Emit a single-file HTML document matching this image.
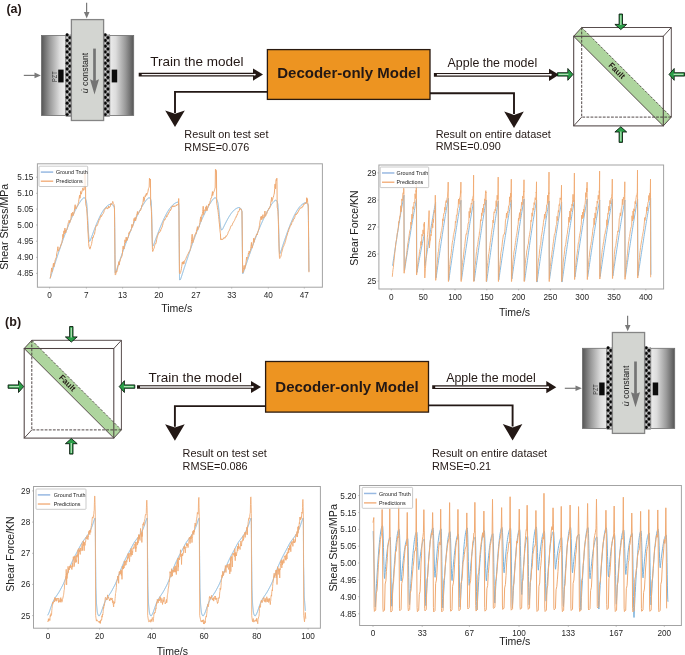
<!DOCTYPE html>
<html><head><meta charset="utf-8"><style>
html,body{margin:0;padding:0;background:#fff;width:685px;height:655px;overflow:hidden}
svg{display:block;will-change:transform}
text{font-family:"Liberation Sans",sans-serif}
</style></head><body>
<svg width="685" height="655" viewBox="0 0 685 655" font-family="Liberation Sans, sans-serif">
<rect width="685" height="655" fill="#fff"/>
<defs>
<linearGradient id="gL" x1="0" x2="1" y1="0" y2="0">
 <stop offset="0" stop-color="#555"/><stop offset="0.35" stop-color="#9a9a9a"/><stop offset="0.75" stop-color="#dcdcdc"/><stop offset="1" stop-color="#ececec"/></linearGradient>
<linearGradient id="gR" x1="1" x2="0" y1="0" y2="0">
 <stop offset="0" stop-color="#555"/><stop offset="0.35" stop-color="#9a9a9a"/><stop offset="0.75" stop-color="#dcdcdc"/><stop offset="1" stop-color="#ececec"/></linearGradient>
<linearGradient id="gG" x1="0" x2="0" y1="0" y2="1">
 <stop offset="0" stop-color="#6cc27a"/><stop offset="1" stop-color="#1f8a3e"/></linearGradient>
</defs>
<text x="6.40" y="12.80" font-size="12.5" font-weight="700" fill="#231815" text-anchor="start" >(a)</text>
<g transform="translate(0.00,0.00)">
<rect x="41.4" y="35.4" width="24.3" height="80.1" fill="url(#gL)" stroke="#6e6e6e" stroke-width="0.8"/>
<rect x="109.8" y="35.4" width="23.9" height="80.1" fill="url(#gR)" stroke="#6e6e6e" stroke-width="0.8"/>
<rect x="65.7" y="34.2" width="6.0" height="82.6" fill="#8a8a8a"/>
<circle cx="67.10" cy="34.80" r="1.45" fill="#050505"/>
<circle cx="69.90" cy="34.80" r="0.75" fill="#f0f0f0"/>
<circle cx="69.90" cy="37.65" r="1.45" fill="#050505"/>
<circle cx="67.10" cy="37.65" r="0.75" fill="#f0f0f0"/>
<circle cx="67.10" cy="40.50" r="1.45" fill="#050505"/>
<circle cx="69.90" cy="40.50" r="0.75" fill="#f0f0f0"/>
<circle cx="69.90" cy="43.35" r="1.45" fill="#050505"/>
<circle cx="67.10" cy="43.35" r="0.75" fill="#f0f0f0"/>
<circle cx="67.10" cy="46.20" r="1.45" fill="#050505"/>
<circle cx="69.90" cy="46.20" r="0.75" fill="#f0f0f0"/>
<circle cx="69.90" cy="49.05" r="1.45" fill="#050505"/>
<circle cx="67.10" cy="49.05" r="0.75" fill="#f0f0f0"/>
<circle cx="67.10" cy="51.90" r="1.45" fill="#050505"/>
<circle cx="69.90" cy="51.90" r="0.75" fill="#f0f0f0"/>
<circle cx="69.90" cy="54.75" r="1.45" fill="#050505"/>
<circle cx="67.10" cy="54.75" r="0.75" fill="#f0f0f0"/>
<circle cx="67.10" cy="57.60" r="1.45" fill="#050505"/>
<circle cx="69.90" cy="57.60" r="0.75" fill="#f0f0f0"/>
<circle cx="69.90" cy="60.45" r="1.45" fill="#050505"/>
<circle cx="67.10" cy="60.45" r="0.75" fill="#f0f0f0"/>
<circle cx="67.10" cy="63.30" r="1.45" fill="#050505"/>
<circle cx="69.90" cy="63.30" r="0.75" fill="#f0f0f0"/>
<circle cx="69.90" cy="66.15" r="1.45" fill="#050505"/>
<circle cx="67.10" cy="66.15" r="0.75" fill="#f0f0f0"/>
<circle cx="67.10" cy="69.00" r="1.45" fill="#050505"/>
<circle cx="69.90" cy="69.00" r="0.75" fill="#f0f0f0"/>
<circle cx="69.90" cy="71.85" r="1.45" fill="#050505"/>
<circle cx="67.10" cy="71.85" r="0.75" fill="#f0f0f0"/>
<circle cx="67.10" cy="74.70" r="1.45" fill="#050505"/>
<circle cx="69.90" cy="74.70" r="0.75" fill="#f0f0f0"/>
<circle cx="69.90" cy="77.55" r="1.45" fill="#050505"/>
<circle cx="67.10" cy="77.55" r="0.75" fill="#f0f0f0"/>
<circle cx="67.10" cy="80.40" r="1.45" fill="#050505"/>
<circle cx="69.90" cy="80.40" r="0.75" fill="#f0f0f0"/>
<circle cx="69.90" cy="83.25" r="1.45" fill="#050505"/>
<circle cx="67.10" cy="83.25" r="0.75" fill="#f0f0f0"/>
<circle cx="67.10" cy="86.10" r="1.45" fill="#050505"/>
<circle cx="69.90" cy="86.10" r="0.75" fill="#f0f0f0"/>
<circle cx="69.90" cy="88.95" r="1.45" fill="#050505"/>
<circle cx="67.10" cy="88.95" r="0.75" fill="#f0f0f0"/>
<circle cx="67.10" cy="91.80" r="1.45" fill="#050505"/>
<circle cx="69.90" cy="91.80" r="0.75" fill="#f0f0f0"/>
<circle cx="69.90" cy="94.65" r="1.45" fill="#050505"/>
<circle cx="67.10" cy="94.65" r="0.75" fill="#f0f0f0"/>
<circle cx="67.10" cy="97.50" r="1.45" fill="#050505"/>
<circle cx="69.90" cy="97.50" r="0.75" fill="#f0f0f0"/>
<circle cx="69.90" cy="100.35" r="1.45" fill="#050505"/>
<circle cx="67.10" cy="100.35" r="0.75" fill="#f0f0f0"/>
<circle cx="67.10" cy="103.20" r="1.45" fill="#050505"/>
<circle cx="69.90" cy="103.20" r="0.75" fill="#f0f0f0"/>
<circle cx="69.90" cy="106.05" r="1.45" fill="#050505"/>
<circle cx="67.10" cy="106.05" r="0.75" fill="#f0f0f0"/>
<circle cx="67.10" cy="108.90" r="1.45" fill="#050505"/>
<circle cx="69.90" cy="108.90" r="0.75" fill="#f0f0f0"/>
<circle cx="69.90" cy="111.75" r="1.45" fill="#050505"/>
<circle cx="67.10" cy="111.75" r="0.75" fill="#f0f0f0"/>
<circle cx="67.10" cy="114.60" r="1.45" fill="#050505"/>
<circle cx="69.90" cy="114.60" r="0.75" fill="#f0f0f0"/>
<rect x="103.8" y="34.2" width="6.0" height="82.6" fill="#8a8a8a"/>
<circle cx="105.20" cy="34.80" r="1.45" fill="#050505"/>
<circle cx="108.00" cy="34.80" r="0.75" fill="#f0f0f0"/>
<circle cx="108.00" cy="37.65" r="1.45" fill="#050505"/>
<circle cx="105.20" cy="37.65" r="0.75" fill="#f0f0f0"/>
<circle cx="105.20" cy="40.50" r="1.45" fill="#050505"/>
<circle cx="108.00" cy="40.50" r="0.75" fill="#f0f0f0"/>
<circle cx="108.00" cy="43.35" r="1.45" fill="#050505"/>
<circle cx="105.20" cy="43.35" r="0.75" fill="#f0f0f0"/>
<circle cx="105.20" cy="46.20" r="1.45" fill="#050505"/>
<circle cx="108.00" cy="46.20" r="0.75" fill="#f0f0f0"/>
<circle cx="108.00" cy="49.05" r="1.45" fill="#050505"/>
<circle cx="105.20" cy="49.05" r="0.75" fill="#f0f0f0"/>
<circle cx="105.20" cy="51.90" r="1.45" fill="#050505"/>
<circle cx="108.00" cy="51.90" r="0.75" fill="#f0f0f0"/>
<circle cx="108.00" cy="54.75" r="1.45" fill="#050505"/>
<circle cx="105.20" cy="54.75" r="0.75" fill="#f0f0f0"/>
<circle cx="105.20" cy="57.60" r="1.45" fill="#050505"/>
<circle cx="108.00" cy="57.60" r="0.75" fill="#f0f0f0"/>
<circle cx="108.00" cy="60.45" r="1.45" fill="#050505"/>
<circle cx="105.20" cy="60.45" r="0.75" fill="#f0f0f0"/>
<circle cx="105.20" cy="63.30" r="1.45" fill="#050505"/>
<circle cx="108.00" cy="63.30" r="0.75" fill="#f0f0f0"/>
<circle cx="108.00" cy="66.15" r="1.45" fill="#050505"/>
<circle cx="105.20" cy="66.15" r="0.75" fill="#f0f0f0"/>
<circle cx="105.20" cy="69.00" r="1.45" fill="#050505"/>
<circle cx="108.00" cy="69.00" r="0.75" fill="#f0f0f0"/>
<circle cx="108.00" cy="71.85" r="1.45" fill="#050505"/>
<circle cx="105.20" cy="71.85" r="0.75" fill="#f0f0f0"/>
<circle cx="105.20" cy="74.70" r="1.45" fill="#050505"/>
<circle cx="108.00" cy="74.70" r="0.75" fill="#f0f0f0"/>
<circle cx="108.00" cy="77.55" r="1.45" fill="#050505"/>
<circle cx="105.20" cy="77.55" r="0.75" fill="#f0f0f0"/>
<circle cx="105.20" cy="80.40" r="1.45" fill="#050505"/>
<circle cx="108.00" cy="80.40" r="0.75" fill="#f0f0f0"/>
<circle cx="108.00" cy="83.25" r="1.45" fill="#050505"/>
<circle cx="105.20" cy="83.25" r="0.75" fill="#f0f0f0"/>
<circle cx="105.20" cy="86.10" r="1.45" fill="#050505"/>
<circle cx="108.00" cy="86.10" r="0.75" fill="#f0f0f0"/>
<circle cx="108.00" cy="88.95" r="1.45" fill="#050505"/>
<circle cx="105.20" cy="88.95" r="0.75" fill="#f0f0f0"/>
<circle cx="105.20" cy="91.80" r="1.45" fill="#050505"/>
<circle cx="108.00" cy="91.80" r="0.75" fill="#f0f0f0"/>
<circle cx="108.00" cy="94.65" r="1.45" fill="#050505"/>
<circle cx="105.20" cy="94.65" r="0.75" fill="#f0f0f0"/>
<circle cx="105.20" cy="97.50" r="1.45" fill="#050505"/>
<circle cx="108.00" cy="97.50" r="0.75" fill="#f0f0f0"/>
<circle cx="108.00" cy="100.35" r="1.45" fill="#050505"/>
<circle cx="105.20" cy="100.35" r="0.75" fill="#f0f0f0"/>
<circle cx="105.20" cy="103.20" r="1.45" fill="#050505"/>
<circle cx="108.00" cy="103.20" r="0.75" fill="#f0f0f0"/>
<circle cx="108.00" cy="106.05" r="1.45" fill="#050505"/>
<circle cx="105.20" cy="106.05" r="0.75" fill="#f0f0f0"/>
<circle cx="105.20" cy="108.90" r="1.45" fill="#050505"/>
<circle cx="108.00" cy="108.90" r="0.75" fill="#f0f0f0"/>
<circle cx="108.00" cy="111.75" r="1.45" fill="#050505"/>
<circle cx="105.20" cy="111.75" r="0.75" fill="#f0f0f0"/>
<circle cx="105.20" cy="114.60" r="1.45" fill="#050505"/>
<circle cx="108.00" cy="114.60" r="0.75" fill="#f0f0f0"/>
<rect x="71.4" y="19.6" width="32.2" height="100.9" fill="#d3d5d1" stroke="#858585" stroke-width="1.3"/>
<line x1="86.6" y1="2.8" x2="86.6" y2="13" stroke="#7a7a7a" stroke-width="1.2"/>
<polygon points="83.9,12 89.5,12 86.7,18.4" fill="#7a7a7a"/>
<line x1="23.8" y1="75.4" x2="35" y2="75.4" stroke="#7a7a7a" stroke-width="1.2"/>
<polygon points="34.5,72.6 34.5,78.2 40.9,75.4" fill="#7a7a7a"/>
<rect x="58.2" y="69.6" width="5.4" height="12.8" fill="#0c0c0c"/>
<rect x="111.7" y="69.6" width="5.5" height="12.8" fill="#0c0c0c"/>
<text x="-5.3" y="0" font-size="7" fill="#333" textLength="10.6" lengthAdjust="spacingAndGlyphs" transform="translate(57.0,76.6) rotate(-90)" font-family="Liberation Sans, sans-serif">PZT</text>
<text x="0" y="0" font-size="8.8" fill="#222" text-anchor="middle" transform="translate(88.3,73) rotate(-90)" font-family="Liberation Sans, sans-serif"><tspan font-style="italic">u&#775;</tspan> constant</text>
<line x1="94.5" y1="48.6" x2="94.5" y2="82" stroke="#747474" stroke-width="2.7"/>
<polygon points="90.0,79.3 94.5,81.2 99.0,79.3 94.5,94.4" fill="#747474"/>
</g>
<text x="150.20" y="66.10" font-size="13.5" font-weight="400" fill="#231815" text-anchor="start" >Train the model</text>
<line x1="138.7" y1="74.6" x2="254.0" y2="74.6" stroke="#231815" stroke-width="3.7"/>
<polygon points="253.0,68.5 263.0,74.6 253.0,80.69999999999999" fill="#231815"/>
<line x1="141.7" y1="74.6" x2="254.8" y2="74.6" stroke="#f6f4f4" stroke-width="1.4"/>
<circle cx="254.8" cy="74.6" r="0.95" fill="#fff"/>
<rect x="267.4" y="49.6" width="162.6" height="49.8" fill="#ED9421" stroke="#2a1a10" stroke-width="1.3"/>
<text x="348.90" y="78.40" font-size="15" font-weight="700" fill="#231815" text-anchor="middle" >Decoder-only Model</text>
<path d="M267.4,91.9 H175.0 V112.9" fill="none" stroke="#231815" stroke-width="1.9"/>
<polygon points="165.2,110.4 175.0,113.80000000000001 184.8,110.4 175.0,126.9" fill="#231815"/>
<path d="M430.0,93.2 H514.0 V114.0" fill="none" stroke="#231815" stroke-width="1.9"/>
<polygon points="504.2,111.5 514.0,114.9 523.8,111.5 514.0,128.0" fill="#231815"/>
<text x="447.60" y="66.90" font-size="12.4" font-weight="400" fill="#231815" text-anchor="start" >Apple the model</text>
<line x1="433.9" y1="74.8" x2="550.0" y2="74.8" stroke="#231815" stroke-width="3.7"/>
<polygon points="549.0,68.7 559.0,74.8 549.0,80.89999999999999" fill="#231815"/>
<line x1="436.9" y1="74.8" x2="550.8" y2="74.8" stroke="#f6f4f4" stroke-width="1.4"/>
<circle cx="550.8" cy="74.8" r="0.95" fill="#fff"/>
<text x="184.30" y="137.90" font-size="10.9" font-weight="400" fill="#231815" text-anchor="start" >Result on test set</text>
<text x="184.30" y="150.50" font-size="10.9" font-weight="400" fill="#231815" text-anchor="start" >RMSE=0.076</text>
<text x="435.70" y="138.20" font-size="10.9" font-weight="400" fill="#231815" text-anchor="start" >Result on entire dataset</text>
<text x="435.70" y="150.40" font-size="10.9" font-weight="400" fill="#231815" text-anchor="start" >RMSE=0.090</text>
<polygon points="573.7,36.3 581.7,27.499999999999996 671.3000000000001,117.1 663.3000000000001,125.89999999999999" fill="#aed59e"/>
<line x1="573.7" y1="36.3" x2="663.3000000000001" y2="125.89999999999999" stroke="#4f4343" stroke-width="0.95"/>
<line x1="581.7" y1="27.499999999999996" x2="671.3000000000001" y2="117.1" stroke="#3f3434" stroke-width="0.8" stroke-dasharray="2.4,1.5"/>
<path d="M581.7,27.499999999999996 V117.1 H671.3000000000001" fill="none" stroke="#3f3434" stroke-width="0.9" stroke-dasharray="2.8,1.3"/>
<path d="M581.7,27.499999999999996 H671.3000000000001 V117.1" fill="none" stroke="#4f4343" stroke-width="0.95"/>
<line x1="573.7" y1="36.3" x2="581.7" y2="27.499999999999996" stroke="#4f4343" stroke-width="0.95"/>
<line x1="663.3000000000001" y1="36.3" x2="671.3000000000001" y2="27.499999999999996" stroke="#4f4343" stroke-width="0.95"/>
<line x1="663.3000000000001" y1="125.89999999999999" x2="671.3000000000001" y2="117.1" stroke="#4f4343" stroke-width="0.95"/>
<line x1="573.7" y1="125.89999999999999" x2="581.7" y2="117.1" stroke="#4f4343" stroke-width="0.95"/>
<rect x="573.7" y="36.3" width="89.6" height="89.6" fill="none" stroke="#4f4343" stroke-width="1.05"/>
<text x="0" y="0" font-size="8.2" font-weight="700" fill="#231815" text-anchor="middle" transform="translate(614.90,72.60) rotate(45)" font-family="Liberation Sans, sans-serif">Fault</text>
<g transform="translate(620.80,29.60) rotate(90)"><polygon points="0.00,0.00 -5.20,-5.90 -5.20,-1.70 -15.60,-1.70 -15.60,1.70 -5.20,1.70 -5.20,5.90" fill="#2a9f48" stroke="#07140a" stroke-width="0.85" stroke-linejoin="miter"/><line x1="-14.40" y1="0" x2="-4.60" y2="0" stroke="#b0e2b6" stroke-width="1.3"/></g>
<g transform="translate(573.00,74.40) rotate(0)"><polygon points="0.00,0.00 -5.20,-5.90 -5.20,-1.70 -15.60,-1.70 -15.60,1.70 -5.20,1.70 -5.20,5.90" fill="#2a9f48" stroke="#07140a" stroke-width="0.85" stroke-linejoin="miter"/><line x1="-14.40" y1="0" x2="-4.60" y2="0" stroke="#b0e2b6" stroke-width="1.3"/></g>
<g transform="translate(669.00,74.40) rotate(180)"><polygon points="0.00,0.00 -5.20,-5.90 -5.20,-1.70 -15.60,-1.70 -15.60,1.70 -5.20,1.70 -5.20,5.90" fill="#2a9f48" stroke="#07140a" stroke-width="0.85" stroke-linejoin="miter"/><line x1="-14.40" y1="0" x2="-4.60" y2="0" stroke="#b0e2b6" stroke-width="1.3"/></g>
<g transform="translate(620.80,126.80) rotate(270)"><polygon points="0.00,0.00 -5.20,-5.90 -5.20,-1.70 -15.60,-1.70 -15.60,1.70 -5.20,1.70 -5.20,5.90" fill="#2a9f48" stroke="#07140a" stroke-width="0.85" stroke-linejoin="miter"/><line x1="-14.40" y1="0" x2="-4.60" y2="0" stroke="#b0e2b6" stroke-width="1.3"/></g>
<text x="5.10" y="325.50" font-size="12.5" font-weight="700" fill="#231815" text-anchor="start" >(b)</text>
<polygon points="24.2,348.5 31.799999999999997,340.3 121.39999999999999,429.9 113.8,438.1" fill="#aed59e"/>
<line x1="24.2" y1="348.5" x2="113.8" y2="438.1" stroke="#4f4343" stroke-width="0.95"/>
<line x1="31.799999999999997" y1="340.3" x2="121.39999999999999" y2="429.9" stroke="#3f3434" stroke-width="0.8" stroke-dasharray="2.4,1.5"/>
<path d="M31.799999999999997,340.3 V429.9 H121.39999999999999" fill="none" stroke="#3f3434" stroke-width="0.9" stroke-dasharray="2.8,1.3"/>
<path d="M31.799999999999997,340.3 H121.39999999999999 V429.9" fill="none" stroke="#4f4343" stroke-width="0.95"/>
<line x1="24.2" y1="348.5" x2="31.799999999999997" y2="340.3" stroke="#4f4343" stroke-width="0.95"/>
<line x1="113.8" y1="348.5" x2="121.39999999999999" y2="340.3" stroke="#4f4343" stroke-width="0.95"/>
<line x1="113.8" y1="438.1" x2="121.39999999999999" y2="429.90000000000003" stroke="#4f4343" stroke-width="0.95"/>
<line x1="24.2" y1="438.1" x2="31.799999999999997" y2="429.90000000000003" stroke="#4f4343" stroke-width="0.95"/>
<rect x="24.2" y="348.5" width="89.6" height="89.6" fill="none" stroke="#4f4343" stroke-width="1.05"/>
<text x="0" y="0" font-size="8.2" font-weight="700" fill="#231815" text-anchor="middle" transform="translate(65.50,384.90) rotate(45)" font-family="Liberation Sans, sans-serif">Fault</text>
<g transform="translate(71.30,342.10) rotate(90)"><polygon points="0.00,0.00 -5.20,-5.90 -5.20,-1.70 -15.60,-1.70 -15.60,1.70 -5.20,1.70 -5.20,5.90" fill="#2a9f48" stroke="#07140a" stroke-width="0.85" stroke-linejoin="miter"/><line x1="-14.40" y1="0" x2="-4.60" y2="0" stroke="#b0e2b6" stroke-width="1.3"/></g>
<g transform="translate(23.70,386.60) rotate(0)"><polygon points="0.00,0.00 -5.20,-5.90 -5.20,-1.70 -15.60,-1.70 -15.60,1.70 -5.20,1.70 -5.20,5.90" fill="#2a9f48" stroke="#07140a" stroke-width="0.85" stroke-linejoin="miter"/><line x1="-14.40" y1="0" x2="-4.60" y2="0" stroke="#b0e2b6" stroke-width="1.3"/></g>
<g transform="translate(119.20,386.60) rotate(180)"><polygon points="0.00,0.00 -5.20,-5.90 -5.20,-1.70 -15.60,-1.70 -15.60,1.70 -5.20,1.70 -5.20,5.90" fill="#2a9f48" stroke="#07140a" stroke-width="0.85" stroke-linejoin="miter"/><line x1="-14.40" y1="0" x2="-4.60" y2="0" stroke="#b0e2b6" stroke-width="1.3"/></g>
<g transform="translate(71.30,438.50) rotate(270)"><polygon points="0.00,0.00 -5.20,-5.90 -5.20,-1.70 -15.60,-1.70 -15.60,1.70 -5.20,1.70 -5.20,5.90" fill="#2a9f48" stroke="#07140a" stroke-width="0.85" stroke-linejoin="miter"/><line x1="-14.40" y1="0" x2="-4.60" y2="0" stroke="#b0e2b6" stroke-width="1.3"/></g>
<text x="148.60" y="381.50" font-size="13.5" font-weight="400" fill="#231815" text-anchor="start" >Train the model</text>
<line x1="137.0" y1="387.0" x2="252.0" y2="387.0" stroke="#231815" stroke-width="3.7"/>
<polygon points="251.0,380.9 261.0,387.0 251.0,393.1" fill="#231815"/>
<line x1="140.0" y1="387.0" x2="252.8" y2="387.0" stroke="#f6f4f4" stroke-width="1.4"/>
<circle cx="252.8" cy="387.0" r="0.95" fill="#fff"/>
<rect x="265.6" y="361.5" width="162.9" height="50.6" fill="#ED9421" stroke="#2a1a10" stroke-width="1.3"/>
<text x="347.00" y="392.30" font-size="15" font-weight="700" fill="#231815" text-anchor="middle" >Decoder-only Model</text>
<path d="M265.6,406.1 H174.9 V426.7" fill="none" stroke="#231815" stroke-width="1.9"/>
<polygon points="165.1,424.2 174.9,427.59999999999997 184.70000000000002,424.2 174.9,440.7" fill="#231815"/>
<path d="M428.5,405.4 H512.6 V426.5" fill="none" stroke="#231815" stroke-width="1.9"/>
<polygon points="502.8,424.0 512.6,427.4 522.4,424.0 512.6,440.5" fill="#231815"/>
<text x="446.20" y="382.00" font-size="12.4" font-weight="400" fill="#231815" text-anchor="start" >Apple the model</text>
<line x1="432.2" y1="387.2" x2="547.3" y2="387.2" stroke="#231815" stroke-width="3.7"/>
<polygon points="546.3,381.09999999999997 556.3,387.2 546.3,393.3" fill="#231815"/>
<line x1="435.2" y1="387.2" x2="548.0999999999999" y2="387.2" stroke="#f6f4f4" stroke-width="1.4"/>
<circle cx="548.0999999999999" cy="387.2" r="0.95" fill="#fff"/>
<text x="182.60" y="456.80" font-size="10.9" font-weight="400" fill="#231815" text-anchor="start" >Result on test set</text>
<text x="182.60" y="469.60" font-size="10.9" font-weight="400" fill="#231815" text-anchor="start" >RMSE=0.086</text>
<text x="432.00" y="456.80" font-size="10.9" font-weight="400" fill="#231815" text-anchor="start" >Result on entire dataset</text>
<text x="432.00" y="469.90" font-size="10.9" font-weight="400" fill="#231815" text-anchor="start" >RMSE=0.21</text>
<g transform="translate(541.00,312.90)">
<rect x="41.4" y="35.4" width="24.3" height="80.1" fill="url(#gL)" stroke="#6e6e6e" stroke-width="0.8"/>
<rect x="109.8" y="35.4" width="23.9" height="80.1" fill="url(#gR)" stroke="#6e6e6e" stroke-width="0.8"/>
<rect x="65.7" y="34.2" width="6.0" height="82.6" fill="#8a8a8a"/>
<circle cx="67.10" cy="34.80" r="1.45" fill="#050505"/>
<circle cx="69.90" cy="34.80" r="0.75" fill="#f0f0f0"/>
<circle cx="69.90" cy="37.65" r="1.45" fill="#050505"/>
<circle cx="67.10" cy="37.65" r="0.75" fill="#f0f0f0"/>
<circle cx="67.10" cy="40.50" r="1.45" fill="#050505"/>
<circle cx="69.90" cy="40.50" r="0.75" fill="#f0f0f0"/>
<circle cx="69.90" cy="43.35" r="1.45" fill="#050505"/>
<circle cx="67.10" cy="43.35" r="0.75" fill="#f0f0f0"/>
<circle cx="67.10" cy="46.20" r="1.45" fill="#050505"/>
<circle cx="69.90" cy="46.20" r="0.75" fill="#f0f0f0"/>
<circle cx="69.90" cy="49.05" r="1.45" fill="#050505"/>
<circle cx="67.10" cy="49.05" r="0.75" fill="#f0f0f0"/>
<circle cx="67.10" cy="51.90" r="1.45" fill="#050505"/>
<circle cx="69.90" cy="51.90" r="0.75" fill="#f0f0f0"/>
<circle cx="69.90" cy="54.75" r="1.45" fill="#050505"/>
<circle cx="67.10" cy="54.75" r="0.75" fill="#f0f0f0"/>
<circle cx="67.10" cy="57.60" r="1.45" fill="#050505"/>
<circle cx="69.90" cy="57.60" r="0.75" fill="#f0f0f0"/>
<circle cx="69.90" cy="60.45" r="1.45" fill="#050505"/>
<circle cx="67.10" cy="60.45" r="0.75" fill="#f0f0f0"/>
<circle cx="67.10" cy="63.30" r="1.45" fill="#050505"/>
<circle cx="69.90" cy="63.30" r="0.75" fill="#f0f0f0"/>
<circle cx="69.90" cy="66.15" r="1.45" fill="#050505"/>
<circle cx="67.10" cy="66.15" r="0.75" fill="#f0f0f0"/>
<circle cx="67.10" cy="69.00" r="1.45" fill="#050505"/>
<circle cx="69.90" cy="69.00" r="0.75" fill="#f0f0f0"/>
<circle cx="69.90" cy="71.85" r="1.45" fill="#050505"/>
<circle cx="67.10" cy="71.85" r="0.75" fill="#f0f0f0"/>
<circle cx="67.10" cy="74.70" r="1.45" fill="#050505"/>
<circle cx="69.90" cy="74.70" r="0.75" fill="#f0f0f0"/>
<circle cx="69.90" cy="77.55" r="1.45" fill="#050505"/>
<circle cx="67.10" cy="77.55" r="0.75" fill="#f0f0f0"/>
<circle cx="67.10" cy="80.40" r="1.45" fill="#050505"/>
<circle cx="69.90" cy="80.40" r="0.75" fill="#f0f0f0"/>
<circle cx="69.90" cy="83.25" r="1.45" fill="#050505"/>
<circle cx="67.10" cy="83.25" r="0.75" fill="#f0f0f0"/>
<circle cx="67.10" cy="86.10" r="1.45" fill="#050505"/>
<circle cx="69.90" cy="86.10" r="0.75" fill="#f0f0f0"/>
<circle cx="69.90" cy="88.95" r="1.45" fill="#050505"/>
<circle cx="67.10" cy="88.95" r="0.75" fill="#f0f0f0"/>
<circle cx="67.10" cy="91.80" r="1.45" fill="#050505"/>
<circle cx="69.90" cy="91.80" r="0.75" fill="#f0f0f0"/>
<circle cx="69.90" cy="94.65" r="1.45" fill="#050505"/>
<circle cx="67.10" cy="94.65" r="0.75" fill="#f0f0f0"/>
<circle cx="67.10" cy="97.50" r="1.45" fill="#050505"/>
<circle cx="69.90" cy="97.50" r="0.75" fill="#f0f0f0"/>
<circle cx="69.90" cy="100.35" r="1.45" fill="#050505"/>
<circle cx="67.10" cy="100.35" r="0.75" fill="#f0f0f0"/>
<circle cx="67.10" cy="103.20" r="1.45" fill="#050505"/>
<circle cx="69.90" cy="103.20" r="0.75" fill="#f0f0f0"/>
<circle cx="69.90" cy="106.05" r="1.45" fill="#050505"/>
<circle cx="67.10" cy="106.05" r="0.75" fill="#f0f0f0"/>
<circle cx="67.10" cy="108.90" r="1.45" fill="#050505"/>
<circle cx="69.90" cy="108.90" r="0.75" fill="#f0f0f0"/>
<circle cx="69.90" cy="111.75" r="1.45" fill="#050505"/>
<circle cx="67.10" cy="111.75" r="0.75" fill="#f0f0f0"/>
<circle cx="67.10" cy="114.60" r="1.45" fill="#050505"/>
<circle cx="69.90" cy="114.60" r="0.75" fill="#f0f0f0"/>
<rect x="103.8" y="34.2" width="6.0" height="82.6" fill="#8a8a8a"/>
<circle cx="105.20" cy="34.80" r="1.45" fill="#050505"/>
<circle cx="108.00" cy="34.80" r="0.75" fill="#f0f0f0"/>
<circle cx="108.00" cy="37.65" r="1.45" fill="#050505"/>
<circle cx="105.20" cy="37.65" r="0.75" fill="#f0f0f0"/>
<circle cx="105.20" cy="40.50" r="1.45" fill="#050505"/>
<circle cx="108.00" cy="40.50" r="0.75" fill="#f0f0f0"/>
<circle cx="108.00" cy="43.35" r="1.45" fill="#050505"/>
<circle cx="105.20" cy="43.35" r="0.75" fill="#f0f0f0"/>
<circle cx="105.20" cy="46.20" r="1.45" fill="#050505"/>
<circle cx="108.00" cy="46.20" r="0.75" fill="#f0f0f0"/>
<circle cx="108.00" cy="49.05" r="1.45" fill="#050505"/>
<circle cx="105.20" cy="49.05" r="0.75" fill="#f0f0f0"/>
<circle cx="105.20" cy="51.90" r="1.45" fill="#050505"/>
<circle cx="108.00" cy="51.90" r="0.75" fill="#f0f0f0"/>
<circle cx="108.00" cy="54.75" r="1.45" fill="#050505"/>
<circle cx="105.20" cy="54.75" r="0.75" fill="#f0f0f0"/>
<circle cx="105.20" cy="57.60" r="1.45" fill="#050505"/>
<circle cx="108.00" cy="57.60" r="0.75" fill="#f0f0f0"/>
<circle cx="108.00" cy="60.45" r="1.45" fill="#050505"/>
<circle cx="105.20" cy="60.45" r="0.75" fill="#f0f0f0"/>
<circle cx="105.20" cy="63.30" r="1.45" fill="#050505"/>
<circle cx="108.00" cy="63.30" r="0.75" fill="#f0f0f0"/>
<circle cx="108.00" cy="66.15" r="1.45" fill="#050505"/>
<circle cx="105.20" cy="66.15" r="0.75" fill="#f0f0f0"/>
<circle cx="105.20" cy="69.00" r="1.45" fill="#050505"/>
<circle cx="108.00" cy="69.00" r="0.75" fill="#f0f0f0"/>
<circle cx="108.00" cy="71.85" r="1.45" fill="#050505"/>
<circle cx="105.20" cy="71.85" r="0.75" fill="#f0f0f0"/>
<circle cx="105.20" cy="74.70" r="1.45" fill="#050505"/>
<circle cx="108.00" cy="74.70" r="0.75" fill="#f0f0f0"/>
<circle cx="108.00" cy="77.55" r="1.45" fill="#050505"/>
<circle cx="105.20" cy="77.55" r="0.75" fill="#f0f0f0"/>
<circle cx="105.20" cy="80.40" r="1.45" fill="#050505"/>
<circle cx="108.00" cy="80.40" r="0.75" fill="#f0f0f0"/>
<circle cx="108.00" cy="83.25" r="1.45" fill="#050505"/>
<circle cx="105.20" cy="83.25" r="0.75" fill="#f0f0f0"/>
<circle cx="105.20" cy="86.10" r="1.45" fill="#050505"/>
<circle cx="108.00" cy="86.10" r="0.75" fill="#f0f0f0"/>
<circle cx="108.00" cy="88.95" r="1.45" fill="#050505"/>
<circle cx="105.20" cy="88.95" r="0.75" fill="#f0f0f0"/>
<circle cx="105.20" cy="91.80" r="1.45" fill="#050505"/>
<circle cx="108.00" cy="91.80" r="0.75" fill="#f0f0f0"/>
<circle cx="108.00" cy="94.65" r="1.45" fill="#050505"/>
<circle cx="105.20" cy="94.65" r="0.75" fill="#f0f0f0"/>
<circle cx="105.20" cy="97.50" r="1.45" fill="#050505"/>
<circle cx="108.00" cy="97.50" r="0.75" fill="#f0f0f0"/>
<circle cx="108.00" cy="100.35" r="1.45" fill="#050505"/>
<circle cx="105.20" cy="100.35" r="0.75" fill="#f0f0f0"/>
<circle cx="105.20" cy="103.20" r="1.45" fill="#050505"/>
<circle cx="108.00" cy="103.20" r="0.75" fill="#f0f0f0"/>
<circle cx="108.00" cy="106.05" r="1.45" fill="#050505"/>
<circle cx="105.20" cy="106.05" r="0.75" fill="#f0f0f0"/>
<circle cx="105.20" cy="108.90" r="1.45" fill="#050505"/>
<circle cx="108.00" cy="108.90" r="0.75" fill="#f0f0f0"/>
<circle cx="108.00" cy="111.75" r="1.45" fill="#050505"/>
<circle cx="105.20" cy="111.75" r="0.75" fill="#f0f0f0"/>
<circle cx="105.20" cy="114.60" r="1.45" fill="#050505"/>
<circle cx="108.00" cy="114.60" r="0.75" fill="#f0f0f0"/>
<rect x="71.4" y="19.6" width="32.2" height="100.9" fill="#d3d5d1" stroke="#858585" stroke-width="1.3"/>
<line x1="86.6" y1="2.8" x2="86.6" y2="13" stroke="#7a7a7a" stroke-width="1.2"/>
<polygon points="83.9,12 89.5,12 86.7,18.4" fill="#7a7a7a"/>
<line x1="23.8" y1="75.4" x2="35" y2="75.4" stroke="#7a7a7a" stroke-width="1.2"/>
<polygon points="34.5,72.6 34.5,78.2 40.9,75.4" fill="#7a7a7a"/>
<rect x="58.2" y="69.6" width="5.4" height="12.8" fill="#0c0c0c"/>
<rect x="111.7" y="69.6" width="5.5" height="12.8" fill="#0c0c0c"/>
<text x="-5.3" y="0" font-size="7" fill="#333" textLength="10.6" lengthAdjust="spacingAndGlyphs" transform="translate(57.0,76.6) rotate(-90)" font-family="Liberation Sans, sans-serif">PZT</text>
<text x="0" y="0" font-size="8.8" fill="#222" text-anchor="middle" transform="translate(88.3,73) rotate(-90)" font-family="Liberation Sans, sans-serif"><tspan font-style="italic">u&#775;</tspan> constant</text>
<line x1="94.5" y1="48.6" x2="94.5" y2="82" stroke="#747474" stroke-width="2.7"/>
<polygon points="90.0,79.3 94.5,81.2 99.0,79.3 94.5,94.4" fill="#747474"/>
</g>
<rect x="37.4" y="163.8" width="285.0" height="123.39999999999998" fill="none" stroke="#a3a3a3" stroke-width="1"/>
<polyline points="50.09,278.60 50.13,278.47 50.18,278.33 50.23,278.17 50.28,278.01 50.34,277.82 50.40,277.63 50.47,277.43 50.53,277.22 50.60,277.01 50.67,276.78 50.75,276.56 50.82,276.33 50.89,276.09 50.97,275.86 51.04,275.63 51.12,275.39 51.19,275.15 51.27,274.91 51.35,274.68 51.42,274.44 51.50,274.20 51.58,273.96 51.65,273.72 51.73,273.49 51.80,273.25 51.88,273.01 51.96,272.77 52.03,272.53 52.11,272.30 52.19,272.06 52.26,271.82 52.34,271.58 52.42,271.34 52.49,271.10 52.57,270.87 52.64,270.63 52.72,270.39 52.80,270.15 52.87,269.91 52.95,269.68 53.03,269.44 53.10,269.20 53.18,268.96 53.26,268.72 53.33,268.49 53.41,268.25 53.49,268.01 53.56,267.77 53.64,267.54 53.72,267.30 53.79,267.06 53.87,266.82 53.95,266.58 54.03,266.35 54.10,266.11 54.18,265.87 54.26,265.63 54.33,265.39 54.41,265.16 54.49,264.92 54.56,264.68 54.64,264.44 54.72,264.21 54.80,263.97 54.87,263.73 54.95,263.49 55.03,263.25 55.10,263.02 55.18,262.78 55.26,262.54 55.34,262.30 55.41,262.07 55.49,261.83 55.57,261.59 55.65,261.35 55.73,261.12 55.80,260.88 55.88,260.64 55.96,260.40 56.04,260.16 56.11,259.93 56.19,259.69 56.27,259.45 56.35,259.21 56.43,258.98 56.50,258.74 56.58,258.50 56.66,258.26 56.74,258.03 56.82,257.79 56.90,257.55 56.97,257.32 57.05,257.08 57.13,256.84 57.21,256.60 57.29,256.37 57.37,256.13 57.45,255.89 57.53,255.65 57.60,255.42 57.68,255.18 57.76,254.94 57.84,254.71 57.92,254.47 58.00,254.23 58.08,253.99 58.16,253.76 58.24,253.52 58.32,253.28 58.40,253.05 58.48,252.81 58.56,252.57 58.64,252.33 58.71,252.10 58.79,251.86 58.87,251.62 58.95,251.39 59.03,251.15 59.11,250.91 59.20,250.68 59.28,250.44 59.36,250.20 59.44,249.97 59.52,249.73 59.60,249.49 59.68,249.26 59.76,249.02 59.84,248.78 59.92,248.55 60.00,248.31 60.08,248.07 60.16,247.84 60.24,247.60 60.33,247.36 60.41,247.13 60.49,246.89 60.57,246.66 60.65,246.42 60.73,246.18 60.82,245.95 60.90,245.71 60.98,245.47 61.06,245.24 61.14,245.00 61.23,244.77 61.31,244.53 61.39,244.29 61.47,244.06 61.56,243.82 61.64,243.59 61.72,243.35 61.80,243.11 61.89,242.88 61.97,242.64 62.05,242.41 62.14,242.17 62.22,241.94 62.30,241.70 62.39,241.46 62.47,241.23 62.56,240.99 62.64,240.76 62.72,240.52 62.81,240.29 62.89,240.05 62.98,239.82 63.06,239.58 63.15,239.35 63.23,239.11 63.32,238.88 63.40,238.64 63.49,238.41 63.57,238.17 63.66,237.94 63.74,237.70 63.83,237.47 63.91,237.23 64.00,237.00 64.09,236.76 64.17,236.53 64.26,236.29 64.34,236.06 64.43,235.82 64.52,235.59 64.60,235.35 64.69,235.12 64.78,234.89 64.87,234.65 64.95,234.42 65.04,234.18 65.13,233.95 65.22,233.71 65.30,233.48 65.39,233.25 65.48,233.01 65.57,232.78 65.66,232.55 65.75,232.31 65.84,232.08 65.92,231.84 66.01,231.61 66.10,231.38 66.19,231.14 66.28,230.91 66.37,230.68 66.46,230.44 66.55,230.21 66.64,229.98 66.73,229.74 66.82,229.51 66.92,229.28 67.01,229.05 67.10,228.81 67.19,228.58 67.28,228.35 67.37,228.12 67.46,227.88 67.56,227.65 67.65,227.42 67.74,227.19 67.83,226.95 67.93,226.72 68.02,226.49 68.11,226.26 68.21,226.03 68.30,225.79 68.40,225.56 68.49,225.33 68.58,225.10 68.68,224.87 68.77,224.64 68.87,224.41 68.96,224.17 69.06,223.94 69.15,223.71 69.25,223.48 69.35,223.25 69.44,223.02 69.54,222.79 69.64,222.56 69.73,222.33 69.83,222.10 69.93,221.87 70.03,221.64 70.12,221.41 70.22,221.18 70.32,220.95 70.42,220.72 70.52,220.49 70.62,220.26 70.72,220.03 70.82,219.80 70.92,219.57 71.02,219.34 71.12,219.11 71.22,218.89 71.32,218.66 71.42,218.43 71.52,218.20 71.63,217.97 71.73,217.74 71.83,217.52 71.93,217.29 72.04,217.06 72.14,216.83 72.24,216.61 72.35,216.38 72.45,216.15 72.56,215.92 72.66,215.70 72.77,215.47 72.87,215.24 72.98,215.02 73.09,214.79 73.19,214.57 73.30,214.34 73.41,214.11 73.52,213.89 73.62,213.66 73.73,213.44 73.84,213.21 73.95,212.99 74.06,212.76 74.17,212.54 74.28,212.31 74.39,212.09 74.50,211.87 74.61,211.64 74.72,211.42 74.84,211.20 74.95,210.97 75.06,210.75 75.18,210.53 75.29,210.30 75.41,210.08 75.52,209.86 75.64,209.64 75.75,209.42 75.87,209.20 75.98,208.97 76.10,208.75 76.22,208.53 76.34,208.31 76.45,208.09 76.57,207.87 76.69,207.65 76.81,207.43 76.93,207.21 77.05,207.00 77.18,206.78 77.30,206.56 77.42,206.34 77.54,206.12 77.67,205.91 77.79,205.69 77.92,205.47 78.04,205.26 78.17,205.04 78.29,204.83 78.42,204.61 78.55,204.40 78.68,204.18 78.81,203.97 78.94,203.75 79.07,203.54 79.20,203.33 79.33,203.11 79.46,202.90 79.59,202.69 79.73,202.48 79.86,202.27 80.00,202.06 80.13,201.85 80.27,201.64 80.41,201.43 80.55,201.22 80.69,201.02 80.83,200.81 80.97,200.61 81.12,200.41 81.26,200.21 81.41,200.01 81.57,199.81 81.72,199.62 81.88,199.43 82.04,199.25 82.20,199.07 82.37,198.89 82.54,198.73 82.71,198.57 82.88,198.42 83.05,198.28 83.23,198.15 83.40,198.04 83.57,197.94 83.74,197.87 83.90,197.81 84.06,197.77 84.21,197.76 84.36,197.77 84.51,197.81 84.64,197.87 84.78,197.95 84.90,198.06 85.02,198.19 85.13,198.33 85.24,198.50 85.35,198.68 85.45,198.87 85.55,199.07 85.64,199.28 85.73,199.50 85.81,199.72 85.90,199.95 85.98,200.18 86.05,200.41 86.12,200.65 86.19,200.89 86.26,201.13 86.32,201.37 86.37,201.61 86.42,201.85 86.47,202.09 86.51,202.34 86.55,202.58 86.59,202.83 86.63,203.08 86.66,203.32 86.69,203.57 86.72,203.82 86.75,204.07 86.77,204.32 86.80,204.56 86.82,204.81 86.84,205.06 86.87,205.31 86.89,205.56 86.91,205.81 86.93,206.06 86.95,206.31 86.97,206.56 86.99,206.81 87.01,207.05 87.02,207.30 87.04,207.55 87.06,207.80 87.08,208.05 87.09,208.30 87.11,208.55 87.13,208.80 87.14,209.05 87.16,209.30 87.18,209.55 87.19,209.80 87.21,210.05 87.23,210.30 87.24,210.55 87.26,210.80 87.27,211.05 87.29,211.29 87.30,211.54 87.32,211.79 87.33,212.04 87.35,212.29 87.36,212.54 87.38,212.79 87.39,213.04 87.41,213.29 87.42,213.54 87.43,213.79 87.45,214.04 87.46,214.29 87.48,214.54 87.49,214.79 87.51,215.04 87.52,215.29 87.53,215.54 87.55,215.79 87.56,216.04 87.58,216.29 87.59,216.54 87.60,216.79 87.62,217.04 87.63,217.29 87.64,217.53 87.66,217.78 87.67,218.03 87.68,218.28 87.70,218.53 87.71,218.78 87.72,219.03 87.74,219.28 87.75,219.53 87.76,219.78 87.78,220.03 87.79,220.28 87.80,220.53 87.82,220.78 87.83,221.03 87.84,221.28 87.86,221.53 87.87,221.78 87.88,222.03 87.90,222.28 87.91,222.53 87.92,222.78 87.94,223.03 87.95,223.28 87.96,223.53 87.98,223.78 87.99,224.03 88.00,224.28 88.02,224.52 88.03,224.77 88.04,225.02 88.06,225.27 88.07,225.52 88.08,225.77 88.10,226.02 88.11,226.27 88.13,226.52 88.14,226.77 88.15,227.02 88.17,227.27 88.18,227.52 88.19,227.77 88.21,228.02 88.22,228.27 88.24,228.52 88.25,228.77 88.27,229.02 88.28,229.27 88.29,229.52 88.31,229.77 88.32,230.02 88.34,230.27 88.35,230.52 88.37,230.76 88.38,231.01 88.40,231.26 88.41,231.51 88.43,231.76 88.44,232.01 88.46,232.26 88.47,232.51 88.49,232.76 88.51,233.01 88.52,233.26 88.54,233.51 88.56,233.76 88.57,234.01 88.59,234.26 88.61,234.51 88.62,234.76 88.64,235.01 88.66,235.26 88.68,235.50 88.70,235.75 88.71,236.00 88.73,236.25 88.75,236.50 88.77,236.75 88.79,237.00 88.81,237.25 88.83,237.50 88.86,237.75 88.88,238.00 88.90,238.24 88.93,238.49 88.95,238.74 88.98,238.98 89.01,239.22 89.04,239.46 89.07,239.69 89.11,239.92 89.14,240.13 89.19,240.34 89.23,240.53 89.28,240.71 89.33,240.87 89.38,241.01 89.44,241.12 89.50,241.21 89.56,241.26 89.63,241.29 89.70,241.29 89.77,241.26 89.85,241.20 89.93,241.11 90.01,241.00 90.09,240.86 90.17,240.71 90.25,240.54 90.33,240.35 90.42,240.15 90.50,239.94 90.59,239.72 90.67,239.50 90.76,239.27 90.84,239.05 90.93,238.81 91.01,238.58 91.10,238.35 91.18,238.11 91.27,237.88 91.35,237.64 91.44,237.41 91.52,237.17 91.61,236.94 91.69,236.70 91.78,236.47 91.87,236.23 91.95,236.00 92.04,235.76 92.12,235.53 92.21,235.29 92.30,235.06 92.38,234.82 92.47,234.59 92.55,234.36 92.64,234.12 92.73,233.89 92.81,233.65 92.90,233.42 92.99,233.18 93.07,232.95 93.16,232.71 93.25,232.48 93.34,232.25 93.42,232.01 93.51,231.78 93.60,231.54 93.69,231.31 93.78,231.08 93.86,230.84 93.95,230.61 94.04,230.37 94.13,230.14 94.22,229.91 94.31,229.67 94.40,229.44 94.49,229.21 94.58,228.97 94.67,228.74 94.76,228.51 94.85,228.27 94.94,228.04 95.03,227.81 95.12,227.57 95.21,227.34 95.30,227.11 95.39,226.88 95.49,226.64 95.58,226.41 95.67,226.18 95.76,225.95 95.86,225.72 95.95,225.48 96.04,225.25 96.14,225.02 96.23,224.79 96.33,224.56 96.42,224.33 96.51,224.09 96.61,223.86 96.71,223.63 96.80,223.40 96.90,223.17 96.99,222.94 97.09,222.71 97.19,222.48 97.29,222.25 97.38,222.02 97.48,221.79 97.58,221.56 97.68,221.33 97.78,221.10 97.88,220.87 97.98,220.64 98.08,220.41 98.18,220.19 98.28,219.96 98.39,219.73 98.49,219.50 98.59,219.27 98.70,219.05 98.80,218.82 98.90,218.59 99.01,218.37 99.12,218.14 99.22,217.91 99.33,217.69 99.44,217.46 99.54,217.24 99.65,217.01 99.76,216.79 99.87,216.56 99.98,216.34 100.10,216.11 100.21,215.89 100.32,215.67 100.43,215.44 100.55,215.22 100.66,215.00 100.78,214.78 100.90,214.56 101.01,214.34 101.13,214.12 101.25,213.90 101.37,213.68 101.49,213.46 101.61,213.24 101.74,213.02 101.86,212.81 101.99,212.59 102.11,212.38 102.24,212.16 102.37,211.95 102.50,211.73 102.63,211.52 102.76,211.31 102.89,211.10 103.03,210.89 103.17,210.68 103.30,210.47 103.44,210.26 103.58,210.06 103.73,209.85 103.87,209.65 104.02,209.44 104.16,209.24 104.31,209.04 104.46,208.84 104.62,208.65 104.77,208.45 104.93,208.26 105.09,208.07 105.25,207.88 105.42,207.69 105.58,207.51 105.75,207.32 105.92,207.14 106.10,206.97 106.28,206.79 106.46,206.62 106.64,206.45 106.83,206.29 107.01,206.13 107.21,205.97 107.40,205.82 107.60,205.67 107.80,205.53 108.00,205.39 108.21,205.25 108.42,205.12 108.63,204.99 108.84,204.87 109.05,204.75 109.26,204.64 109.47,204.54 109.69,204.44 109.90,204.35 110.11,204.28 110.31,204.21 110.52,204.16 110.72,204.12 110.92,204.09 111.11,204.09 111.30,204.10 111.49,204.14 111.67,204.19 111.85,204.26 112.03,204.35 112.20,204.46 112.37,204.58 112.54,204.72 112.70,204.87 112.86,205.03 113.02,205.20 113.17,205.37 113.31,205.56 113.45,205.75 113.58,205.94 113.71,206.14 113.82,206.35 113.93,206.56 114.02,206.77 114.11,206.99 114.18,207.21 114.25,207.44 114.31,207.67 114.35,207.90 114.39,208.14 114.43,208.38 114.45,208.62 114.47,208.86 114.49,209.10 114.50,209.35 114.51,209.60 114.52,209.85 114.52,210.09 114.53,210.34 114.53,210.59 114.54,210.84 114.54,211.09 114.54,211.34 114.54,211.59 114.55,211.84 114.55,212.09 114.55,212.34 114.55,212.59 114.56,212.84 114.56,213.09 114.56,213.34 114.56,213.59 114.57,213.84 114.57,214.09 114.57,214.34 114.57,214.59 114.57,214.84 114.58,215.09 114.58,215.34 114.58,215.59 114.58,215.84 114.59,216.09 114.59,216.34 114.59,216.59 114.59,216.84 114.60,217.09 114.60,217.34 114.60,217.59 114.60,217.84 114.61,218.09 114.61,218.34 114.61,218.59 114.61,218.84 114.61,219.09 114.62,219.34 114.62,219.59 114.62,219.84 114.62,220.09 114.63,220.34 114.63,220.59 114.63,220.84 114.63,221.09 114.64,221.34 114.64,221.59 114.64,221.84 114.64,222.09 114.64,222.34 114.65,222.59 114.65,222.84 114.65,223.09 114.65,223.34 114.66,223.59 114.66,223.84 114.66,224.09 114.66,224.34 114.67,224.59 114.67,224.84 114.67,225.09 114.67,225.34 114.68,225.59 114.68,225.84 114.68,226.09 114.68,226.34 114.68,226.59 114.69,226.84 114.69,227.09 114.69,227.34 114.69,227.59 114.70,227.84 114.70,228.09 114.70,228.34 114.70,228.59 114.71,228.84 114.71,229.09 114.71,229.34 114.71,229.59 114.71,229.84 114.72,230.09 114.72,230.34 114.72,230.59 114.72,230.84 114.73,231.09 114.73,231.34 114.73,231.59 114.73,231.84 114.74,232.09 114.74,232.34 114.74,232.59 114.74,232.84 114.74,233.09 114.75,233.34 114.75,233.59 114.75,233.84 114.75,234.09 114.76,234.34 114.76,234.59 114.76,234.84 114.76,235.09 114.77,235.34 114.77,235.59 114.77,235.84 114.77,236.09 114.78,236.34 114.78,236.59 114.78,236.84 114.78,237.09 114.78,237.34 114.79,237.59 114.79,237.84 114.79,238.09 114.79,238.34 114.80,238.59 114.80,238.84 114.80,239.09 114.80,239.34 114.81,239.59 114.81,239.84 114.81,240.09 114.81,240.34 114.81,240.59 114.82,240.84 114.82,241.09 114.82,241.34 114.82,241.59 114.83,241.84 114.83,242.09 114.83,242.34 114.83,242.59 114.84,242.84 114.84,243.09 114.84,243.34 114.84,243.59 114.85,243.84 114.85,244.09 114.85,244.34 114.85,244.59 114.85,244.84 114.86,245.09 114.86,245.34 114.86,245.59 114.86,245.84 114.87,246.09 114.87,246.34 114.87,246.59 114.87,246.84 114.88,247.09 114.88,247.34 114.88,247.59 114.88,247.84 114.88,248.09 114.89,248.34 114.89,248.59 114.89,248.84 114.89,249.09 114.90,249.34 114.90,249.59 114.90,249.84 114.90,250.09 114.91,250.34 114.91,250.59 114.91,250.84 114.91,251.09 114.91,251.34 114.92,251.59 114.92,251.84 114.92,252.09 114.92,252.34 114.93,252.59 114.93,252.84 114.93,253.09 114.93,253.34 114.94,253.59 114.94,253.84 114.94,254.09 114.94,254.34 114.95,254.59 114.95,254.84 114.95,255.09 114.95,255.34 114.95,255.59 114.96,255.84 114.96,256.09 114.96,256.34 114.96,256.59 114.97,256.84 114.97,257.09 114.97,257.34 114.97,257.59 114.98,257.84 114.98,258.09 114.98,258.34 114.98,258.59 114.98,258.84 114.99,259.09 114.99,259.34 114.99,259.59 114.99,259.84 115.00,260.09 115.00,260.34 115.00,260.59 115.00,260.84 115.01,261.09 115.01,261.34 115.01,261.59 115.01,261.84 115.02,262.09 115.02,262.34 115.02,262.59 115.02,262.84 115.02,263.09 115.03,263.34 115.03,263.59 115.03,263.84 115.03,264.09 115.04,264.34 115.04,264.59 115.04,264.84 115.04,265.09 115.05,265.34 115.05,265.59 115.05,265.84 115.05,266.09 115.05,266.34 115.06,266.59 115.06,266.84 115.06,267.09 115.06,267.34 115.07,267.59 115.07,267.84 115.07,268.09 115.07,268.34 115.08,268.59 115.08,268.84 115.08,269.09 115.08,269.34 115.09,269.59 115.09,269.84 115.10,270.09 115.10,270.33 115.10,270.58 115.11,270.82 115.12,271.06 115.12,271.30 115.13,271.53 115.14,271.75 115.15,271.96 115.16,272.16 115.18,272.34 115.20,272.50 115.22,272.64 115.24,272.76 115.27,272.85 115.30,272.92 115.33,272.95 115.37,272.95 115.42,272.93 115.46,272.87 115.52,272.79 115.57,272.68 115.63,272.54 115.69,272.39 115.76,272.22 115.83,272.03 115.90,271.83 115.97,271.62 116.05,271.40 116.13,271.18 116.20,270.95 116.28,270.72 116.36,270.49 116.44,270.25 116.52,270.02 116.60,269.78 116.68,269.54 116.76,269.31 116.84,269.07 116.92,268.83 117.00,268.60 117.08,268.36 117.16,268.12 117.24,267.89 117.32,267.65 117.40,267.41 117.48,267.18 117.56,266.94 117.64,266.70 117.72,266.47 117.80,266.23 117.89,265.99 117.97,265.76 118.05,265.52 118.13,265.28 118.21,265.05 118.29,264.81 118.37,264.57 118.45,264.34 118.53,264.10 118.61,263.86 118.69,263.63 118.77,263.39 118.85,263.15 118.94,262.92 119.02,262.68 119.10,262.44 119.18,262.21 119.26,261.97 119.34,261.73 119.42,261.50 119.50,261.26 119.58,261.03 119.66,260.79 119.75,260.55 119.83,260.32 119.91,260.08 119.99,259.84 120.07,259.61 120.15,259.37 120.23,259.13 120.32,258.90 120.40,258.66 120.48,258.43 120.56,258.19 120.64,257.95 120.72,257.72 120.81,257.48 120.89,257.24 120.97,257.01 121.05,256.77 121.13,256.54 121.22,256.30 121.30,256.06 121.38,255.83 121.46,255.59 121.54,255.35 121.63,255.12 121.71,254.88 121.79,254.65 121.87,254.41 121.96,254.17 122.04,253.94 122.12,253.70 122.20,253.47 122.29,253.23 122.37,253.00 122.45,252.76 122.54,252.52 122.62,252.29 122.70,252.05 122.78,251.82 122.87,251.58 122.95,251.34 123.03,251.11 123.12,250.87 123.20,250.64 123.28,250.40 123.37,250.17 123.45,249.93 123.54,249.70 123.62,249.46 123.70,249.22 123.79,248.99 123.87,248.75 123.96,248.52 124.04,248.28 124.12,248.05 124.21,247.81 124.29,247.58 124.38,247.34 124.46,247.11 124.55,246.87 124.63,246.64 124.72,246.40 124.80,246.16 124.89,245.93 124.97,245.69 125.06,245.46 125.14,245.22 125.23,244.99 125.31,244.75 125.40,244.52 125.48,244.28 125.57,244.05 125.65,243.82 125.74,243.58 125.83,243.35 125.91,243.11 126.00,242.88 126.09,242.64 126.17,242.41 126.26,242.17 126.34,241.94 126.43,241.70 126.52,241.47 126.61,241.23 126.69,241.00 126.78,240.77 126.87,240.53 126.95,240.30 127.04,240.06 127.13,239.83 127.22,239.60 127.30,239.36 127.39,239.13 127.48,238.89 127.57,238.66 127.66,238.43 127.74,238.19 127.83,237.96 127.92,237.72 128.01,237.49 128.10,237.26 128.19,237.02 128.28,236.79 128.37,236.56 128.46,236.32 128.55,236.09 128.64,235.86 128.73,235.62 128.82,235.39 128.91,235.16 129.00,234.92 129.09,234.69 129.18,234.46 129.27,234.22 129.36,233.99 129.45,233.76 129.54,233.52 129.63,233.29 129.72,233.06 129.81,232.83 129.91,232.59 130.00,232.36 130.09,232.13 130.18,231.90 130.27,231.66 130.37,231.43 130.46,231.20 130.55,230.97 130.65,230.74 130.74,230.50 130.83,230.27 130.93,230.04 131.02,229.81 131.11,229.58 131.21,229.34 131.30,229.11 131.40,228.88 131.49,228.65 131.58,228.42 131.68,228.19 131.77,227.96 131.87,227.73 131.97,227.49 132.06,227.26 132.16,227.03 132.25,226.80 132.35,226.57 132.45,226.34 132.54,226.11 132.64,225.88 132.74,225.65 132.83,225.42 132.93,225.19 133.03,224.96 133.13,224.73 133.22,224.50 133.32,224.27 133.42,224.04 133.52,223.81 133.62,223.58 133.72,223.35 133.82,223.12 133.92,222.89 134.02,222.66 134.12,222.43 134.22,222.20 134.32,221.98 134.42,221.75 134.52,221.52 134.62,221.29 134.72,221.06 134.83,220.83 134.93,220.60 135.03,220.38 135.13,220.15 135.24,219.92 135.34,219.69 135.44,219.47 135.55,219.24 135.65,219.01 135.76,218.78 135.86,218.56 135.97,218.33 136.07,218.10 136.18,217.88 136.28,217.65 136.39,217.42 136.49,217.20 136.60,216.97 136.71,216.75 136.82,216.52 136.92,216.29 137.03,216.07 137.14,215.84 137.25,215.62 137.36,215.39 137.47,215.17 137.58,214.94 137.69,214.72 137.80,214.50 137.91,214.27 138.02,214.05 138.13,213.82 138.24,213.60 138.35,213.38 138.47,213.15 138.58,212.93 138.69,212.71 138.81,212.49 138.92,212.26 139.04,212.04 139.15,211.82 139.27,211.60 139.38,211.38 139.50,211.15 139.61,210.93 139.73,210.71 139.85,210.49 139.97,210.27 140.08,210.05 140.20,209.83 140.32,209.61 140.44,209.39 140.56,209.17 140.68,208.95 140.80,208.73 140.93,208.52 141.05,208.30 141.17,208.08 141.29,207.86 141.42,207.65 141.54,207.43 141.67,207.21 141.79,206.99 141.92,206.78 142.04,206.56 142.17,206.35 142.30,206.13 142.43,205.92 142.55,205.70 142.68,205.49 142.81,205.28 142.94,205.06 143.07,204.85 143.20,204.64 143.34,204.42 143.47,204.21 143.60,204.00 143.74,203.79 143.87,203.58 144.01,203.37 144.14,203.16 144.28,202.95 144.42,202.74 144.55,202.53 144.69,202.33 144.83,202.12 144.97,201.91 145.12,201.71 145.26,201.50 145.40,201.30 145.55,201.09 145.69,200.89 145.84,200.69 145.99,200.49 146.14,200.29 146.29,200.09 146.45,199.90 146.60,199.71 146.76,199.52 146.93,199.34 147.09,199.16 147.26,198.98 147.43,198.81 147.60,198.65 147.78,198.50 147.95,198.35 148.12,198.22 148.30,198.10 148.47,197.99 148.64,197.91 148.81,197.84 148.97,197.79 149.13,197.76 149.28,197.76 149.43,197.78 149.57,197.83 149.70,197.90 149.83,197.99 149.95,198.11 150.06,198.25 150.17,198.40 150.27,198.58 150.37,198.76 150.46,198.96 150.55,199.17 150.63,199.38 150.71,199.61 150.78,199.83 150.84,200.07 150.90,200.30 150.96,200.54 151.01,200.78 151.06,201.02 151.10,201.27 151.14,201.51 151.17,201.76 151.20,202.00 151.23,202.25 151.25,202.50 151.28,202.75 151.30,203.00 151.32,203.24 151.33,203.49 151.35,203.74 151.36,203.99 151.37,204.24 151.39,204.49 151.40,204.74 151.41,204.99 151.42,205.24 151.43,205.49 151.43,205.74 151.44,205.99 151.45,206.24 151.46,206.49 151.47,206.74 151.48,206.99 151.48,207.24 151.49,207.49 151.50,207.74 151.51,207.99 151.51,208.24 151.52,208.49 151.53,208.74 151.54,208.99 151.55,209.24 151.55,209.49 151.56,209.74 151.57,209.99 151.58,210.24 151.58,210.49 151.59,210.74 151.60,210.99 151.60,211.24 151.61,211.49 151.62,211.74 151.63,211.99 151.63,212.24 151.64,212.49 151.65,212.74 151.65,212.99 151.66,213.24 151.66,213.49 151.67,213.74 151.68,213.99 151.68,214.24 151.69,214.49 151.69,214.74 151.70,214.99 151.70,215.24 151.71,215.49 151.72,215.74 151.72,215.99 151.73,216.24 151.73,216.49 151.74,216.74 151.74,216.99 151.75,217.24 151.76,217.49 151.76,217.74 151.77,217.99 151.77,218.23 151.78,218.48 151.78,218.73 151.79,218.98 151.80,219.23 151.80,219.48 151.81,219.73 151.81,219.98 151.82,220.23 151.82,220.48 151.83,220.73 151.84,220.98 151.84,221.23 151.85,221.48 151.85,221.73 151.86,221.98 151.86,222.23 151.87,222.48 151.87,222.73 151.88,222.98 151.89,223.23 151.89,223.48 151.90,223.73 151.90,223.98 151.91,224.23 151.91,224.48 151.92,224.73 151.93,224.98 151.93,225.23 151.94,225.48 151.94,225.73 151.95,225.98 151.95,226.23 151.96,226.48 151.97,226.73 151.97,226.98 151.98,227.23 151.98,227.48 151.99,227.73 151.99,227.98 152.00,228.23 152.00,228.48 152.01,228.73 152.02,228.98 152.02,229.23 152.03,229.48 152.03,229.73 152.04,229.98 152.04,230.23 152.05,230.48 152.06,230.73 152.06,230.98 152.07,231.23 152.07,231.48 152.08,231.73 152.08,231.98 152.09,232.23 152.10,232.48 152.10,232.73 152.11,232.98 152.11,233.23 152.12,233.48 152.12,233.73 152.13,233.98 152.14,234.23 152.14,234.48 152.15,234.73 152.16,234.98 152.16,235.23 152.17,235.48 152.17,235.73 152.18,235.98 152.19,236.23 152.20,236.48 152.20,236.73 152.21,236.98 152.22,237.23 152.22,237.48 152.23,237.73 152.24,237.98 152.25,238.23 152.26,238.48 152.26,238.73 152.27,238.98 152.28,239.23 152.29,239.48 152.29,239.73 152.30,239.98 152.31,240.23 152.32,240.48 152.32,240.73 152.33,240.98 152.34,241.23 152.35,241.48 152.36,241.73 152.37,241.98 152.37,242.23 152.38,242.48 152.39,242.73 152.40,242.98 152.42,243.22 152.43,243.47 152.44,243.72 152.45,243.96 152.47,244.20 152.49,244.44 152.50,244.67 152.52,244.89 152.55,245.11 152.57,245.31 152.60,245.49 152.63,245.66 152.66,245.81 152.69,245.94 152.73,246.04 152.78,246.11 152.83,246.16 152.88,246.17 152.93,246.16 152.99,246.11 153.06,246.04 153.12,245.94 153.20,245.81 153.27,245.67 153.34,245.50 153.42,245.32 153.50,245.13 153.58,244.92 153.67,244.71 153.75,244.49 153.83,244.27 153.92,244.04 154.00,243.81 154.09,243.58 154.17,243.34 154.26,243.11 154.35,242.87 154.43,242.64 154.52,242.41 154.60,242.17 154.69,241.94 154.77,241.70 154.86,241.47 154.95,241.23 155.03,241.00 155.12,240.76 155.20,240.53 155.29,240.29 155.38,240.06 155.46,239.82 155.55,239.59 155.64,239.35 155.72,239.12 155.81,238.89 155.90,238.65 155.98,238.42 156.07,238.18 156.16,237.95 156.24,237.71 156.33,237.48 156.42,237.24 156.51,237.01 156.59,236.78 156.68,236.54 156.77,236.31 156.86,236.07 156.94,235.84 157.03,235.61 157.12,235.37 157.21,235.14 157.30,234.90 157.39,234.67 157.47,234.44 157.56,234.20 157.65,233.97 157.74,233.74 157.83,233.50 157.92,233.27 158.01,233.03 158.10,232.80 158.19,232.57 158.28,232.33 158.37,232.10 158.46,231.87 158.55,231.63 158.64,231.40 158.73,231.17 158.82,230.94 158.91,230.70 159.00,230.47 159.09,230.24 159.18,230.00 159.28,229.77 159.37,229.54 159.46,229.31 159.55,229.07 159.64,228.84 159.74,228.61 159.83,228.38 159.92,228.15 160.02,227.91 160.11,227.68 160.20,227.45 160.30,227.22 160.39,226.99 160.49,226.76 160.58,226.52 160.68,226.29 160.77,226.06 160.87,225.83 160.96,225.60 161.06,225.37 161.15,225.14 161.25,224.91 161.35,224.68 161.45,224.45 161.54,224.22 161.64,223.99 161.74,223.76 161.84,223.53 161.94,223.30 162.03,223.07 162.13,222.84 162.23,222.61 162.33,222.38 162.43,222.15 162.53,221.92 162.64,221.69 162.74,221.47 162.84,221.24 162.94,221.01 163.04,220.78 163.15,220.55 163.25,220.33 163.35,220.10 163.46,219.87 163.56,219.64 163.67,219.42 163.77,219.19 163.88,218.96 163.98,218.74 164.09,218.51 164.20,218.29 164.31,218.06 164.41,217.83 164.52,217.61 164.63,217.38 164.74,217.16 164.85,216.94 164.96,216.71 165.07,216.49 165.19,216.26 165.30,216.04 165.41,215.82 165.53,215.60 165.64,215.37 165.76,215.15 165.87,214.93 165.99,214.71 166.11,214.49 166.22,214.27 166.34,214.05 166.46,213.83 166.58,213.61 166.70,213.39 166.82,213.17 166.95,212.95 167.07,212.74 167.19,212.52 167.32,212.30 167.44,212.09 167.57,211.87 167.70,211.66 167.83,211.44 167.96,211.23 168.09,211.02 168.22,210.80 168.35,210.59 168.49,210.38 168.62,210.17 168.76,209.96 168.89,209.75 169.03,209.55 169.17,209.34 169.31,209.13 169.46,208.93 169.60,208.72 169.75,208.52 169.89,208.32 170.04,208.12 170.19,207.92 170.34,207.72 170.50,207.52 170.65,207.33 170.81,207.13 170.96,206.94 171.12,206.75 171.29,206.56 171.45,206.37 171.62,206.18 171.78,206.00 171.95,205.82 172.13,205.64 172.30,205.46 172.48,205.28 172.66,205.11 172.84,204.94 173.02,204.78 173.21,204.61 173.40,204.45 173.59,204.29 173.79,204.14 173.99,203.99 174.19,203.84 174.39,203.70 174.59,203.56 174.80,203.43 175.01,203.29 175.22,203.17 175.43,203.05 175.64,202.93 175.86,202.81 176.07,202.71 176.28,202.60 176.48,202.51 176.69,202.42 176.88,202.35 177.07,202.28 177.25,202.23 177.43,202.20 177.59,202.18 177.74,202.18 177.88,202.20 178.01,202.25 178.13,202.32 178.24,202.41 178.33,202.52 178.41,202.66 178.48,202.81 178.55,202.98 178.60,203.17 178.65,203.37 178.69,203.58 178.73,203.80 178.76,204.03 178.78,204.27 178.80,204.51 178.82,204.75 178.84,204.99 178.86,205.24 178.87,205.49 178.88,205.74 178.89,205.99 178.90,206.24 178.90,206.49 178.91,206.74 178.91,206.98 178.92,207.23 178.92,207.48 178.92,207.73 178.92,207.98 178.93,208.23 178.93,208.48 178.93,208.73 178.93,208.98 178.94,209.23 178.94,209.48 178.94,209.73 178.94,209.98 178.94,210.23 178.95,210.48 178.95,210.73 178.95,210.98 178.95,211.23 178.95,211.48 178.96,211.73 178.96,211.98 178.96,212.23 178.96,212.48 178.96,212.73 178.97,212.98 178.97,213.23 178.97,213.48 178.97,213.73 178.98,213.98 178.98,214.23 178.98,214.48 178.98,214.73 178.98,214.98 178.99,215.23 178.99,215.48 178.99,215.73 178.99,215.98 178.99,216.23 179.00,216.48 179.00,216.73 179.00,216.98 179.00,217.23 179.00,217.48 179.01,217.73 179.01,217.98 179.01,218.23 179.01,218.48 179.01,218.73 179.02,218.98 179.02,219.23 179.02,219.48 179.02,219.73 179.02,219.98 179.03,220.23 179.03,220.48 179.03,220.73 179.03,220.98 179.03,221.23 179.04,221.48 179.04,221.73 179.04,221.98 179.04,222.23 179.04,222.48 179.05,222.73 179.05,222.98 179.05,223.23 179.05,223.48 179.05,223.73 179.06,223.98 179.06,224.23 179.06,224.48 179.06,224.73 179.06,224.98 179.07,225.23 179.07,225.48 179.07,225.73 179.07,225.98 179.08,226.23 179.08,226.48 179.08,226.73 179.08,226.98 179.08,227.23 179.09,227.48 179.09,227.73 179.09,227.98 179.09,228.23 179.09,228.48 179.10,228.73 179.10,228.98 179.10,229.23 179.10,229.48 179.10,229.73 179.11,229.98 179.11,230.23 179.11,230.48 179.11,230.73 179.11,230.98 179.12,231.23 179.12,231.48 179.12,231.73 179.12,231.98 179.12,232.23 179.13,232.48 179.13,232.73 179.13,232.98 179.13,233.23 179.13,233.48 179.14,233.73 179.14,233.98 179.14,234.23 179.14,234.48 179.14,234.73 179.15,234.98 179.15,235.23 179.15,235.48 179.15,235.73 179.15,235.98 179.16,236.23 179.16,236.48 179.16,236.73 179.16,236.98 179.17,237.23 179.17,237.48 179.17,237.73 179.17,237.98 179.17,238.23 179.18,238.48 179.18,238.73 179.18,238.98 179.18,239.23 179.18,239.48 179.19,239.73 179.19,239.98 179.19,240.23 179.19,240.48 179.19,240.73 179.20,240.98 179.20,241.23 179.20,241.48 179.20,241.73 179.20,241.98 179.21,242.23 179.21,242.48 179.21,242.73 179.21,242.98 179.21,243.23 179.22,243.48 179.22,243.73 179.22,243.98 179.22,244.23 179.22,244.48 179.23,244.73 179.23,244.98 179.23,245.23 179.23,245.48 179.23,245.73 179.24,245.98 179.24,246.23 179.24,246.48 179.24,246.73 179.24,246.98 179.25,247.23 179.25,247.48 179.25,247.73 179.25,247.98 179.26,248.23 179.26,248.48 179.26,248.73 179.26,248.98 179.26,249.23 179.27,249.48 179.27,249.73 179.27,249.98 179.27,250.23 179.27,250.48 179.28,250.73 179.28,250.98 179.28,251.23 179.28,251.48 179.28,251.73 179.29,251.98 179.29,252.23 179.29,252.48 179.29,252.73 179.29,252.98 179.30,253.23 179.30,253.48 179.30,253.73 179.30,253.98 179.30,254.23 179.31,254.48 179.31,254.73 179.31,254.98 179.31,255.23 179.31,255.48 179.32,255.73 179.32,255.98 179.32,256.23 179.32,256.48 179.32,256.73 179.33,256.98 179.33,257.23 179.33,257.48 179.33,257.73 179.33,257.98 179.34,258.23 179.34,258.48 179.34,258.73 179.34,258.98 179.34,259.23 179.35,259.48 179.35,259.73 179.35,259.98 179.35,260.23 179.36,260.48 179.36,260.73 179.36,260.98 179.36,261.23 179.36,261.48 179.37,261.73 179.37,261.98 179.37,262.23 179.37,262.48 179.37,262.73 179.38,262.98 179.38,263.23 179.38,263.48 179.38,263.73 179.38,263.98 179.39,264.23 179.39,264.48 179.39,264.73 179.39,264.98 179.39,265.23 179.40,265.48 179.40,265.73 179.40,265.98 179.40,266.23 179.40,266.48 179.41,266.73 179.41,266.98 179.41,267.23 179.41,267.48 179.41,267.73 179.42,267.98 179.42,268.23 179.42,268.48 179.42,268.73 179.42,268.98 179.43,269.23 179.43,269.48 179.43,269.73 179.43,269.98 179.43,270.23 179.44,270.48 179.44,270.73 179.44,270.98 179.44,271.23 179.45,271.48 179.45,271.73 179.45,271.98 179.45,272.23 179.45,272.48 179.46,272.73 179.46,272.98 179.46,273.23 179.46,273.48 179.46,273.73 179.47,273.98 179.47,274.23 179.47,274.48 179.47,274.73 179.47,274.98 179.48,275.23 179.48,275.48 179.48,275.73 179.48,275.98 179.49,276.23 179.49,276.48 179.49,276.73 179.50,276.98 179.50,277.23 179.50,277.48 179.51,277.72 179.52,277.96 179.53,278.20 179.54,278.43 179.55,278.66 179.56,278.88 179.58,279.08 179.60,279.27 179.63,279.45 179.66,279.61 179.69,279.74 179.73,279.85 179.78,279.94 179.83,279.99 179.89,280.02 179.96,280.01 180.03,279.98 180.10,279.92 180.18,279.83 180.26,279.72 180.34,279.58 180.43,279.42 180.51,279.25 180.60,279.06 180.68,278.86 180.76,278.65 180.85,278.43 180.93,278.21 181.01,277.98 181.09,277.75 181.17,277.52 181.25,277.28 181.33,277.05 181.41,276.81 181.48,276.57 181.56,276.33 181.64,276.10 181.71,275.86 181.79,275.62 181.87,275.38 181.94,275.14 182.02,274.91 182.10,274.67 182.17,274.43 182.25,274.19 182.33,273.95 182.40,273.72 182.48,273.48 182.56,273.24 182.63,273.00 182.71,272.76 182.79,272.53 182.86,272.29 182.94,272.05 183.02,271.81 183.09,271.57 183.17,271.34 183.25,271.10 183.32,270.86 183.40,270.62 183.48,270.39 183.55,270.15 183.63,269.91 183.71,269.67 183.78,269.43 183.86,269.20 183.94,268.96 184.01,268.72 184.09,268.48 184.17,268.24 184.25,268.01 184.32,267.77 184.40,267.53 184.48,267.29 184.55,267.06 184.63,266.82 184.71,266.58 184.79,266.34 184.86,266.10 184.94,265.87 185.02,265.63 185.10,265.39 185.17,265.15 185.25,264.92 185.33,264.68 185.41,264.44 185.48,264.20 185.56,263.97 185.64,263.73 185.72,263.49 185.79,263.25 185.87,263.02 185.95,262.78 186.03,262.54 186.11,262.30 186.18,262.07 186.26,261.83 186.34,261.59 186.42,261.35 186.50,261.12 186.58,260.88 186.65,260.64 186.73,260.40 186.81,260.17 186.89,259.93 186.97,259.69 187.05,259.45 187.12,259.22 187.20,258.98 187.28,258.74 187.36,258.50 187.44,258.27 187.52,258.03 187.60,257.79 187.68,257.56 187.75,257.32 187.83,257.08 187.91,256.84 187.99,256.61 188.07,256.37 188.15,256.13 188.23,255.90 188.31,255.66 188.39,255.42 188.47,255.18 188.55,254.95 188.63,254.71 188.71,254.47 188.79,254.24 188.87,254.00 188.95,253.76 189.03,253.53 189.11,253.29 189.19,253.05 189.27,252.82 189.35,252.58 189.43,252.34 189.51,252.10 189.59,251.87 189.67,251.63 189.75,251.39 189.83,251.16 189.91,250.92 189.99,250.68 190.07,250.45 190.15,250.21 190.23,249.98 190.31,249.74 190.40,249.50 190.48,249.27 190.56,249.03 190.64,248.79 190.72,248.56 190.80,248.32 190.88,248.08 190.97,247.85 191.05,247.61 191.13,247.38 191.21,247.14 191.29,246.90 191.38,246.67 191.46,246.43 191.54,246.20 191.62,245.96 191.71,245.72 191.79,245.49 191.87,245.25 191.95,245.02 192.04,244.78 192.12,244.54 192.20,244.31 192.29,244.07 192.37,243.84 192.45,243.60 192.54,243.37 192.62,243.13 192.70,242.89 192.79,242.66 192.87,242.42 192.96,242.19 193.04,241.95 193.12,241.72 193.21,241.48 193.29,241.25 193.38,241.01 193.46,240.78 193.55,240.54 193.63,240.31 193.72,240.07 193.80,239.84 193.89,239.60 193.97,239.37 194.06,239.13 194.14,238.90 194.23,238.66 194.32,238.43 194.40,238.19 194.49,237.96 194.57,237.72 194.66,237.49 194.75,237.25 194.83,237.02 194.92,236.78 195.01,236.55 195.10,236.32 195.18,236.08 195.27,235.85 195.36,235.61 195.44,235.38 195.53,235.14 195.62,234.91 195.71,234.68 195.80,234.44 195.88,234.21 195.97,233.97 196.06,233.74 196.15,233.51 196.24,233.27 196.33,233.04 196.42,232.81 196.51,232.57 196.60,232.34 196.69,232.11 196.78,231.87 196.87,231.64 196.96,231.41 197.05,231.17 197.14,230.94 197.23,230.71 197.32,230.47 197.41,230.24 197.50,230.01 197.59,229.78 197.68,229.54 197.78,229.31 197.87,229.08 197.96,228.85 198.05,228.61 198.14,228.38 198.24,228.15 198.33,227.92 198.42,227.68 198.52,227.45 198.61,227.22 198.70,226.99 198.80,226.76 198.89,226.53 198.98,226.29 199.08,226.06 199.17,225.83 199.27,225.60 199.36,225.37 199.46,225.14 199.55,224.91 199.65,224.67 199.74,224.44 199.84,224.21 199.94,223.98 200.03,223.75 200.13,223.52 200.23,223.29 200.32,223.06 200.42,222.83 200.52,222.60 200.62,222.37 200.72,222.14 200.81,221.91 200.91,221.68 201.01,221.45 201.11,221.22 201.21,220.99 201.31,220.76 201.41,220.53 201.51,220.30 201.61,220.08 201.71,219.85 201.81,219.62 201.91,219.39 202.01,219.16 202.11,218.93 202.22,218.70 202.32,218.48 202.42,218.25 202.52,218.02 202.63,217.79 202.73,217.56 202.83,217.34 202.94,217.11 203.04,216.88 203.15,216.66 203.25,216.43 203.36,216.20 203.46,215.98 203.57,215.75 203.67,215.52 203.78,215.30 203.89,215.07 204.00,214.84 204.10,214.62 204.21,214.39 204.32,214.17 204.43,213.94 204.54,213.72 204.65,213.49 204.76,213.27 204.87,213.04 204.98,212.82 205.09,212.59 205.20,212.37 205.31,212.15 205.42,211.92 205.53,211.70 205.65,211.48 205.76,211.25 205.87,211.03 205.99,210.81 206.10,210.59 206.21,210.36 206.33,210.14 206.45,209.92 206.56,209.70 206.68,209.48 206.79,209.26 206.91,209.04 207.03,208.82 207.15,208.60 207.27,208.38 207.39,208.16 207.50,207.94 207.62,207.72 207.75,207.50 207.87,207.28 207.99,207.06 208.11,206.84 208.23,206.63 208.36,206.41 208.48,206.19 208.60,205.97 208.73,205.76 208.85,205.54 208.98,205.32 209.11,205.11 209.23,204.89 209.36,204.68 209.49,204.46 209.62,204.25 209.75,204.04 209.88,203.82 210.01,203.61 210.14,203.40 210.27,203.18 210.40,202.97 210.54,202.76 210.67,202.55 210.80,202.34 210.94,202.13 211.08,201.92 211.21,201.71 211.35,201.50 211.49,201.29 211.63,201.09 211.77,200.88 211.92,200.68 212.06,200.48 212.21,200.28 212.36,200.08 212.51,199.88 212.66,199.69 212.82,199.50 212.98,199.31 213.14,199.13 213.31,198.96 213.48,198.79 213.65,198.62 213.82,198.47 213.99,198.33 214.16,198.20 214.34,198.08 214.51,197.98 214.68,197.89 214.84,197.83 215.00,197.78 215.16,197.76 215.31,197.76 215.46,197.79 215.60,197.84 215.73,197.92 215.86,198.01 215.98,198.13 216.10,198.27 216.21,198.43 216.32,198.60 216.43,198.79 216.53,198.98 216.64,199.19 216.74,199.40 216.83,199.61 216.93,199.84 217.02,200.06 217.11,200.29 217.20,200.51 217.29,200.74 217.37,200.98 217.45,201.21 217.52,201.44 217.59,201.68 217.66,201.92 217.73,202.16 217.79,202.40 217.84,202.64 217.89,202.88 217.94,203.12 217.99,203.37 218.04,203.61 218.08,203.86 218.12,204.10 218.16,204.35 218.20,204.60 218.23,204.84 218.27,205.09 218.30,205.34 218.33,205.59 218.37,205.84 218.40,206.08 218.43,206.33 218.46,206.58 218.49,206.83 218.52,207.08 218.55,207.32 218.58,207.57 218.60,207.82 218.63,208.07 218.66,208.32 218.69,208.57 218.71,208.81 218.74,209.06 218.77,209.31 218.79,209.56 218.82,209.81 218.85,210.06 218.87,210.31 218.90,210.56 218.92,210.80 218.95,211.05 218.97,211.30 219.00,211.55 219.02,211.80 219.05,212.05 219.07,212.30 219.10,212.55 219.12,212.79 219.14,213.04 219.17,213.29 219.19,213.54 219.22,213.79 219.24,214.04 219.26,214.29 219.29,214.54 219.31,214.78 219.34,215.03 219.36,215.28 219.38,215.53 219.41,215.78 219.43,216.03 219.46,216.28 219.48,216.53 219.50,216.78 219.53,217.02 219.55,217.27 219.58,217.52 219.60,217.77 219.62,218.02 219.65,218.27 219.67,218.52 219.70,218.77 219.72,219.02 219.75,219.26 219.77,219.51 219.79,219.76 219.82,220.01 219.84,220.26 219.87,220.51 219.89,220.76 219.92,221.01 219.95,221.25 219.97,221.50 220.00,221.75 220.02,222.00 220.05,222.25 220.08,222.50 220.10,222.75 220.13,222.99 220.16,223.24 220.19,223.49 220.21,223.74 220.24,223.99 220.27,224.24 220.30,224.48 220.33,224.73 220.36,224.98 220.39,225.23 220.42,225.48 220.45,225.72 220.49,225.97 220.52,226.22 220.56,226.47 220.59,226.71 220.63,226.96 220.67,227.21 220.71,227.45 220.75,227.69 220.79,227.93 220.84,228.16 220.89,228.39 220.94,228.62 221.00,228.83 221.06,229.03 221.12,229.22 221.19,229.40 221.26,229.55 221.34,229.68 221.42,229.79 221.50,229.88 221.59,229.93 221.69,229.96 221.78,229.96 221.88,229.93 221.98,229.87 222.09,229.78 222.19,229.67 222.30,229.54 222.40,229.39 222.51,229.22 222.62,229.04 222.73,228.85 222.84,228.65 222.94,228.44 223.05,228.23 223.16,228.01 223.27,227.79 223.37,227.57 223.48,227.34 223.59,227.12 223.70,226.89 223.81,226.67 223.92,226.44 224.03,226.22 224.13,225.99 224.24,225.77 224.35,225.54 224.46,225.32 224.57,225.10 224.68,224.87 224.79,224.65 224.90,224.42 225.01,224.20 225.12,223.97 225.24,223.75 225.35,223.53 225.46,223.30 225.57,223.08 225.69,222.86 225.80,222.63 225.91,222.41 226.03,222.19 226.14,221.97 226.25,221.74 226.37,221.52 226.48,221.30 226.60,221.08 226.72,220.86 226.83,220.64 226.95,220.42 227.07,220.19 227.19,219.97 227.31,219.75 227.43,219.54 227.55,219.32 227.67,219.10 227.79,218.88 227.91,218.66 228.03,218.44 228.15,218.22 228.28,218.01 228.40,217.79 228.53,217.57 228.65,217.36 228.78,217.14 228.91,216.93 229.04,216.71 229.17,216.50 229.30,216.29 229.43,216.08 229.56,215.86 229.69,215.65 229.83,215.44 229.96,215.23 230.10,215.02 230.24,214.81 230.38,214.61 230.52,214.40 230.66,214.19 230.80,213.99 230.94,213.78 231.09,213.58 231.24,213.38 231.39,213.18 231.54,212.98 231.69,212.78 231.84,212.58 232.00,212.39 232.15,212.19 232.31,212.00 232.47,211.81 232.63,211.62 232.80,211.43 232.97,211.25 233.14,211.07 233.31,210.89 233.48,210.71 233.66,210.53 233.84,210.36 234.02,210.19 234.20,210.02 234.39,209.86 234.58,209.70 234.77,209.55 234.97,209.39 235.17,209.25 235.37,209.10 235.57,208.96 235.78,208.83 235.99,208.70 236.20,208.57 236.42,208.45 236.63,208.33 236.85,208.22 237.06,208.11 237.28,208.01 237.49,207.91 237.71,207.82 237.92,207.74 238.13,207.67 238.34,207.61 238.54,207.56 238.74,207.53 238.93,207.51 239.12,207.51 239.30,207.53 239.48,207.57 239.66,207.62 239.82,207.70 239.99,207.80 240.14,207.92 240.30,208.05 240.45,208.19 240.59,208.36 240.73,208.53 240.86,208.71 240.99,208.90 241.11,209.10 241.22,209.30 241.33,209.52 241.43,209.73 241.52,209.95 241.60,210.17 241.67,210.40 241.74,210.63 241.79,210.86 241.84,211.10 241.88,211.34 241.92,211.58 241.94,211.82 241.97,212.06 241.98,212.31 242.00,212.55 242.01,212.80 242.02,213.05 242.02,213.30 242.03,213.55 242.03,213.80 242.04,214.05 242.04,214.30 242.04,214.55 242.04,214.80 242.05,215.05 242.05,215.30 242.05,215.55 242.05,215.80 242.06,216.05 242.06,216.30 242.06,216.55 242.06,216.80 242.07,217.05 242.07,217.30 242.07,217.55 242.07,217.80 242.08,218.05 242.08,218.30 242.08,218.55 242.08,218.80 242.09,219.05 242.09,219.30 242.09,219.55 242.09,219.80 242.10,220.05 242.10,220.30 242.10,220.55 242.10,220.80 242.11,221.05 242.11,221.30 242.11,221.55 242.11,221.80 242.12,222.05 242.12,222.30 242.12,222.55 242.12,222.80 242.13,223.05 242.13,223.30 242.13,223.54 242.13,223.79 242.13,224.04 242.14,224.29 242.14,224.54 242.14,224.79 242.14,225.04 242.15,225.29 242.15,225.54 242.15,225.79 242.15,226.04 242.16,226.29 242.16,226.54 242.16,226.79 242.16,227.04 242.17,227.29 242.17,227.54 242.17,227.79 242.17,228.04 242.18,228.29 242.18,228.54 242.18,228.79 242.18,229.04 242.19,229.29 242.19,229.54 242.19,229.79 242.19,230.04 242.20,230.29 242.20,230.54 242.20,230.79 242.20,231.04 242.21,231.29 242.21,231.54 242.21,231.79 242.21,232.04 242.22,232.29 242.22,232.54 242.22,232.79 242.22,233.04 242.22,233.29 242.23,233.54 242.23,233.79 242.23,234.04 242.23,234.29 242.24,234.54 242.24,234.79 242.24,235.04 242.24,235.29 242.25,235.54 242.25,235.79 242.25,236.04 242.25,236.29 242.26,236.54 242.26,236.79 242.26,237.04 242.26,237.29 242.27,237.54 242.27,237.79 242.27,238.04 242.27,238.29 242.28,238.54 242.28,238.79 242.28,239.04 242.28,239.29 242.29,239.54 242.29,239.79 242.29,240.04 242.29,240.29 242.30,240.54 242.30,240.79 242.30,241.04 242.30,241.29 242.31,241.54 242.31,241.79 242.31,242.04 242.31,242.29 242.32,242.54 242.32,242.79 242.32,243.04 242.32,243.29 242.32,243.54 242.33,243.79 242.33,244.04 242.33,244.29 242.33,244.54 242.34,244.79 242.34,245.04 242.34,245.29 242.34,245.54 242.35,245.79 242.35,246.04 242.35,246.29 242.35,246.54 242.36,246.79 242.36,247.04 242.36,247.29 242.36,247.54 242.37,247.79 242.37,248.04 242.37,248.29 242.37,248.54 242.38,248.79 242.38,249.04 242.38,249.29 242.38,249.54 242.39,249.79 242.39,250.04 242.39,250.29 242.39,250.54 242.40,250.79 242.40,251.04 242.40,251.29 242.40,251.54 242.41,251.79 242.41,252.04 242.41,252.29 242.41,252.54 242.41,252.79 242.42,253.04 242.42,253.29 242.42,253.54 242.42,253.79 242.43,254.04 242.43,254.29 242.43,254.54 242.43,254.79 242.44,255.04 242.44,255.29 242.44,255.54 242.44,255.79 242.45,256.04 242.45,256.29 242.45,256.54 242.45,256.79 242.46,257.04 242.46,257.29 242.46,257.54 242.46,257.79 242.47,258.04 242.47,258.29 242.47,258.54 242.47,258.79 242.48,259.04 242.48,259.29 242.48,259.54 242.48,259.79 242.49,260.04 242.49,260.29 242.49,260.54 242.49,260.79 242.50,261.04 242.50,261.29 242.50,261.54 242.50,261.79 242.50,262.04 242.51,262.29 242.51,262.54 242.51,262.79 242.51,263.04 242.52,263.29 242.52,263.54 242.52,263.79 242.52,264.04 242.53,264.29 242.53,264.54 242.53,264.79 242.53,265.04 242.54,265.29 242.54,265.54 242.54,265.79 242.54,266.04 242.55,266.29 242.55,266.54 242.55,266.79 242.55,267.04 242.56,267.29 242.56,267.54 242.56,267.79 242.56,268.04 242.57,268.29 242.57,268.54 242.57,268.79 242.57,269.04 242.58,269.29 242.58,269.54 242.58,269.79 242.59,270.04 242.59,270.29 242.59,270.54 242.60,270.79 242.60,271.04 242.61,271.28 242.61,271.52 242.62,271.76 242.63,271.99 242.63,272.22 242.64,272.44 242.66,272.64 242.67,272.83 242.69,273.01 242.70,273.16 242.73,273.30 242.75,273.41 242.78,273.49 242.81,273.54 242.85,273.56 242.89,273.55 242.93,273.51 242.98,273.44 243.04,273.35 243.09,273.23 243.16,273.08 243.22,272.92 243.29,272.74 243.36,272.55 243.43,272.34 243.50,272.13 243.58,271.91 243.65,271.68 243.73,271.46 243.81,271.22 243.89,270.99 243.97,270.75 244.05,270.52 244.13,270.28 244.21,270.04 244.29,269.81 244.37,269.57 244.45,269.33 244.53,269.10 244.61,268.86 244.69,268.62 244.77,268.39 244.85,268.15 244.93,267.91 245.01,267.68 245.09,267.44 245.17,267.20 245.25,266.97 245.33,266.73 245.41,266.49 245.49,266.26 245.57,266.02 245.65,265.78 245.73,265.55 245.81,265.31 245.89,265.07 245.97,264.84 246.06,264.60 246.14,264.36 246.22,264.13 246.30,263.89 246.38,263.65 246.46,263.42 246.54,263.18 246.62,262.94 246.70,262.71 246.78,262.47 246.86,262.23 246.94,262.00 247.03,261.76 247.11,261.52 247.19,261.29 247.27,261.05 247.35,260.82 247.43,260.58 247.51,260.34 247.59,260.11 247.67,259.87 247.76,259.63 247.84,259.40 247.92,259.16 248.00,258.92 248.08,258.69 248.16,258.45 248.25,258.22 248.33,257.98 248.41,257.74 248.49,257.51 248.57,257.27 248.65,257.03 248.74,256.80 248.82,256.56 248.90,256.33 248.98,256.09 249.06,255.85 249.15,255.62 249.23,255.38 249.31,255.14 249.39,254.91 249.48,254.67 249.56,254.44 249.64,254.20 249.72,253.96 249.81,253.73 249.89,253.49 249.97,253.26 250.05,253.02 250.14,252.79 250.22,252.55 250.30,252.31 250.39,252.08 250.47,251.84 250.55,251.61 250.64,251.37 250.72,251.14 250.80,250.90 250.89,250.66 250.97,250.43 251.05,250.19 251.14,249.96 251.22,249.72 251.31,249.49 251.39,249.25 251.47,249.02 251.56,248.78 251.64,248.54 251.73,248.31 251.81,248.07 251.90,247.84 251.98,247.60 252.07,247.37 252.15,247.13 252.24,246.90 252.32,246.66 252.41,246.43 252.49,246.19 252.58,245.96 252.66,245.72 252.75,245.49 252.83,245.25 252.92,245.02 253.00,244.78 253.09,244.55 253.18,244.31 253.26,244.08 253.35,243.84 253.43,243.61 253.52,243.38 253.61,243.14 253.69,242.91 253.78,242.67 253.87,242.44 253.95,242.20 254.04,241.97 254.13,241.73 254.22,241.50 254.30,241.27 254.39,241.03 254.48,240.80 254.57,240.56 254.65,240.33 254.74,240.09 254.83,239.86 254.92,239.63 255.01,239.39 255.09,239.16 255.18,238.93 255.27,238.69 255.36,238.46 255.45,238.22 255.54,237.99 255.63,237.76 255.72,237.52 255.81,237.29 255.90,237.06 255.99,236.82 256.08,236.59 256.17,236.36 256.26,236.12 256.35,235.89 256.44,235.66 256.53,235.43 256.62,235.19 256.71,234.96 256.80,234.73 256.89,234.49 256.98,234.26 257.08,234.03 257.17,233.80 257.26,233.56 257.35,233.33 257.44,233.10 257.54,232.87 257.63,232.63 257.72,232.40 257.81,232.17 257.91,231.94 258.00,231.71 258.09,231.47 258.19,231.24 258.28,231.01 258.38,230.78 258.47,230.55 258.56,230.32 258.66,230.08 258.75,229.85 258.85,229.62 258.94,229.39 259.04,229.16 259.13,228.93 259.23,228.70 259.33,228.47 259.42,228.24 259.52,228.01 259.61,227.77 259.71,227.54 259.81,227.31 259.91,227.08 260.00,226.85 260.10,226.62 260.20,226.39 260.30,226.16 260.39,225.93 260.49,225.70 260.59,225.47 260.69,225.24 260.79,225.01 260.89,224.79 260.99,224.56 261.09,224.33 261.19,224.10 261.29,223.87 261.39,223.64 261.49,223.41 261.59,223.18 261.69,222.95 261.80,222.73 261.90,222.50 262.00,222.27 262.10,222.04 262.21,221.81 262.31,221.59 262.41,221.36 262.52,221.13 262.62,220.90 262.72,220.68 262.83,220.45 262.93,220.22 263.04,220.00 263.14,219.77 263.25,219.54 263.36,219.32 263.46,219.09 263.57,218.86 263.68,218.64 263.78,218.41 263.89,218.19 264.00,217.96 264.11,217.74 264.22,217.51 264.33,217.29 264.44,217.06 264.54,216.84 264.66,216.61 264.77,216.39 264.88,216.16 264.99,215.94 265.10,215.72 265.21,215.49 265.32,215.27 265.44,215.05 265.55,214.82 265.66,214.60 265.78,214.38 265.89,214.16 266.01,213.93 266.12,213.71 266.24,213.49 266.35,213.27 266.47,213.05 266.59,212.83 266.70,212.61 266.82,212.39 266.94,212.17 267.06,211.95 267.18,211.73 267.30,211.51 267.42,211.29 267.54,211.07 267.66,210.85 267.78,210.63 267.90,210.41 268.03,210.20 268.15,209.98 268.27,209.76 268.40,209.54 268.52,209.33 268.65,209.11 268.77,208.89 268.90,208.68 269.03,208.46 269.15,208.25 269.28,208.03 269.41,207.82 269.54,207.61 269.67,207.39 269.80,207.18 269.93,206.97 270.06,206.75 270.20,206.54 270.33,206.33 270.46,206.12 270.60,205.91 270.73,205.70 270.87,205.49 271.01,205.28 271.14,205.07 271.28,204.86 271.42,204.65 271.56,204.45 271.70,204.24 271.84,204.04 271.98,203.83 272.13,203.63 272.27,203.42 272.42,203.22 272.57,203.02 272.72,202.82 272.87,202.63 273.02,202.43 273.18,202.24 273.34,202.05 273.50,201.87 273.67,201.68 273.83,201.51 274.00,201.34 274.18,201.18 274.35,201.02 274.52,200.87 274.70,200.74 274.87,200.62 275.04,200.51 275.21,200.42 275.38,200.35 275.54,200.29 275.70,200.27 275.86,200.26 276.00,200.28 276.14,200.32 276.28,200.39 276.41,200.48 276.53,200.59 276.65,200.73 276.76,200.88 276.86,201.05 276.96,201.23 277.05,201.43 277.14,201.64 277.22,201.85 277.30,202.07 277.38,202.30 277.45,202.53 277.51,202.77 277.57,203.00 277.62,203.24 277.67,203.48 277.72,203.73 277.76,203.97 277.80,204.22 277.83,204.46 277.86,204.71 277.89,204.96 277.92,205.21 277.94,205.45 277.96,205.70 277.98,205.95 277.99,206.20 278.01,206.45 278.02,206.70 278.04,206.95 278.05,207.20 278.06,207.45 278.07,207.70 278.08,207.95 278.10,208.20 278.11,208.45 278.12,208.70 278.13,208.95 278.14,209.20 278.15,209.45 278.16,209.70 278.17,209.94 278.17,210.19 278.18,210.44 278.19,210.69 278.20,210.94 278.21,211.19 278.22,211.44 278.23,211.69 278.24,211.94 278.25,212.19 278.26,212.44 278.27,212.69 278.27,212.94 278.28,213.19 278.29,213.44 278.30,213.69 278.31,213.94 278.31,214.19 278.32,214.44 278.33,214.69 278.33,214.94 278.34,215.19 278.35,215.44 278.35,215.69 278.36,215.94 278.37,216.19 278.38,216.44 278.38,216.69 278.39,216.94 278.40,217.19 278.40,217.44 278.41,217.69 278.42,217.94 278.42,218.19 278.43,218.44 278.44,218.69 278.44,218.94 278.45,219.19 278.46,219.44 278.46,219.69 278.47,219.94 278.48,220.19 278.48,220.44 278.49,220.69 278.50,220.94 278.50,221.19 278.51,221.44 278.52,221.69 278.53,221.94 278.53,222.19 278.54,222.44 278.54,222.69 278.55,222.94 278.56,223.19 278.56,223.44 278.57,223.69 278.58,223.94 278.58,224.19 278.59,224.44 278.60,224.69 278.60,224.94 278.61,225.19 278.61,225.44 278.62,225.69 278.63,225.94 278.63,226.19 278.64,226.44 278.65,226.69 278.65,226.94 278.66,227.19 278.66,227.44 278.67,227.69 278.68,227.94 278.68,228.19 278.69,228.44 278.69,228.69 278.70,228.94 278.71,229.19 278.71,229.44 278.72,229.69 278.73,229.94 278.73,230.19 278.74,230.44 278.74,230.69 278.75,230.94 278.76,231.19 278.76,231.44 278.77,231.69 278.77,231.94 278.78,232.19 278.79,232.44 278.79,232.69 278.80,232.94 278.81,233.19 278.81,233.44 278.82,233.69 278.82,233.94 278.83,234.19 278.84,234.44 278.84,234.69 278.85,234.94 278.86,235.19 278.86,235.44 278.87,235.68 278.88,235.93 278.88,236.18 278.89,236.43 278.90,236.68 278.90,236.93 278.91,237.18 278.92,237.43 278.92,237.68 278.93,237.93 278.94,238.18 278.94,238.43 278.95,238.68 278.96,238.93 278.97,239.18 278.97,239.43 278.98,239.68 278.99,239.93 278.99,240.18 279.00,240.43 279.01,240.68 279.01,240.93 279.02,241.18 279.03,241.43 279.03,241.68 279.04,241.93 279.05,242.18 279.05,242.43 279.06,242.68 279.07,242.93 279.08,243.18 279.08,243.43 279.09,243.68 279.10,243.93 279.10,244.18 279.11,244.43 279.12,244.68 279.13,244.93 279.14,245.18 279.14,245.43 279.15,245.68 279.16,245.93 279.17,246.18 279.18,246.43 279.19,246.68 279.20,246.93 279.21,247.18 279.22,247.43 279.23,247.68 279.24,247.93 279.25,248.18 279.26,248.43 279.27,248.68 279.28,248.93 279.29,249.18 279.30,249.43 279.31,249.68 279.32,249.93 279.33,250.18 279.34,250.43 279.35,250.68 279.37,250.92 279.38,251.17 279.39,251.42 279.41,251.66 279.43,251.90 279.45,252.13 279.47,252.36 279.49,252.58 279.51,252.79 279.54,252.98 279.57,253.16 279.60,253.32 279.64,253.46 279.68,253.58 279.72,253.67 279.76,253.73 279.81,253.76 279.86,253.76 279.92,253.73 279.98,253.68 280.04,253.59 280.10,253.48 280.17,253.34 280.24,253.19 280.31,253.01 280.38,252.83 280.46,252.62 280.53,252.41 280.61,252.20 280.68,251.97 280.76,251.74 280.84,251.51 280.91,251.28 280.99,251.04 281.07,250.81 281.15,250.57 281.22,250.33 281.30,250.09 281.38,249.86 281.46,249.62 281.53,249.38 281.61,249.14 281.69,248.91 281.77,248.67 281.85,248.43 281.92,248.19 282.00,247.96 282.08,247.72 282.16,247.48 282.24,247.24 282.32,247.01 282.39,246.77 282.47,246.53 282.55,246.29 282.63,246.06 282.71,245.82 282.79,245.58 282.86,245.35 282.94,245.11 283.02,244.87 283.10,244.63 283.18,244.40 283.26,244.16 283.34,243.92 283.42,243.68 283.50,243.45 283.58,243.21 283.65,242.97 283.73,242.74 283.81,242.50 283.89,242.26 283.97,242.03 284.05,241.79 284.13,241.55 284.21,241.31 284.29,241.08 284.37,240.84 284.45,240.60 284.53,240.37 284.61,240.13 284.69,239.89 284.77,239.66 284.86,239.42 284.94,239.18 285.02,238.95 285.10,238.71 285.18,238.48 285.26,238.24 285.34,238.00 285.42,237.77 285.51,237.53 285.59,237.29 285.67,237.06 285.75,236.82 285.83,236.58 285.92,236.35 286.00,236.11 286.08,235.88 286.16,235.64 286.25,235.41 286.33,235.17 286.41,234.93 286.50,234.70 286.58,234.46 286.66,234.23 286.75,233.99 286.83,233.76 286.91,233.52 287.00,233.28 287.08,233.05 287.17,232.81 287.25,232.58 287.34,232.34 287.42,232.11 287.51,231.87 287.59,231.64 287.68,231.40 287.77,231.17 287.85,230.93 287.94,230.70 288.02,230.47 288.11,230.23 288.20,230.00 288.29,229.76 288.37,229.53 288.46,229.29 288.55,229.06 288.64,228.83 288.72,228.59 288.81,228.36 288.90,228.12 288.99,227.89 289.08,227.66 289.17,227.42 289.26,227.19 289.35,226.96 289.44,226.72 289.53,226.49 289.62,226.26 289.71,226.03 289.80,225.79 289.89,225.56 289.99,225.33 290.08,225.10 290.17,224.86 290.26,224.63 290.36,224.40 290.45,224.17 290.55,223.94 290.64,223.70 290.73,223.47 290.83,223.24 290.92,223.01 291.02,222.78 291.12,222.55 291.21,222.32 291.31,222.09 291.41,221.86 291.50,221.63 291.60,221.40 291.70,221.17 291.80,220.94 291.90,220.71 292.00,220.48 292.10,220.25 292.20,220.02 292.30,219.79 292.40,219.56 292.50,219.33 292.60,219.11 292.70,218.88 292.81,218.65 292.91,218.42 293.02,218.20 293.12,217.97 293.22,217.74 293.33,217.52 293.44,217.29 293.54,217.06 293.65,216.84 293.76,216.61 293.87,216.39 293.98,216.16 294.09,215.94 294.20,215.71 294.31,215.49 294.42,215.27 294.53,215.04 294.65,214.82 294.76,214.60 294.88,214.38 294.99,214.15 295.11,213.93 295.22,213.71 295.34,213.49 295.46,213.27 295.58,213.05 295.70,212.83 295.82,212.61 295.94,212.40 296.07,212.18 296.19,211.96 296.32,211.75 296.44,211.53 296.57,211.32 296.70,211.10 296.83,210.89 296.96,210.67 297.09,210.46 297.22,210.25 297.36,210.04 297.49,209.83 297.63,209.62 297.77,209.41 297.91,209.20 298.05,209.00 298.19,208.79 298.33,208.59 298.48,208.39 298.63,208.18 298.77,207.98 298.92,207.78 299.08,207.59 299.23,207.39 299.39,207.20 299.54,207.00 299.70,206.81 299.87,206.62 300.03,206.43 300.20,206.25 300.36,206.06 300.53,205.88 300.71,205.70 300.88,205.53 301.06,205.35 301.24,205.18 301.43,205.02 301.61,204.85 301.80,204.69 301.99,204.53 302.19,204.38 302.38,204.23 302.58,204.08 302.79,203.94 302.99,203.80 303.20,203.66 303.41,203.53 303.62,203.41 303.83,203.29 304.04,203.17 304.25,203.06 304.46,202.96 304.66,202.86 304.87,202.78 305.07,202.70 305.27,202.64 305.46,202.59 305.65,202.56 305.83,202.55 306.01,202.55 306.18,202.58 306.34,202.63 306.50,202.70 306.65,202.79 306.79,202.90 306.93,203.03 307.06,203.18 307.18,203.34 307.30,203.52 307.41,203.71 307.51,203.90 307.61,204.11 307.71,204.33 307.79,204.55 307.87,204.77 307.94,205.00 308.00,205.23 308.06,205.47 308.11,205.70 308.15,205.94 308.19,206.18 308.22,206.43 308.24,206.67 308.27,206.92 308.28,207.16 308.29,207.41 308.30,207.66 308.31,207.91 308.32,208.16 308.33,208.41 308.33,208.65 308.33,208.90 308.34,209.15 308.34,209.40 308.34,209.65 308.34,209.90 308.35,210.15 308.35,210.40 308.35,210.65 308.35,210.90 308.36,211.15 308.36,211.40 308.36,211.65 308.36,211.90 308.37,212.15 308.37,212.40 308.37,212.65 308.37,212.90 308.37,213.15 308.38,213.40 308.38,213.65 308.38,213.90 308.38,214.15 308.39,214.40 308.39,214.65 308.39,214.90 308.39,215.15 308.40,215.40 308.40,215.65 308.40,215.90 308.40,216.15 308.40,216.40 308.41,216.65 308.41,216.90 308.41,217.15 308.41,217.40 308.42,217.65 308.42,217.90 308.42,218.15 308.42,218.40 308.43,218.65 308.43,218.90 308.43,219.15 308.43,219.40 308.44,219.65 308.44,219.90 308.44,220.15 308.44,220.40 308.44,220.65 308.45,220.90 308.45,221.15 308.45,221.40 308.45,221.65 308.46,221.90 308.46,222.15 308.46,222.40 308.46,222.65 308.47,222.90 308.47,223.15 308.47,223.40 308.47,223.65 308.48,223.90 308.48,224.15 308.48,224.40 308.48,224.65 308.48,224.90 308.49,225.15 308.49,225.40 308.49,225.65 308.49,225.90 308.50,226.15 308.50,226.40 308.50,226.65 308.50,226.90 308.51,227.15 308.51,227.40 308.51,227.65 308.51,227.90 308.51,228.15 308.52,228.40 308.52,228.65 308.52,228.90 308.52,229.15 308.53,229.40 308.53,229.65 308.53,229.90 308.53,230.15 308.54,230.40 308.54,230.65 308.54,230.90 308.54,231.15 308.55,231.40 308.55,231.65 308.55,231.90 308.55,232.15 308.55,232.40 308.56,232.65 308.56,232.90 308.56,233.15 308.56,233.40 308.57,233.65 308.57,233.90 308.57,234.15 308.57,234.40 308.58,234.65 308.58,234.90 308.58,235.15 308.58,235.40 308.59,235.65 308.59,235.90 308.59,236.15 308.59,236.40 308.59,236.65 308.60,236.90 308.60,237.15 308.60,237.40 308.60,237.65 308.61,237.90 308.61,238.15 308.61,238.40 308.61,238.65 308.62,238.90 308.62,239.15 308.62,239.40 308.62,239.65 308.62,239.90 308.63,240.15 308.63,240.40 308.63,240.65 308.63,240.90 308.64,241.15 308.64,241.40 308.64,241.65 308.64,241.90 308.65,242.15 308.65,242.40 308.65,242.65 308.65,242.90 308.66,243.15 308.66,243.40 308.66,243.65 308.66,243.90 308.66,244.15 308.67,244.40 308.67,244.65 308.67,244.90 308.67,245.15 308.68,245.40 308.68,245.65 308.68,245.90 308.68,246.15 308.69,246.40 308.69,246.65 308.69,246.90 308.69,247.15 308.70,247.40 308.70,247.65 308.70,247.90 308.70,248.15 308.70,248.40 308.71,248.65 308.71,248.90 308.71,249.15 308.71,249.40 308.72,249.65 308.72,249.90 308.72,250.15 308.72,250.40 308.73,250.65 308.73,250.90 308.73,251.15 308.73,251.40 308.73,251.65 308.74,251.90 308.74,252.15 308.74,252.40 308.74,252.65 308.75,252.90 308.75,253.15 308.75,253.40 308.75,253.65 308.76,253.90 308.76,254.15 308.76,254.40 308.76,254.65 308.77,254.90 308.77,255.15 308.77,255.40 308.77,255.65 308.77,255.90 308.78,256.15 308.78,256.40 308.78,256.65 308.78,256.90 308.79,257.15 308.79,257.40 308.79,257.65 308.79,257.90 308.80,258.15 308.80,258.40 308.80,258.65 308.80,258.90 308.81,259.15 308.81,259.40 308.81,259.65 308.81,259.90 308.81,260.15 308.82,260.40 308.82,260.65 308.82,260.90 308.82,261.15 308.83,261.40 308.83,261.65 308.83,261.90 308.83,262.15 308.84,262.40 308.84,262.65 308.84,262.90 308.84,263.15 308.84,263.40 308.85,263.65 308.85,263.90 308.85,264.15 308.85,264.40 308.86,264.65 308.86,264.90 308.86,265.15 308.86,265.40 308.87,265.65 308.87,265.90 308.87,266.15 308.87,266.40 308.88,266.65 308.88,266.90 308.88,267.15 308.88,267.40 308.89,267.65 308.89,267.90 308.89,268.15 308.90,268.40 308.90,268.65 308.91,268.89 308.91,269.14 308.92,269.38 308.92,269.61 308.93,269.85 308.93,270.07 308.94,270.29 308.94,270.51 308.95,270.71 308.96,270.90 308.96,271.07 308.97,271.24 308.97,271.39 308.97,271.52" fill="none" stroke="#7ab2dc" stroke-width="1.0" stroke-linejoin="round" opacity="1.0"/>
<polyline points="50.20,278.26 50.45,277.05 50.70,275.31 50.95,273.27 51.20,271.52 51.45,269.53 51.70,267.91 51.95,271.92 52.20,270.30 52.45,268.64 52.70,267.61 52.95,266.46 53.20,265.15 53.45,263.28 53.70,266.95 53.95,266.61 54.20,265.12 54.45,264.21 54.70,262.56 54.95,261.37 55.20,259.95 55.45,259.47 55.70,258.41 55.95,258.21 56.20,257.84 56.45,256.49 56.70,253.88 56.95,252.48 57.20,251.32 57.45,250.19 57.70,248.15 57.95,246.73 58.20,251.19 58.45,250.39 58.70,250.58 58.95,249.65 59.20,249.15 59.45,249.11 59.70,248.19 59.95,247.55 60.20,247.02 60.45,246.43 60.70,245.15 60.95,244.64 61.20,244.77 61.45,243.25 61.70,243.12 61.95,242.52 62.20,240.36 62.45,239.33 62.70,237.48 62.95,234.27 63.20,237.81 63.45,236.13 63.70,233.29 63.95,230.80 64.20,234.05 64.45,232.23 64.70,230.77 64.95,228.10 65.20,231.82 65.45,230.21 65.70,232.89 65.95,231.54 66.20,230.62 66.45,229.94 66.70,229.85 66.95,229.81 67.20,228.38 67.45,227.12 67.70,226.47 67.95,224.37 68.20,223.24 68.45,222.31 68.70,222.09 68.95,221.44 69.20,220.20 69.45,222.76 69.70,222.07 69.95,222.33 70.20,221.44 70.45,220.67 70.70,220.27 70.95,218.51 71.20,216.31 71.45,213.39 71.70,216.33 71.95,214.93 72.20,214.41 72.45,213.51 72.70,212.21 72.95,215.70 73.20,214.90 73.45,214.87 73.70,214.09 73.95,213.09 74.20,211.09 74.45,210.07 74.70,207.96 74.95,205.81 75.20,204.72 75.45,208.20 75.70,208.08 75.95,208.96 76.20,207.98 76.45,207.15 76.70,206.79 76.95,206.54 77.20,205.88 77.45,205.20 77.70,205.00 77.95,204.64 78.20,203.42 78.45,202.69 78.70,201.27 78.95,199.26 79.20,198.02 79.45,196.15 79.70,195.18 79.95,198.26 80.20,196.95 80.45,194.22 80.70,191.30 80.95,191.53 81.20,194.22 81.45,194.04 81.70,192.47 81.95,192.05 82.20,190.15 82.45,189.70 82.70,188.31 82.95,187.83 83.20,190.49 83.45,189.29 83.70,189.68 83.95,190.09 84.20,189.61 84.45,173.68 84.70,173.57 84.95,175.61 85.20,173.56 85.45,172.74 85.70,203.80 85.95,204.96 86.20,206.23 86.45,206.94 86.70,208.57 86.95,212.04 87.20,216.31 87.45,220.51 87.70,225.73 87.95,230.97 88.20,234.89 88.45,239.32 88.70,243.49 88.95,246.25 89.20,247.07 89.45,247.92 89.70,248.60 89.95,249.14 90.20,247.41 90.45,248.03 90.70,246.45 90.95,245.93 91.20,245.42 91.45,244.67 91.70,243.46 91.95,241.65 92.20,240.86 92.45,239.40 92.70,237.17 92.95,237.79 93.20,237.10 93.45,236.92 93.70,235.31 93.95,235.02 94.20,234.70 94.45,234.29 94.70,233.08 94.95,231.41 95.20,230.44 95.45,228.57 95.70,227.19 95.95,226.82 96.20,225.89 96.45,225.43 96.70,224.97 96.95,225.47 97.20,225.45 97.45,224.68 97.70,224.56 97.95,223.39 98.20,222.57 98.45,222.40 98.70,221.13 98.95,220.48 99.20,219.35 99.45,219.04 99.70,219.43 99.95,218.49 100.20,218.12 100.45,217.20 100.70,216.24 100.95,215.35 101.20,215.85 101.45,216.59 101.70,216.21 101.95,215.25 102.20,215.08 102.45,214.37 102.70,214.28 102.95,213.89 103.20,213.50 103.45,213.28 103.70,212.48 103.95,211.85 104.20,210.66 104.45,210.26 104.70,209.42 104.95,209.31 105.20,208.78 105.45,208.81 105.70,208.97 105.95,208.14 106.20,207.74 106.45,207.31 106.70,207.75 106.95,208.52 107.20,208.70 107.45,208.23 107.70,208.70 107.95,207.62 108.20,208.17 108.45,207.56 108.70,206.02 108.95,207.38 109.20,207.93 109.45,207.10 109.70,206.99 109.95,206.72 110.20,206.64 110.45,205.82 110.70,203.75 110.95,203.82 111.20,203.71 111.45,204.41 111.70,204.43 111.95,203.34 112.20,203.27 112.45,202.60 112.70,201.41 112.95,201.91 113.20,203.38 113.45,204.05 113.70,204.07 113.95,204.36 114.20,205.95 114.45,207.57 114.70,227.41 114.95,254.21 115.20,274.57 115.45,275.05 115.70,274.43 115.95,273.42 116.20,271.70 116.45,270.87 116.70,271.88 116.95,271.71 117.20,270.19 117.45,269.38 117.70,268.10 117.95,265.92 118.20,265.44 118.45,264.67 118.70,262.77 118.95,261.58 119.20,265.08 119.45,262.77 119.70,262.20 119.95,261.43 120.20,260.74 120.45,259.42 120.70,258.60 120.95,257.83 121.20,257.78 121.45,257.17 121.70,256.35 121.95,256.35 122.20,254.78 122.45,252.97 122.70,249.51 122.95,247.97 123.20,245.98 123.45,249.24 123.70,247.87 123.95,249.02 124.20,247.22 124.45,244.89 124.70,242.28 124.95,239.82 125.20,240.68 125.45,242.85 125.70,241.30 125.95,239.51 126.20,237.15 126.45,241.05 126.70,239.49 126.95,237.69 127.20,240.30 127.45,238.95 127.70,238.26 127.95,238.06 128.20,237.14 128.45,236.25 128.70,234.36 128.95,232.67 129.20,233.52 129.45,232.89 129.70,231.93 129.95,231.94 130.20,230.98 130.45,230.79 130.70,231.03 130.95,230.18 131.20,229.22 131.45,228.65 131.70,226.78 131.95,224.39 132.20,226.71 132.45,227.21 132.70,226.34 132.95,225.56 133.20,224.36 133.45,223.44 133.70,221.17 133.95,219.08 134.20,218.32 134.45,220.95 134.70,220.60 134.95,219.36 135.20,217.33 135.45,220.41 135.70,220.75 135.95,219.21 136.20,217.53 136.45,215.53 136.70,214.40 136.95,214.03 137.20,213.28 137.45,211.47 137.70,214.71 137.95,213.94 138.20,213.63 138.45,213.03 138.70,212.67 138.95,212.34 139.20,211.68 139.45,211.19 139.70,210.83 139.95,210.31 140.20,210.11 140.45,210.59 140.70,210.27 140.95,209.60 141.20,208.02 141.45,207.67 141.70,206.04 141.95,204.85 142.20,204.94 142.45,204.84 142.70,204.21 142.95,202.51 143.20,200.57 143.45,198.47 143.70,196.85 143.95,201.41 144.20,200.50 144.45,199.06 144.70,197.48 144.95,196.58 145.20,195.60 145.45,196.68 145.70,195.96 145.95,194.27 146.20,193.85 146.45,193.29 146.70,195.31 146.95,194.37 147.20,194.01 147.45,193.28 147.70,192.46 147.95,191.61 148.20,190.07 148.45,188.57 148.70,188.38 148.95,187.61 149.20,187.10 149.45,178.22 149.70,179.37 149.95,179.12 150.20,180.10 150.45,178.98 150.70,205.52 150.95,206.22 151.20,208.01 151.45,211.39 151.70,219.85 151.95,231.78 152.20,241.95 152.45,249.53 152.70,251.52 152.95,251.11 153.20,250.57 153.45,249.72 153.70,248.80 153.95,248.44 154.20,247.90 154.45,246.69 154.70,245.39 154.95,244.74 155.20,243.87 155.45,243.55 155.70,243.92 155.95,243.19 156.20,242.04 156.45,240.90 156.70,239.53 156.95,238.26 157.20,237.07 157.45,236.28 157.70,235.49 157.95,235.30 158.20,234.47 158.45,233.78 158.70,232.60 158.95,232.92 159.20,232.50 159.45,232.65 159.70,232.18 159.95,232.02 160.20,230.93 160.45,230.40 160.70,230.82 160.95,229.15 161.20,228.85 161.45,228.75 161.70,227.94 161.95,227.34 162.20,227.00 162.45,225.69 162.70,225.05 162.95,223.80 163.20,222.79 163.45,221.91 163.70,221.33 163.95,220.91 164.20,220.62 164.45,219.38 164.70,219.95 164.95,219.91 165.20,219.57 165.45,218.68 165.70,218.00 165.95,217.69 166.20,217.28 166.45,215.83 166.70,215.79 166.95,216.74 167.20,215.07 167.45,215.06 167.70,214.66 167.95,214.03 168.20,214.18 168.45,212.97 168.70,212.60 168.95,212.87 169.20,212.20 169.45,211.49 169.70,211.13 169.95,210.49 170.20,210.91 170.45,209.98 170.70,210.05 170.95,209.01 171.20,209.07 171.45,208.69 171.70,207.11 171.95,207.07 172.20,206.48 172.45,206.27 172.70,207.03 172.95,206.30 173.20,205.70 173.45,206.43 173.70,206.32 173.95,206.91 174.20,206.74 174.45,205.99 174.70,205.77 174.95,206.20 175.20,206.38 175.45,206.03 175.70,205.76 175.95,205.44 176.20,204.94 176.45,205.75 176.70,205.44 176.95,204.63 177.20,204.29 177.45,204.63 177.70,204.89 177.95,204.76 178.20,204.52 178.45,204.90 178.70,198.54 178.95,210.57 179.20,242.19 179.45,272.60 179.70,273.48 179.95,273.83 180.20,273.42 180.45,272.78 180.70,272.26 180.95,270.82 181.20,270.02 181.45,268.32 181.70,266.79 181.95,264.97 182.20,262.08 182.45,262.36 182.70,263.91 182.95,261.77 183.20,264.21 183.45,263.15 183.70,261.36 183.95,263.79 184.20,262.63 184.45,261.93 184.70,261.41 184.95,259.94 185.20,259.75 185.45,259.52 185.70,259.08 185.95,258.48 186.20,257.90 186.45,257.01 186.70,256.54 186.95,255.90 187.20,255.62 187.45,254.61 187.70,254.44 187.95,254.16 188.20,253.69 188.45,253.07 188.70,252.99 188.95,251.69 189.20,251.65 189.45,251.48 189.70,251.09 189.95,250.63 190.20,249.58 190.45,248.47 190.70,247.36 190.95,246.09 191.20,244.66 191.45,241.69 191.70,239.28 191.95,236.86 192.20,234.26 192.45,241.29 192.70,242.82 192.95,242.63 193.20,241.79 193.45,239.72 193.70,239.39 193.95,238.02 194.20,236.87 194.45,235.95 194.70,235.88 194.95,234.81 195.20,234.09 195.45,234.11 195.70,233.89 195.95,232.66 196.20,233.45 196.45,231.42 196.70,229.81 196.95,228.84 197.20,227.82 197.45,226.61 197.70,230.11 197.95,228.98 198.20,228.31 198.45,228.06 198.70,227.68 198.95,227.52 199.20,226.95 199.45,225.51 199.70,224.45 199.95,222.32 200.20,219.74 200.45,218.47 200.70,216.81 200.95,221.55 201.20,220.08 201.45,218.95 201.70,216.92 201.95,214.77 202.20,215.36 202.45,213.60 202.70,211.60 202.95,209.21 203.20,206.25 203.45,209.50 203.70,214.64 203.95,212.34 204.20,211.65 204.45,211.29 204.70,210.47 204.95,209.60 205.20,210.93 205.45,209.49 205.70,208.04 205.95,206.76 206.20,209.53 206.45,207.36 206.70,205.72 206.95,210.82 207.20,209.91 207.45,209.09 207.70,208.13 207.95,207.62 208.20,206.30 208.45,205.81 208.70,203.93 208.95,205.16 209.20,204.29 209.45,203.98 209.70,203.76 209.95,202.12 210.20,200.94 210.45,200.50 210.70,199.51 210.95,198.10 211.20,198.16 211.45,197.83 211.70,196.78 211.95,194.73 212.20,193.52 212.45,191.57 212.70,195.53 212.95,194.31 213.20,193.24 213.45,192.80 213.70,191.88 213.95,191.76 214.20,191.37 214.45,190.25 214.70,189.42 214.95,188.39 215.20,188.09 215.45,169.18 215.70,169.56 215.95,171.72 216.20,170.41 216.45,171.29 216.70,203.51 216.95,204.74 217.20,205.68 217.45,207.78 217.70,209.12 217.95,210.21 218.20,212.31 218.45,214.63 218.70,216.61 218.95,219.38 219.20,222.15 219.45,224.09 219.70,227.05 219.95,229.79 220.20,232.22 220.45,233.75 220.70,239.50 220.95,239.47 221.20,238.82 221.45,239.81 221.70,239.35 221.95,239.50 222.20,239.41 222.45,239.76 222.70,239.15 222.95,239.27 223.20,238.55 223.45,238.77 223.70,238.05 223.95,237.65 224.20,238.27 224.45,237.96 224.70,237.59 224.95,238.18 225.20,237.72 225.45,236.82 225.70,236.79 225.95,235.88 226.20,236.17 226.45,236.34 226.70,235.63 226.95,235.04 227.20,234.90 227.45,234.67 227.70,233.89 227.95,233.70 228.20,232.28 228.45,231.81 228.70,231.33 228.95,230.89 229.20,230.66 229.45,229.68 229.70,229.60 229.95,229.06 230.20,228.31 230.45,227.31 230.70,226.52 230.95,226.47 231.20,225.70 231.45,225.44 231.70,225.52 231.95,225.39 232.20,225.37 232.45,224.39 232.70,223.20 232.95,223.11 233.20,222.57 233.45,222.38 233.70,221.64 233.95,221.48 234.20,221.06 234.45,220.57 234.70,219.97 234.95,219.36 235.20,218.71 235.45,218.10 235.70,217.84 235.95,216.87 236.20,217.00 236.45,216.15 236.70,215.87 236.95,215.06 237.20,214.27 237.45,214.54 237.70,213.58 237.95,212.34 238.20,211.56 238.45,211.03 238.70,211.56 238.95,210.95 239.20,210.68 239.45,210.02 239.70,208.40 239.95,208.38 240.20,208.35 240.45,208.81 240.70,209.38 240.95,209.02 241.20,209.30 241.45,210.30 241.70,210.79 241.95,211.24 242.20,229.89 242.45,253.69 242.70,272.71 242.95,272.14 243.20,271.80 243.45,269.37 243.70,267.75 243.95,266.24 244.20,265.39 244.45,269.32 244.70,269.30 244.95,267.61 245.20,267.29 245.45,266.06 245.70,264.23 245.95,263.09 246.20,261.13 246.45,258.64 246.70,257.05 246.95,259.43 247.20,258.37 247.45,257.76 247.70,256.82 247.95,256.49 248.20,255.06 248.45,252.95 248.70,253.84 248.95,252.50 249.20,251.05 249.45,253.25 249.70,252.42 249.95,250.90 250.20,250.92 250.45,250.40 250.70,248.78 250.95,246.63 251.20,244.73 251.45,242.45 251.70,246.43 251.95,248.23 252.20,247.67 252.45,247.10 252.70,245.53 252.95,244.77 253.20,242.82 253.45,240.95 253.70,238.23 253.95,242.38 254.20,241.73 254.45,240.40 254.70,238.90 254.95,238.29 255.20,237.77 255.45,236.90 255.70,236.49 255.95,235.66 256.20,235.49 256.45,234.58 256.70,234.08 256.95,234.09 257.20,234.85 257.45,233.52 257.70,232.58 257.95,231.50 258.20,231.34 258.45,230.10 258.70,229.31 258.95,228.78 259.20,227.17 259.45,225.55 259.70,224.25 259.95,222.10 260.20,220.43 260.45,219.37 260.70,218.58 260.95,216.62 261.20,219.56 261.45,217.81 261.70,216.24 261.95,219.61 262.20,218.45 262.45,216.86 262.70,216.11 262.95,214.66 263.20,218.23 263.45,217.49 263.70,217.97 263.95,217.65 264.20,216.93 264.45,214.73 264.70,213.32 264.95,211.04 265.20,215.50 265.45,216.32 265.70,216.04 265.95,215.06 266.20,214.38 266.45,213.95 266.70,213.99 266.95,213.06 267.20,211.54 267.45,210.94 267.70,210.47 267.95,210.02 268.20,210.18 268.45,209.70 268.70,209.45 268.95,208.14 269.20,207.97 269.45,208.38 269.70,207.93 269.95,207.18 270.20,206.16 270.45,205.51 270.70,203.32 270.95,201.68 271.20,200.38 271.45,199.21 271.70,197.39 271.95,201.50 272.20,200.58 272.45,199.91 272.70,199.12 272.95,197.82 273.20,197.23 273.45,197.06 273.70,195.59 273.95,194.59 274.20,194.09 274.45,192.00 274.70,188.54 274.95,184.42 275.20,183.90 275.45,188.92 275.70,188.34 275.95,180.74 276.20,179.45 276.45,180.68 276.70,178.43 276.95,178.17 277.20,207.26 277.45,208.07 277.70,209.26 277.95,211.25 278.20,216.81 278.45,224.31 278.70,234.63 278.95,243.89 279.20,252.17 279.45,257.43 279.70,258.51 279.95,258.11 280.20,257.43 280.45,257.00 280.70,256.67 280.95,256.14 281.20,254.76 281.45,253.53 281.70,252.28 281.95,251.73 282.20,249.91 282.45,249.83 282.70,248.75 282.95,247.57 283.20,246.99 283.45,246.69 283.70,245.96 283.95,245.55 284.20,244.63 284.45,244.27 284.70,243.84 284.95,242.71 285.20,242.39 285.45,241.39 285.70,240.40 285.95,238.99 286.20,238.02 286.45,237.63 286.70,236.17 286.95,235.81 287.20,235.24 287.45,234.62 287.70,232.79 287.95,232.21 288.20,231.98 288.45,230.98 288.70,230.47 288.95,228.75 289.20,228.71 289.45,227.91 289.70,227.88 289.95,226.44 290.20,226.38 290.45,225.77 290.70,225.66 290.95,224.62 291.20,223.83 291.45,224.46 291.70,223.37 291.95,222.45 292.20,221.81 292.45,220.83 292.70,221.01 292.95,221.30 293.20,220.27 293.45,218.85 293.70,219.01 293.95,219.01 294.20,218.78 294.45,218.66 294.70,217.50 294.95,216.82 295.20,215.60 295.45,214.53 295.70,214.73 295.95,214.02 296.20,214.79 296.45,214.27 296.70,213.43 296.95,213.38 297.20,213.74 297.45,213.33 297.70,212.12 297.95,211.84 298.20,212.04 298.45,211.24 298.70,210.40 298.95,210.53 299.20,210.16 299.45,209.22 299.70,208.75 299.95,208.15 300.20,208.13 300.45,207.97 300.70,208.30 300.95,208.32 301.20,207.20 301.45,207.21 301.70,207.42 301.95,207.34 302.20,207.52 302.45,206.88 302.70,206.14 302.95,206.43 303.20,205.67 303.45,204.52 303.70,205.10 303.95,204.70 304.20,204.57 304.45,203.91 304.70,203.41 304.95,203.08 305.20,203.20 305.45,203.64 305.70,202.73 305.95,203.49 306.20,203.21 306.45,203.11 306.70,197.71 306.95,200.14 307.20,199.97 307.45,198.72 307.70,202.75 307.95,203.54 308.20,204.97 308.45,220.42 308.70,248.17 308.95,272.25" fill="none" stroke="#f0aa72" stroke-width="1.0" stroke-linejoin="round" opacity="1.0"/>
<rect x="39.0" y="166.2" width="48.7" height="20.3" rx="0.8" fill="#fff" fill-opacity="0.82" stroke="#b9b9b9" stroke-width="0.75"/>
<line x1="40.8" y1="172.09" x2="53.2" y2="172.09" stroke="#98b9e2" stroke-width="1.5"/>
<line x1="40.8" y1="181.22" x2="53.2" y2="181.22" stroke="#f3b485" stroke-width="1.5"/>
<text x="56.00" y="174.29" font-size="5.4" font-weight="400" fill="#222" text-anchor="start" >Ground Truth</text>
<text x="56.00" y="183.12" font-size="5.4" font-weight="400" fill="#222" text-anchor="start" >Predictions</text>
<text x="33.30" y="180.15" font-size="8.2" font-weight="400" fill="#262626" text-anchor="end" >5.15</text>
<text x="33.30" y="196.25" font-size="8.2" font-weight="400" fill="#262626" text-anchor="end" >5.10</text>
<text x="33.30" y="212.05" font-size="8.2" font-weight="400" fill="#262626" text-anchor="end" >5.05</text>
<text x="33.30" y="227.95" font-size="8.2" font-weight="400" fill="#262626" text-anchor="end" >5.00</text>
<text x="33.30" y="244.15" font-size="8.2" font-weight="400" fill="#262626" text-anchor="end" >4.95</text>
<text x="33.30" y="260.35" font-size="8.2" font-weight="400" fill="#262626" text-anchor="end" >4.90</text>
<text x="33.30" y="276.35" font-size="8.2" font-weight="400" fill="#262626" text-anchor="end" >4.85</text>
<text x="49.60" y="298.10" font-size="8.2" font-weight="400" fill="#262626" text-anchor="middle" >0</text>
<text x="86.40" y="298.10" font-size="8.2" font-weight="400" fill="#262626" text-anchor="middle" >7</text>
<text x="122.60" y="298.10" font-size="8.2" font-weight="400" fill="#262626" text-anchor="middle" >13</text>
<text x="158.80" y="298.10" font-size="8.2" font-weight="400" fill="#262626" text-anchor="middle" >20</text>
<text x="195.90" y="298.10" font-size="8.2" font-weight="400" fill="#262626" text-anchor="middle" >27</text>
<text x="231.70" y="298.10" font-size="8.2" font-weight="400" fill="#262626" text-anchor="middle" >33</text>
<text x="268.30" y="298.10" font-size="8.2" font-weight="400" fill="#262626" text-anchor="middle" >40</text>
<text x="304.30" y="298.10" font-size="8.2" font-weight="400" fill="#262626" text-anchor="middle" >47</text>
<line x1="49.6" y1="287.2" x2="49.6" y2="288.6" stroke="#999" stroke-width="0.6"/>
<line x1="86.4" y1="287.2" x2="86.4" y2="288.6" stroke="#999" stroke-width="0.6"/>
<line x1="122.6" y1="287.2" x2="122.6" y2="288.6" stroke="#999" stroke-width="0.6"/>
<line x1="158.8" y1="287.2" x2="158.8" y2="288.6" stroke="#999" stroke-width="0.6"/>
<line x1="195.9" y1="287.2" x2="195.9" y2="288.6" stroke="#999" stroke-width="0.6"/>
<line x1="231.7" y1="287.2" x2="231.7" y2="288.6" stroke="#999" stroke-width="0.6"/>
<line x1="268.3" y1="287.2" x2="268.3" y2="288.6" stroke="#999" stroke-width="0.6"/>
<line x1="304.3" y1="287.2" x2="304.3" y2="288.6" stroke="#999" stroke-width="0.6"/>
<line x1="36" y1="177.2" x2="37.4" y2="177.2" stroke="#999" stroke-width="0.6"/>
<line x1="36" y1="193.3" x2="37.4" y2="193.3" stroke="#999" stroke-width="0.6"/>
<line x1="36" y1="209.1" x2="37.4" y2="209.1" stroke="#999" stroke-width="0.6"/>
<line x1="36" y1="225.0" x2="37.4" y2="225.0" stroke="#999" stroke-width="0.6"/>
<line x1="36" y1="241.2" x2="37.4" y2="241.2" stroke="#999" stroke-width="0.6"/>
<line x1="36" y1="257.4" x2="37.4" y2="257.4" stroke="#999" stroke-width="0.6"/>
<line x1="36" y1="273.4" x2="37.4" y2="273.4" stroke="#999" stroke-width="0.6"/>
<text x="176.70" y="311.60" font-size="10.5" font-weight="400" fill="#1a1a1a" text-anchor="middle" >Time/s</text>
<text x="0" y="0" font-size="10.6" fill="#1a1a1a" text-anchor="middle" transform="translate(8.20,226.80) rotate(-90)" font-family="Liberation Sans, sans-serif">Shear Stress/MPa</text>
<rect x="378.9" y="165.0" width="284.70000000000005" height="124.0" fill="none" stroke="#a3a3a3" stroke-width="1"/>
<polyline points="392.60,265.70 392.96,263.31 393.31,260.92 393.67,258.53 394.03,256.15 394.38,253.77 394.74,251.39 395.09,249.03 395.45,246.67 395.81,244.32 396.16,241.99 396.52,239.66 396.88,237.35 397.23,235.06 397.59,232.77 397.94,230.51 398.30,228.26 398.66,226.03 399.01,223.82 399.37,221.63 399.73,219.45 400.08,217.30 400.44,215.18 400.79,213.07 401.15,210.99 401.51,208.93 401.86,206.89 402.22,204.88 402.57,202.89 402.93,200.93 403.29,199.00 403.64,197.09 404.00,195.20 404.00,196.20 404.30,270.70 404.50,270.70 404.85,268.42 405.21,266.14 405.56,263.87 405.91,261.59 406.26,259.32 406.62,257.06 406.97,254.80 407.32,252.55 407.68,250.31 408.03,248.08 408.38,245.85 408.74,243.64 409.09,241.44 409.44,239.26 409.79,237.08 410.15,234.92 410.50,232.78 410.85,230.66 411.21,228.55 411.56,226.45 411.91,224.38 412.26,222.32 412.62,220.29 412.97,218.27 413.32,216.28 413.68,214.30 414.03,212.35 414.38,210.42 414.74,208.51 415.09,206.62 415.44,204.76 415.79,202.92 416.15,201.10 416.50,199.30 416.50,200.30 416.80,272.40 417.00,272.40 417.36,270.39 417.71,268.38 418.07,266.38 418.43,264.38 418.79,262.40 419.14,260.42 419.50,258.46 419.86,256.52 420.21,254.59 420.57,252.69 420.93,250.80 421.29,248.94 421.64,247.11 422.00,245.30 422.36,243.52 422.71,241.78 423.07,240.06 423.43,238.37 423.79,236.71 424.14,235.09 424.50,233.50 424.50,234.50 424.80,265.60 425.00,265.60 425.35,263.31 425.71,261.01 426.06,258.72 426.41,256.44 426.77,254.16 427.12,251.88 427.47,249.62 427.83,247.36 428.18,245.12 428.53,242.88 428.89,240.66 429.24,238.45 429.59,236.26 429.95,234.09 430.30,231.93 430.65,229.79 431.01,227.67 431.36,225.57 431.71,223.49 432.07,221.44 432.42,219.40 432.77,217.39 433.13,215.41 433.48,213.44 433.83,211.51 434.19,209.59 434.54,207.71 434.89,205.84 435.25,204.01 435.60,202.20 435.60,203.20 435.90,277.80 436.10,277.80 436.45,275.33 436.80,272.87 437.15,270.41 437.49,267.95 437.84,265.49 438.19,263.04 438.54,260.60 438.89,258.16 439.24,255.74 439.59,253.32 439.93,250.91 440.28,248.52 440.63,246.13 440.98,243.76 441.33,241.40 441.68,239.06 442.03,236.74 442.37,234.43 442.72,232.14 443.07,229.86 443.42,227.61 443.77,225.37 444.12,223.16 444.47,220.96 444.81,218.79 445.16,216.64 445.51,214.51 445.86,212.40 446.21,210.31 446.56,208.25 446.91,206.21 447.25,204.20 447.60,202.21 447.95,200.24 448.30,198.30 448.30,199.30 448.60,280.50 448.80,280.50 449.15,278.01 449.50,275.53 449.85,273.04 450.19,270.56 450.54,268.08 450.89,265.61 451.24,263.15 451.59,260.69 451.94,258.24 452.29,255.80 452.63,253.37 452.98,250.96 453.33,248.55 453.68,246.16 454.03,243.78 454.38,241.42 454.73,239.08 455.07,236.75 455.42,234.43 455.77,232.14 456.12,229.87 456.47,227.61 456.82,225.38 457.17,223.16 457.51,220.97 457.86,218.80 458.21,216.65 458.56,214.52 458.91,212.42 459.26,210.34 459.61,208.28 459.95,206.25 460.30,204.24 460.65,202.26 461.00,200.30 461.00,201.30 461.30,279.80 461.50,279.80 461.85,277.36 462.20,274.91 462.55,272.47 462.89,270.03 463.24,267.60 463.59,265.17 463.94,262.75 464.29,260.34 464.64,257.93 464.99,255.53 465.33,253.15 465.68,250.77 466.03,248.41 466.38,246.06 466.73,243.72 467.08,241.40 467.43,239.10 467.77,236.81 468.12,234.54 468.47,232.28 468.82,230.05 469.17,227.83 469.52,225.64 469.87,223.46 470.21,221.31 470.56,219.17 470.91,217.06 471.26,214.97 471.61,212.91 471.96,210.86 472.31,208.84 472.65,206.85 473.00,204.88 473.35,202.93 473.70,201.00 473.70,202.00 474.00,281.00 474.20,281.00 474.55,278.41 474.91,275.83 475.26,273.25 475.61,270.67 475.96,268.09 476.32,265.52 476.67,262.96 477.02,260.41 477.38,257.87 477.73,255.33 478.08,252.81 478.44,250.30 478.79,247.81 479.14,245.33 479.49,242.86 479.85,240.41 480.20,237.98 480.55,235.57 480.91,233.18 481.26,230.80 481.61,228.45 481.96,226.12 482.32,223.81 482.67,221.52 483.02,219.26 483.38,217.02 483.73,214.80 484.08,212.61 484.44,210.45 484.79,208.31 485.14,206.19 485.49,204.10 485.85,202.04 486.20,200.00 486.20,201.00 486.50,281.50 486.70,281.50 487.05,278.85 487.40,276.21 487.75,273.56 488.11,270.92 488.46,268.29 488.81,265.66 489.16,263.04 489.51,260.42 489.86,257.82 490.22,255.23 490.57,252.65 490.92,250.09 491.27,247.54 491.62,245.01 491.97,242.49 492.32,239.99 492.68,237.51 493.03,235.05 493.38,232.61 493.73,230.19 494.08,227.80 494.43,225.43 494.78,223.08 495.14,220.75 495.49,218.45 495.84,216.18 496.19,213.93 496.54,211.71 496.89,209.51 497.25,207.34 497.60,205.20 497.95,203.09 498.30,201.00 498.30,202.00 498.60,280.00 498.80,280.00 499.15,277.59 499.50,275.18 499.85,272.77 500.20,270.36 500.55,267.96 500.90,265.56 501.25,263.17 501.60,260.78 501.95,258.41 502.30,256.04 502.65,253.68 503.00,251.33 503.35,249.00 503.70,246.67 504.05,244.36 504.40,242.06 504.75,239.78 505.10,237.51 505.45,235.26 505.80,233.03 506.15,230.81 506.50,228.61 506.85,226.43 507.20,224.27 507.55,222.13 507.90,220.01 508.25,217.91 508.60,215.83 508.95,213.78 509.30,211.74 509.65,209.73 510.00,207.74 510.35,205.77 510.70,203.82 511.05,201.90 511.40,200.00 511.40,201.00 511.70,279.00 511.90,279.00 512.25,276.52 512.60,274.04 512.95,271.56 513.29,269.09 513.64,266.62 513.99,264.15 514.34,261.69 514.69,259.24 515.04,256.80 515.39,254.36 515.73,251.94 516.08,249.53 516.43,247.13 516.78,244.75 517.13,242.38 517.48,240.02 517.83,237.68 518.17,235.36 518.52,233.05 518.87,230.76 519.22,228.49 519.57,226.24 519.92,224.01 520.27,221.80 520.61,219.62 520.96,217.45 521.31,215.31 521.66,213.19 522.01,211.09 522.36,209.02 522.71,206.96 523.05,204.94 523.40,202.93 523.75,200.95 524.10,199.00 524.10,200.00 524.40,281.00 524.60,281.00 524.95,278.41 525.31,275.83 525.66,273.25 526.01,270.67 526.36,268.09 526.72,265.52 527.07,262.96 527.42,260.41 527.78,257.87 528.13,255.33 528.48,252.81 528.84,250.30 529.19,247.81 529.54,245.33 529.89,242.86 530.25,240.41 530.60,237.98 530.95,235.57 531.31,233.18 531.66,230.80 532.01,228.45 532.36,226.12 532.72,223.81 533.07,221.52 533.42,219.26 533.78,217.02 534.13,214.80 534.48,212.61 534.84,210.45 535.19,208.31 535.54,206.19 535.89,204.10 536.25,202.04 536.60,200.00 536.60,201.00 536.90,282.00 537.10,282.00 537.45,279.41 537.81,276.83 538.16,274.25 538.51,271.67 538.86,269.09 539.22,266.52 539.57,263.96 539.92,261.41 540.28,258.87 540.63,256.33 540.98,253.81 541.34,251.30 541.69,248.81 542.04,246.33 542.39,243.86 542.75,241.41 543.10,238.98 543.45,236.57 543.81,234.18 544.16,231.80 544.51,229.45 544.86,227.12 545.22,224.81 545.57,222.52 545.92,220.26 546.28,218.02 546.63,215.80 546.98,213.61 547.34,211.45 547.69,209.31 548.04,207.19 548.39,205.10 548.75,203.04 549.10,201.00 549.10,202.00 549.40,279.00 549.60,279.00 549.95,276.54 550.31,274.08 550.66,271.63 551.01,269.18 551.36,266.73 551.72,264.29 552.07,261.85 552.42,259.43 552.78,257.01 553.13,254.60 553.48,252.20 553.84,249.82 554.19,247.45 554.54,245.09 554.89,242.75 555.25,240.42 555.60,238.11 555.95,235.81 556.31,233.54 556.66,231.28 557.01,229.05 557.36,226.83 557.72,224.63 558.07,222.46 558.42,220.31 558.78,218.18 559.13,216.07 559.48,213.99 559.84,211.93 560.19,209.90 560.54,207.89 560.89,205.90 561.25,203.94 561.60,202.00 561.60,203.00 561.90,281.90 562.10,281.90 562.45,279.36 562.81,276.82 563.16,274.28 563.52,271.75 563.87,269.22 564.23,266.70 564.58,264.18 564.93,261.67 565.29,259.17 565.64,256.68 566.00,254.20 566.35,251.73 566.71,249.28 567.06,246.83 567.41,244.41 567.77,241.99 568.12,239.60 568.48,237.22 568.83,234.86 569.19,232.52 569.54,230.19 569.89,227.89 570.25,225.61 570.60,223.35 570.96,221.11 571.31,218.89 571.67,216.70 572.02,214.52 572.37,212.38 572.73,210.25 573.08,208.15 573.44,206.08 573.79,204.03 574.15,202.00 574.50,200.00 574.50,201.00 574.80,277.00 575.00,277.00 575.35,274.58 575.70,272.16 576.05,269.75 576.39,267.33 576.74,264.93 577.09,262.52 577.44,260.12 577.79,257.73 578.14,255.35 578.49,252.98 578.83,250.62 579.18,248.27 579.53,245.93 579.88,243.60 580.23,241.29 580.58,238.99 580.93,236.71 581.27,234.45 581.62,232.20 581.97,229.97 582.32,227.75 582.67,225.56 583.02,223.39 583.37,221.23 583.71,219.10 584.06,216.99 584.41,214.90 584.76,212.83 585.11,210.79 585.46,208.76 585.81,206.77 586.15,204.79 586.50,202.84 586.85,200.91 587.20,199.00 587.20,200.00 587.50,277.00 587.70,277.00 588.05,274.54 588.41,272.08 588.76,269.63 589.11,267.18 589.46,264.73 589.82,262.29 590.17,259.85 590.52,257.43 590.88,255.01 591.23,252.60 591.58,250.20 591.94,247.82 592.29,245.45 592.64,243.09 592.99,240.75 593.35,238.42 593.70,236.11 594.05,233.81 594.41,231.54 594.76,229.28 595.11,227.05 595.46,224.83 595.82,222.63 596.17,220.46 596.52,218.31 596.88,216.18 597.23,214.07 597.58,211.99 597.94,209.93 598.29,207.90 598.64,205.89 598.99,203.90 599.35,201.94 599.70,200.00 599.70,201.00 600.00,276.50 600.20,276.50 600.55,274.10 600.90,271.69 601.25,269.29 601.59,266.90 601.94,264.50 602.29,262.11 602.64,259.73 602.99,257.36 603.34,254.99 603.69,252.63 604.03,250.29 604.38,247.95 604.73,245.63 605.08,243.32 605.43,241.02 605.78,238.74 606.13,236.47 606.47,234.22 606.82,231.98 607.17,229.77 607.52,227.57 607.87,225.39 608.22,223.23 608.57,221.09 608.91,218.97 609.26,216.87 609.61,214.80 609.96,212.74 610.31,210.71 610.66,208.70 611.01,206.72 611.35,204.75 611.70,202.81 612.05,200.89 612.40,199.00 612.40,200.00 612.70,276.00 612.90,276.00 613.25,273.57 613.61,271.15 613.96,268.73 614.31,266.31 614.66,263.89 615.02,261.48 615.37,259.08 615.72,256.68 616.08,254.30 616.43,251.92 616.78,249.55 617.14,247.20 617.49,244.86 617.84,242.53 618.19,240.22 618.55,237.92 618.90,235.64 619.25,233.38 619.61,231.13 619.96,228.90 620.31,226.70 620.66,224.51 621.02,222.34 621.37,220.20 621.72,218.07 622.08,215.97 622.43,213.89 622.78,211.84 623.14,209.80 623.49,207.79 623.84,205.81 624.19,203.85 624.55,201.91 624.90,200.00 624.90,201.00 625.20,276.80 625.40,276.80 625.75,274.39 626.10,271.98 626.45,269.57 626.79,267.16 627.14,264.76 627.49,262.36 627.84,259.97 628.19,257.58 628.54,255.21 628.89,252.84 629.23,250.49 629.58,248.14 629.93,245.81 630.28,243.49 630.63,241.18 630.98,238.89 631.33,236.62 631.67,234.36 632.02,232.11 632.37,229.89 632.72,227.68 633.07,225.49 633.42,223.33 633.77,221.18 634.11,219.05 634.46,216.94 634.81,214.86 635.16,212.80 635.51,210.76 635.86,208.74 636.21,206.75 636.55,204.77 636.90,202.83 637.25,200.90 637.60,199.00 637.60,200.00 637.90,275.50 638.10,275.50 638.45,273.16 638.79,270.83 639.14,268.49 639.49,266.16 639.84,263.83 640.18,261.51 640.53,259.20 640.88,256.89 641.23,254.58 641.57,252.29 641.92,250.00 642.27,247.73 642.61,245.47 642.96,243.21 643.31,240.98 643.66,238.75 644.00,236.54 644.35,234.34 644.70,232.16 645.04,230.00 645.39,227.85 645.74,225.72 646.09,223.61 646.43,221.52 646.78,219.44 647.13,217.39 647.48,215.35 647.82,213.34 648.17,211.35 648.52,209.38 648.86,207.42 649.21,205.50 649.56,203.59 649.91,201.70 650.25,199.84 650.60,198.00 650.60,199.00 650.90,274.80" fill="none" stroke="#7ab2dc" stroke-width="0.9" stroke-linejoin="round" opacity="1.0"/>
<polyline points="392.30,276.80 392.65,272.64 393.01,269.54 393.36,267.59 393.71,262.86 394.07,260.11 394.42,257.05 394.77,252.83 395.12,250.16 395.48,247.25 395.83,242.46 396.18,241.34 396.54,239.58 396.89,236.55 397.24,232.86 397.60,232.34 397.95,229.86 398.30,228.11 398.66,221.60 399.01,222.45 399.36,219.73 399.72,216.49 400.07,216.79 400.42,212.89 400.77,205.73 401.13,211.78 401.48,206.31 401.83,198.90 402.19,200.76 402.54,198.81 402.89,193.20 403.25,192.55 403.60,193.76 403.70,188.20 403.90,190.20 404.05,273.20 404.20,273.20 404.55,269.98 404.90,265.63 405.25,264.71 405.60,261.09 405.95,258.19 406.30,256.41 406.65,254.70 407.00,250.46 407.35,247.72 407.70,244.14 408.05,242.56 408.40,240.49 408.75,238.12 409.10,235.49 409.45,233.34 409.80,230.83 410.15,229.70 410.50,229.12 410.85,222.09 411.20,224.65 411.55,218.98 411.90,214.18 412.25,218.70 412.60,216.69 412.95,206.69 413.30,209.23 413.65,208.19 414.00,202.24 414.35,203.03 414.70,203.13 415.05,193.72 415.40,197.04 415.75,198.69 416.10,190.17 416.20,192.30 416.40,184.20 416.55,274.90 416.70,274.90 417.05,270.12 417.40,267.29 417.76,263.63 418.11,260.94 418.46,257.64 418.81,257.31 419.17,255.26 419.52,251.58 419.87,249.68 420.22,248.50 420.58,246.85 420.93,241.46 421.28,245.28 421.63,239.92 421.99,234.29 422.34,235.93 422.69,235.96 423.04,229.86 423.40,233.81 423.75,233.85 424.10,223.66 424.20,226.50 424.40,222.10 424.55,268.10 424.80,277.96 425.12,272.94 425.43,268.20 425.75,264.67 426.06,258.21 426.38,255.77 426.69,247.70 427.01,243.85 427.32,237.81 427.64,234.36 427.95,230.70 428.27,227.13 428.58,219.90 428.90,216.01 429.10,210.60 429.40,248.00 429.50,246.28 429.82,243.23 430.15,240.03 430.47,240.24 430.79,234.36 431.12,235.75 431.44,233.28 431.76,229.63 432.09,226.63 432.41,223.58 432.74,227.80 433.06,219.08 433.38,222.59 433.71,218.38 434.03,214.15 434.35,210.27 434.68,212.38 435.00,211.46 435.30,195.20 435.50,205.00 435.65,280.30 435.80,280.30 436.15,272.87 436.49,269.54 436.84,265.72 437.18,263.87 437.53,259.18 437.87,256.34 438.22,251.86 438.57,251.37 438.91,247.37 439.26,242.58 439.60,240.77 439.95,238.74 440.29,238.60 440.64,235.47 440.99,233.04 441.33,231.30 441.68,230.38 442.02,227.42 442.37,225.89 442.71,218.83 443.06,221.12 443.41,216.25 443.75,213.64 444.10,213.79 444.44,212.47 444.79,207.31 445.13,210.22 445.48,203.78 445.83,201.64 446.17,200.58 446.52,202.49 446.86,199.47 447.21,197.83 447.55,196.92 447.90,191.34 448.00,191.30 448.20,182.10 448.35,281.50 448.50,281.50 448.85,275.05 449.19,271.62 449.54,266.26 449.88,264.35 450.23,259.70 450.57,256.98 450.92,255.16 451.27,252.63 451.61,248.54 451.96,245.36 452.30,242.75 452.65,240.66 452.99,239.67 453.34,235.85 453.69,234.40 454.03,232.81 454.38,230.99 454.72,228.98 455.07,227.99 455.41,221.24 455.76,222.69 456.11,220.41 456.45,215.01 456.80,215.06 457.14,215.30 457.49,208.46 457.83,208.31 458.18,207.28 458.53,199.11 458.87,203.47 459.22,204.31 459.56,197.85 459.91,197.52 460.25,195.90 460.60,190.63 460.70,193.30 460.90,182.10 461.05,281.50 461.20,281.50 461.55,275.18 461.89,269.79 462.24,266.23 462.58,262.31 462.93,259.54 463.27,258.07 463.62,254.15 463.97,251.12 464.31,247.89 464.66,246.61 465.00,243.09 465.35,239.97 465.69,236.97 466.04,234.28 466.39,233.62 466.73,234.40 467.08,230.63 467.42,229.42 467.77,227.23 468.11,223.24 468.46,223.27 468.81,221.38 469.15,211.39 469.50,217.68 469.84,212.43 470.19,207.71 470.53,212.63 470.88,207.55 471.23,203.09 471.57,203.54 471.92,204.25 472.26,199.04 472.61,200.48 472.95,196.34 473.30,196.48 473.40,194.00 473.60,175.10 473.75,281.50 473.90,281.50 474.25,273.25 474.60,268.35 474.95,266.19 475.30,264.60 475.65,260.80 476.00,256.41 476.35,252.99 476.70,251.33 477.05,247.43 477.40,246.39 477.75,244.77 478.10,241.57 478.45,239.29 478.80,237.12 479.15,235.71 479.50,231.50 479.85,230.27 480.20,227.20 480.55,219.68 480.90,220.76 481.25,220.75 481.60,212.93 481.95,215.78 482.30,212.26 482.65,208.16 483.00,212.75 483.35,210.26 483.70,204.07 484.05,205.23 484.40,204.72 484.75,198.85 485.10,200.76 485.45,193.84 485.80,190.67 485.90,193.00 486.10,192.30 486.25,281.50 486.40,281.50 486.75,274.36 487.10,269.29 487.45,265.03 487.79,262.55 488.14,259.32 488.49,254.98 488.84,253.70 489.19,251.57 489.54,247.76 489.88,245.84 490.23,242.22 490.58,240.89 490.93,237.87 491.28,234.60 491.63,232.16 491.98,229.45 492.32,227.88 492.67,226.09 493.02,220.02 493.37,222.86 493.72,215.69 494.07,211.77 494.42,212.46 494.76,212.92 495.11,209.26 495.46,210.67 495.81,206.88 496.16,200.73 496.51,206.50 496.85,201.33 497.20,195.20 497.55,199.52 497.90,198.89 498.00,194.00 498.20,177.10 498.35,281.50 498.50,281.50 498.85,274.16 499.19,272.22 499.54,268.08 499.89,264.62 500.24,260.75 500.58,256.18 500.93,252.49 501.28,250.96 501.62,249.05 501.97,246.36 502.32,242.93 502.67,239.72 503.01,237.98 503.36,235.00 503.71,234.62 504.06,233.81 504.40,234.11 504.75,231.62 505.10,227.92 505.44,220.91 505.79,219.09 506.14,218.43 506.49,212.99 506.83,217.79 507.18,215.18 507.53,211.57 507.88,212.69 508.22,210.43 508.57,205.87 508.92,205.78 509.26,205.40 509.61,196.83 509.96,202.13 510.31,200.39 510.65,193.14 511.00,197.23 511.10,193.00 511.30,179.20 511.45,281.50 511.60,281.50 511.95,274.97 512.29,270.63 512.64,264.89 512.98,260.98 513.33,257.91 513.67,254.68 514.02,251.34 514.37,250.15 514.71,247.50 515.06,245.54 515.40,242.63 515.75,240.67 516.09,237.57 516.44,235.52 516.79,234.00 517.13,231.71 517.48,229.02 517.82,225.97 518.17,224.52 518.51,218.18 518.86,220.67 519.21,216.08 519.55,212.67 519.90,218.61 520.24,217.24 520.59,209.31 520.93,210.74 521.28,207.40 521.63,202.19 521.97,205.06 522.32,204.23 522.66,196.17 523.01,198.19 523.35,196.38 523.70,191.24 523.80,192.00 524.00,179.80 524.15,281.50 524.30,281.50 524.65,273.51 525.00,267.26 525.35,263.74 525.70,259.16 526.05,257.29 526.40,255.00 526.75,250.94 527.10,249.74 527.45,248.19 527.80,245.54 528.15,244.50 528.50,243.14 528.85,238.45 529.20,236.89 529.55,234.51 529.90,232.19 530.25,230.45 530.60,226.98 530.95,220.22 531.30,221.51 531.65,220.19 532.00,212.85 532.35,216.21 532.70,213.02 533.05,208.04 533.40,210.19 533.75,209.58 534.10,202.61 534.45,204.61 534.80,202.11 535.15,197.72 535.50,198.60 535.85,199.87 536.20,192.04 536.30,193.00 536.50,181.80 536.65,281.50 536.80,281.50 537.15,275.63 537.50,270.75 537.85,265.45 538.20,262.06 538.55,258.24 538.90,257.72 539.25,254.81 539.60,250.06 539.95,248.25 540.30,245.29 540.65,244.78 541.00,240.71 541.35,236.22 541.70,234.85 542.05,232.77 542.40,230.60 542.75,226.80 543.10,226.16 543.45,222.67 543.80,219.58 544.15,219.51 544.50,214.11 544.85,218.50 545.20,217.04 545.55,211.86 545.90,212.30 546.25,211.76 546.60,204.93 546.95,205.13 547.30,204.45 547.65,195.17 548.00,203.04 548.35,199.65 548.70,192.57 548.80,194.00 549.00,172.10 549.15,281.50 549.30,281.50 549.65,274.54 550.00,269.34 550.35,266.51 550.70,262.88 551.05,258.93 551.40,257.14 551.75,254.84 552.10,251.18 552.45,249.69 552.80,246.43 553.15,243.53 553.50,241.30 553.85,238.22 554.20,235.80 554.55,233.76 554.90,233.31 555.25,232.19 555.60,229.00 555.95,226.62 556.30,225.08 556.65,224.43 557.00,216.33 557.35,218.65 557.70,220.68 558.05,212.81 558.40,210.38 558.75,212.29 559.10,204.72 559.45,205.51 559.80,202.75 560.15,197.84 560.50,199.43 560.85,199.02 561.20,198.17 561.30,195.00 561.50,185.20 561.65,281.50 561.80,281.50 562.15,274.62 562.50,270.68 562.85,267.23 563.21,262.22 563.56,258.96 563.91,256.37 564.26,254.41 564.61,250.82 564.96,247.19 565.31,246.13 565.67,244.66 566.02,242.15 566.37,238.81 566.72,236.90 567.07,234.61 567.42,233.09 567.77,229.34 568.13,227.58 568.48,225.45 568.83,217.16 569.18,222.37 569.53,218.17 569.88,210.98 570.23,219.80 570.59,213.09 570.94,208.28 571.29,210.95 571.64,211.30 571.99,204.13 572.34,206.12 572.69,199.70 573.05,194.31 573.40,201.54 573.75,201.94 574.10,194.56 574.20,193.00 574.40,173.10 574.55,279.50 574.70,279.50 575.05,272.64 575.39,267.54 575.74,265.50 576.08,262.30 576.43,259.13 576.77,256.04 577.12,253.79 577.47,250.92 577.81,248.45 578.16,244.19 578.50,242.31 578.85,241.90 579.19,238.16 579.54,235.43 579.89,233.91 580.23,232.23 580.58,230.08 580.92,225.83 581.27,224.51 581.61,215.19 581.96,216.93 582.31,218.79 582.65,212.12 583.00,216.64 583.34,217.61 583.69,209.10 584.03,212.38 584.38,205.60 584.73,204.55 585.07,204.24 585.42,200.33 585.76,192.61 586.11,197.28 586.45,192.67 586.80,188.14 586.90,192.00 587.10,182.20 587.25,279.50 587.40,279.50 587.75,272.50 588.10,267.58 588.45,264.89 588.80,260.23 589.15,257.59 589.50,254.17 589.85,250.75 590.20,248.94 590.55,245.47 590.90,245.22 591.25,241.74 591.60,241.22 591.95,237.05 592.30,235.30 592.65,231.66 593.00,228.50 593.35,227.21 593.70,226.12 594.05,217.99 594.40,224.70 594.75,218.91 595.10,212.88 595.45,218.27 595.80,215.49 596.15,206.95 596.50,210.16 596.85,207.12 597.20,201.05 597.55,203.21 597.90,200.53 598.25,195.17 598.60,199.26 598.95,197.11 599.30,190.68 599.40,193.00 599.60,171.10 599.75,279.00 599.90,279.00 600.25,269.96 600.59,265.93 600.94,261.99 601.28,258.79 601.63,256.14 601.97,252.56 602.32,249.51 602.67,247.65 603.01,245.77 603.36,242.96 603.70,241.47 604.05,238.98 604.39,235.84 604.74,234.11 605.09,233.99 605.43,230.63 605.78,229.57 606.12,228.33 606.47,226.91 606.81,219.77 607.16,225.32 607.51,218.00 607.85,213.41 608.20,214.28 608.54,210.94 608.89,206.17 609.23,210.75 609.58,207.74 609.93,200.36 610.27,203.94 610.62,203.52 610.96,198.38 611.31,198.73 611.65,196.49 612.00,193.52 612.10,192.00 612.30,179.10 612.45,278.50 612.60,278.50 612.95,270.79 613.30,267.51 613.65,265.14 614.00,259.98 614.35,254.40 614.70,251.09 615.05,248.49 615.40,246.77 615.75,245.49 616.10,243.05 616.45,240.13 616.80,238.30 617.15,235.24 617.50,233.42 617.85,230.91 618.20,231.76 618.55,229.66 618.90,226.01 619.25,218.86 619.60,217.72 619.95,215.59 620.30,212.82 620.65,215.96 621.00,213.88 621.35,208.54 621.70,208.41 622.05,205.79 622.40,199.19 622.75,204.71 623.10,202.36 623.45,197.26 623.80,198.60 624.15,199.36 624.50,193.22 624.60,193.00 624.80,181.80 624.95,279.30 625.10,279.30 625.45,273.95 625.79,269.17 626.14,264.95 626.48,262.70 626.83,259.81 627.17,255.95 627.52,253.20 627.87,249.00 628.21,245.93 628.56,241.58 628.90,241.39 629.25,237.38 629.59,236.57 629.94,233.76 630.29,231.08 630.63,229.40 630.98,228.01 631.32,226.70 631.67,226.23 632.01,215.74 632.36,221.04 632.71,219.89 633.05,210.96 633.40,219.19 633.74,208.80 634.09,208.89 634.43,211.22 634.78,208.68 635.13,201.52 635.47,203.94 635.82,199.68 636.16,197.55 636.51,195.22 636.85,194.79 637.20,193.09 637.30,192.00 637.50,170.10 637.65,278.00 637.80,278.00 638.14,270.81 638.49,266.84 638.83,261.93 639.18,260.28 639.52,257.43 639.87,252.89 640.21,250.57 640.56,247.51 640.90,244.83 641.24,243.00 641.59,240.25 641.93,239.32 642.28,236.30 642.62,235.26 642.97,232.82 643.31,231.41 643.66,228.41 644.00,225.86 644.34,222.93 644.69,217.65 645.03,220.45 645.38,218.03 645.72,216.64 646.07,214.82 646.41,212.99 646.76,206.92 647.10,210.94 647.44,209.17 647.79,203.76 648.13,201.91 648.48,201.77 648.82,195.48 649.17,200.35 649.51,198.18 649.86,192.95 650.20,197.50 650.30,191.00 650.50,179.10 650.65,277.30" fill="none" stroke="#f0aa72" stroke-width="0.9" stroke-linejoin="round" opacity="1.0"/>
<rect x="380.2" y="167.0" width="48.5" height="20.6" rx="0.8" fill="#fff" fill-opacity="0.82" stroke="#b9b9b9" stroke-width="0.75"/>
<line x1="382.0" y1="172.97" x2="394.4" y2="172.97" stroke="#98b9e2" stroke-width="1.5"/>
<line x1="382.0" y1="182.24" x2="394.4" y2="182.24" stroke="#f3b485" stroke-width="1.5"/>
<text x="396.50" y="175.17" font-size="5.4" font-weight="400" fill="#222" text-anchor="start" >Ground Truth</text>
<text x="396.50" y="184.14" font-size="5.4" font-weight="400" fill="#222" text-anchor="start" >Predictions</text>
<text x="376.30" y="175.85" font-size="8.2" font-weight="400" fill="#262626" text-anchor="end" >29</text>
<text x="376.30" y="202.95" font-size="8.2" font-weight="400" fill="#262626" text-anchor="end" >28</text>
<text x="376.30" y="229.95" font-size="8.2" font-weight="400" fill="#262626" text-anchor="end" >27</text>
<text x="376.30" y="256.95" font-size="8.2" font-weight="400" fill="#262626" text-anchor="end" >26</text>
<text x="376.30" y="284.05" font-size="8.2" font-weight="400" fill="#262626" text-anchor="end" >25</text>
<line x1="377.5" y1="172.9" x2="378.9" y2="172.9" stroke="#999" stroke-width="0.6"/>
<line x1="377.5" y1="200.0" x2="378.9" y2="200.0" stroke="#999" stroke-width="0.6"/>
<line x1="377.5" y1="227.0" x2="378.9" y2="227.0" stroke="#999" stroke-width="0.6"/>
<line x1="377.5" y1="254.0" x2="378.9" y2="254.0" stroke="#999" stroke-width="0.6"/>
<line x1="377.5" y1="281.1" x2="378.9" y2="281.1" stroke="#999" stroke-width="0.6"/>
<text x="391.30" y="300.35" font-size="8.2" font-weight="400" fill="#262626" text-anchor="middle" >0</text>
<text x="423.20" y="300.35" font-size="8.2" font-weight="400" fill="#262626" text-anchor="middle" >50</text>
<text x="455.00" y="300.35" font-size="8.2" font-weight="400" fill="#262626" text-anchor="middle" >100</text>
<text x="486.80" y="300.35" font-size="8.2" font-weight="400" fill="#262626" text-anchor="middle" >150</text>
<text x="518.60" y="300.35" font-size="8.2" font-weight="400" fill="#262626" text-anchor="middle" >200</text>
<text x="550.40" y="300.35" font-size="8.2" font-weight="400" fill="#262626" text-anchor="middle" >250</text>
<text x="582.20" y="300.35" font-size="8.2" font-weight="400" fill="#262626" text-anchor="middle" >300</text>
<text x="614.00" y="300.35" font-size="8.2" font-weight="400" fill="#262626" text-anchor="middle" >350</text>
<text x="645.80" y="300.35" font-size="8.2" font-weight="400" fill="#262626" text-anchor="middle" >400</text>
<line x1="391.3" y1="289" x2="391.3" y2="290.4" stroke="#999" stroke-width="0.6"/>
<line x1="423.2" y1="289" x2="423.2" y2="290.4" stroke="#999" stroke-width="0.6"/>
<line x1="455.0" y1="289" x2="455.0" y2="290.4" stroke="#999" stroke-width="0.6"/>
<line x1="486.8" y1="289" x2="486.8" y2="290.4" stroke="#999" stroke-width="0.6"/>
<line x1="518.6" y1="289" x2="518.6" y2="290.4" stroke="#999" stroke-width="0.6"/>
<line x1="550.4" y1="289" x2="550.4" y2="290.4" stroke="#999" stroke-width="0.6"/>
<line x1="582.2" y1="289" x2="582.2" y2="290.4" stroke="#999" stroke-width="0.6"/>
<line x1="614.0" y1="289" x2="614.0" y2="290.4" stroke="#999" stroke-width="0.6"/>
<line x1="645.8" y1="289" x2="645.8" y2="290.4" stroke="#999" stroke-width="0.6"/>
<text x="514.50" y="315.60" font-size="10.5" font-weight="400" fill="#1a1a1a" text-anchor="middle" >Time/s</text>
<text x="0" y="0" font-size="10.5" fill="#1a1a1a" text-anchor="middle" transform="translate(358.30,228.00) rotate(-90)" font-family="Liberation Sans, sans-serif">Shear Force/KN</text>
<rect x="33.5" y="486.5" width="286.9" height="141.70000000000005" fill="none" stroke="#a3a3a3" stroke-width="1"/>
<polyline points="47.61,615.25 47.71,615.11 47.82,614.93 47.95,614.73 48.08,614.51 48.22,614.26 48.36,614.01 48.49,613.75 48.62,613.48 48.75,613.21 48.87,612.93 48.98,612.66 49.09,612.38 49.20,612.10 49.31,611.82 49.41,611.54 49.51,611.25 49.61,610.97 49.71,610.69 49.81,610.41 49.91,610.12 50.01,609.84 50.10,609.55 50.20,609.27 50.30,608.99 50.39,608.70 50.49,608.42 50.59,608.13 50.68,607.85 50.78,607.57 50.88,607.28 50.98,607.00 51.08,606.72 51.17,606.43 51.27,606.15 51.37,605.87 51.48,605.58 51.58,605.30 51.68,605.02 51.79,604.74 51.89,604.46 52.00,604.18 52.11,603.90 52.22,603.62 52.33,603.34 52.45,603.07 52.57,602.79 52.68,602.51 52.81,602.24 52.93,601.97 53.05,601.69 53.18,601.42 53.31,601.15 53.45,600.89 53.58,600.62 53.72,600.35 53.86,600.09 54.01,599.83 54.15,599.56 54.30,599.30 54.45,599.04 54.60,598.78 54.76,598.53 54.91,598.27 55.07,598.01 55.23,597.76 55.39,597.50 55.55,597.25 55.71,597.00 55.88,596.75 56.04,596.50 56.21,596.25 56.38,596.01 56.56,595.76 56.73,595.52 56.90,595.27 57.07,595.03 57.25,594.78 57.42,594.53 57.59,594.29 57.76,594.04 57.92,593.79 58.09,593.54 58.25,593.29 58.41,593.03 58.57,592.78 58.73,592.52 58.88,592.27 59.04,592.01 59.19,591.75 59.34,591.49 59.49,591.23 59.64,590.97 59.79,590.71 59.93,590.45 60.08,590.19 60.22,589.92 60.37,589.66 60.51,589.40 60.65,589.13 60.79,588.87 60.93,588.60 61.07,588.34 61.22,588.07 61.36,587.81 61.50,587.54 61.64,587.28 61.78,587.01 61.92,586.75 62.06,586.48 62.20,586.22 62.34,585.95 62.47,585.69 62.61,585.42 62.74,585.15 62.88,584.88 63.01,584.61 63.14,584.34 63.26,584.07 63.39,583.80 63.52,583.52 63.64,583.25 63.76,582.98 63.88,582.70 64.00,582.43 64.12,582.15 64.24,581.87 64.35,581.60 64.47,581.32 64.58,581.04 64.69,580.76 64.80,580.48 64.91,580.21 65.02,579.93 65.13,579.65 65.24,579.37 65.34,579.09 65.45,578.80 65.55,578.52 65.66,578.24 65.76,577.96 65.86,577.68 65.96,577.40 66.07,577.11 66.17,576.83 66.27,576.55 66.37,576.27 66.47,575.99 66.58,575.70 66.68,575.42 66.78,575.14 66.88,574.86 66.98,574.57 67.08,574.29 67.19,574.01 67.29,573.73 67.39,573.45 67.49,573.16 67.59,572.88 67.69,572.60 67.80,572.32 67.90,572.04 68.00,571.75 68.11,571.47 68.21,571.19 68.31,570.91 68.42,570.63 68.52,570.35 68.63,570.07 68.74,569.79 68.84,569.51 68.95,569.23 69.06,568.95 69.17,568.67 69.28,568.39 69.39,568.11 69.50,567.83 69.61,567.55 69.73,567.27 69.84,567.00 69.95,566.72 70.07,566.44 70.18,566.17 70.30,565.89 70.42,565.61 70.54,565.34 70.66,565.06 70.78,564.79 70.90,564.51 71.02,564.24 71.14,563.96 71.26,563.69 71.39,563.42 71.51,563.14 71.63,562.87 71.76,562.60 71.88,562.33 72.01,562.05 72.14,561.78 72.26,561.51 72.39,561.24 72.51,560.96 72.64,560.69 72.77,560.42 72.90,560.15 73.03,559.88 73.16,559.61 73.28,559.34 73.42,559.07 73.55,558.80 73.68,558.53 73.81,558.26 73.94,557.99 74.08,557.72 74.21,557.45 74.34,557.18 74.48,556.92 74.62,556.65 74.75,556.38 74.89,556.11 75.03,555.85 75.16,555.58 75.30,555.32 75.44,555.05 75.58,554.78 75.72,554.52 75.86,554.25 76.01,553.99 76.15,553.73 76.29,553.46 76.43,553.20 76.57,552.93 76.71,552.67 76.85,552.40 76.99,552.14 77.13,551.87 77.28,551.61 77.42,551.34 77.56,551.08 77.70,550.81 77.84,550.55 77.98,550.28 78.12,550.02 78.26,549.75 78.40,549.48 78.53,549.22 78.67,548.95 78.81,548.69 78.95,548.42 79.09,548.16 79.23,547.89 79.37,547.62 79.51,547.36 79.64,547.09 79.78,546.82 79.92,546.56 80.06,546.29 80.20,546.03 80.34,545.76 80.48,545.49 80.62,545.23 80.76,544.97 80.90,544.70 81.05,544.44 81.20,544.18 81.35,543.92 81.50,543.66 81.65,543.40 81.80,543.14 81.96,542.89 82.12,542.64 82.28,542.38 82.44,542.13 82.61,541.88 82.78,541.63 82.95,541.39 83.12,541.14 83.30,540.90 83.48,540.66 83.66,540.42 83.84,540.18 84.02,539.94 84.20,539.70 84.38,539.46 84.57,539.22 84.75,538.99 84.93,538.75 85.11,538.51 85.29,538.27 85.47,538.03 85.65,537.79 85.83,537.55 86.01,537.30 86.18,537.06 86.36,536.82 86.53,536.58 86.71,536.33 86.88,536.09 87.06,535.84 87.23,535.60 87.40,535.35 87.57,535.11 87.75,534.86 87.91,534.61 88.08,534.36 88.24,534.11 88.41,533.86 88.57,533.61 88.72,533.35 88.88,533.09 89.03,532.83 89.18,532.57 89.32,532.31 89.47,532.05 89.61,531.79 89.75,531.52 89.89,531.26 90.03,530.99 90.16,530.72 90.30,530.45 90.43,530.18 90.56,529.91 90.68,529.64 90.81,529.37 90.93,529.09 91.05,528.82 91.17,528.54 91.28,528.27 91.40,527.99 91.51,527.71 91.62,527.43 91.73,527.15 91.84,526.87 91.94,526.59 92.05,526.31 92.15,526.03 92.25,525.75 92.35,525.46 92.45,525.18 92.55,524.90 92.65,524.61 92.74,524.33 92.84,524.04 92.93,523.76 93.02,523.47 93.12,523.19 93.21,522.90 93.30,522.62 93.39,522.33 93.48,522.05 93.57,521.76 93.67,521.47 93.76,521.19 93.85,520.91 93.95,520.62 94.05,520.34 94.15,520.06 94.26,519.78 94.36,519.50 94.47,519.22 94.58,518.96 94.69,518.71 94.80,518.49 94.90,518.30 94.99,518.18 95.07,518.12 95.14,518.13 95.19,518.22 95.22,518.37 95.24,518.58 95.26,518.83 95.27,519.10 95.27,519.39 95.28,519.68 95.28,519.98 95.28,520.28 95.28,520.58 95.29,520.88 95.29,521.18 95.29,521.48 95.29,521.78 95.29,522.08 95.30,522.38 95.30,522.68 95.30,522.98 95.30,523.28 95.30,523.58 95.31,523.88 95.31,524.18 95.31,524.48 95.31,524.78 95.32,525.08 95.32,525.38 95.32,525.68 95.32,525.98 95.32,526.28 95.33,526.58 95.33,526.88 95.33,527.18 95.33,527.48 95.34,527.78 95.34,528.08 95.34,528.38 95.34,528.68 95.34,528.98 95.35,529.28 95.35,529.58 95.35,529.88 95.35,530.18 95.35,530.48 95.36,530.78 95.36,531.08 95.36,531.38 95.36,531.68 95.37,531.98 95.37,532.28 95.37,532.58 95.37,532.88 95.37,533.18 95.38,533.48 95.38,533.78 95.38,534.08 95.38,534.38 95.39,534.68 95.39,534.98 95.39,535.28 95.39,535.58 95.39,535.88 95.40,536.18 95.40,536.48 95.40,536.78 95.40,537.08 95.41,537.38 95.41,537.68 95.41,537.98 95.41,538.28 95.41,538.58 95.42,538.88 95.42,539.18 95.42,539.48 95.42,539.78 95.42,540.08 95.43,540.38 95.43,540.68 95.43,540.98 95.43,541.28 95.44,541.58 95.44,541.88 95.44,542.18 95.44,542.48 95.44,542.78 95.45,543.08 95.45,543.38 95.45,543.68 95.45,543.98 95.46,544.28 95.46,544.58 95.46,544.88 95.46,545.18 95.46,545.48 95.47,545.78 95.47,546.08 95.47,546.38 95.47,546.68 95.47,546.98 95.48,547.28 95.48,547.58 95.48,547.88 95.48,548.18 95.49,548.48 95.49,548.78 95.49,549.08 95.49,549.38 95.49,549.68 95.50,549.98 95.50,550.28 95.50,550.58 95.50,550.88 95.51,551.18 95.51,551.48 95.51,551.78 95.51,552.08 95.51,552.38 95.52,552.68 95.52,552.98 95.52,553.28 95.52,553.58 95.53,553.88 95.53,554.18 95.53,554.48 95.54,554.78 95.54,555.08 95.54,555.38 95.55,555.68 95.55,555.98 95.55,556.28 95.56,556.58 95.56,556.88 95.57,557.18 95.57,557.48 95.57,557.78 95.58,558.08 95.58,558.38 95.58,558.68 95.59,558.98 95.59,559.28 95.59,559.58 95.60,559.88 95.60,560.18 95.60,560.48 95.61,560.78 95.61,561.08 95.61,561.38 95.62,561.68 95.62,561.98 95.62,562.28 95.63,562.58 95.63,562.88 95.63,563.18 95.64,563.48 95.64,563.78 95.64,564.08 95.65,564.38 95.65,564.68 95.65,564.98 95.66,565.28 95.66,565.58 95.66,565.88 95.67,566.18 95.67,566.48 95.67,566.78 95.68,567.08 95.68,567.38 95.68,567.68 95.69,567.98 95.69,568.28 95.69,568.58 95.70,568.88 95.70,569.18 95.70,569.48 95.71,569.78 95.71,570.08 95.72,570.38 95.72,570.68 95.72,570.98 95.73,571.28 95.73,571.58 95.73,571.88 95.74,572.18 95.74,572.48 95.74,572.78 95.75,573.08 95.75,573.38 95.75,573.68 95.76,573.98 95.76,574.28 95.76,574.58 95.77,574.88 95.77,575.18 95.77,575.48 95.78,575.78 95.78,576.08 95.78,576.38 95.79,576.68 95.79,576.98 95.79,577.28 95.80,577.58 95.80,577.88 95.80,578.18 95.81,578.48 95.81,578.78 95.81,579.08 95.82,579.38 95.82,579.68 95.82,579.98 95.83,580.28 95.83,580.58 95.83,580.88 95.84,581.18 95.84,581.48 95.84,581.78 95.85,582.08 95.85,582.38 95.86,582.68 95.86,582.98 95.86,583.28 95.87,583.58 95.87,583.88 95.87,584.18 95.88,584.48 95.88,584.78 95.88,585.08 95.89,585.38 95.89,585.68 95.89,585.98 95.90,586.28 95.90,586.58 95.91,586.87 95.91,587.17 95.92,587.47 95.93,587.77 95.93,588.07 95.94,588.37 95.95,588.67 95.97,588.97 95.98,589.27 95.99,589.57 96.00,589.87 96.01,590.17 96.02,590.47 96.03,590.77 96.04,591.07 96.06,591.37 96.07,591.67 96.08,591.97 96.09,592.27 96.10,592.57 96.11,592.87 96.12,593.17 96.14,593.47 96.15,593.77 96.16,594.07 96.17,594.37 96.18,594.67 96.19,594.97 96.20,595.27 96.21,595.57 96.23,595.87 96.24,596.17 96.25,596.47 96.26,596.77 96.27,597.07 96.28,597.37 96.29,597.67 96.31,597.97 96.32,598.27 96.33,598.57 96.34,598.87 96.35,599.17 96.36,599.47 96.37,599.77 96.39,600.07 96.40,600.37 96.41,600.67 96.42,600.97 96.43,601.27 96.44,601.56 96.45,601.86 96.47,602.16 96.48,602.46 96.49,602.76 96.50,603.06 96.51,603.36 96.53,603.66 96.54,603.96 96.56,604.26 96.57,604.56 96.60,604.86 96.62,605.16 96.64,605.46 96.67,605.76 96.70,606.06 96.73,606.35 96.76,606.65 96.79,606.95 96.82,607.25 96.85,607.55 96.88,607.85 96.91,608.15 96.94,608.44 96.97,608.74 97.00,609.04 97.03,609.34 97.06,609.64 97.09,609.94 97.12,610.23 97.15,610.53 97.18,610.83 97.21,611.13 97.25,611.43 97.28,611.72 97.33,612.02 97.38,612.31 97.43,612.61 97.50,612.90 97.57,613.19 97.64,613.48 97.72,613.77 97.81,614.05 97.90,614.34 98.00,614.62 98.10,614.89 98.22,615.14 98.35,615.38 98.50,615.59 98.65,615.77 98.81,615.89 98.96,615.95 99.11,615.95 99.25,615.89 99.38,615.76 99.50,615.58 99.63,615.37 99.76,615.14 99.90,614.90 100.04,614.64 100.19,614.38 100.33,614.12 100.46,613.85 100.59,613.59 100.72,613.32 100.84,613.04 100.96,612.77 101.07,612.49 101.18,612.21 101.29,611.93 101.39,611.65 101.49,611.37 101.60,611.08 101.69,610.80 101.79,610.52 101.89,610.23 101.99,609.95 102.09,609.67 102.18,609.38 102.28,609.10 102.38,608.81 102.47,608.53 102.57,608.25 102.67,607.96 102.76,607.68 102.86,607.39 102.96,607.11 103.06,606.83 103.16,606.54 103.25,606.26 103.35,605.98 103.46,605.70 103.56,605.41 103.66,605.13 103.76,604.85 103.87,604.57 103.98,604.29 104.09,604.01 104.20,603.73 104.31,603.45 104.42,603.18 104.54,602.90 104.66,602.62 104.78,602.35 104.90,602.07 105.02,601.80 105.15,601.53 105.28,601.26 105.41,600.99 105.55,600.72 105.69,600.46 105.83,600.19 105.97,599.93 106.12,599.67 106.26,599.41 106.41,599.14 106.56,598.89 106.72,598.63 106.87,598.37 107.03,598.11 107.18,597.86 107.34,597.60 107.50,597.35 107.67,597.10 107.83,596.85 108.00,596.60 108.17,596.35 108.34,596.10 108.51,595.86 108.68,595.61 108.85,595.37 109.03,595.12 109.20,594.88 109.37,594.63 109.54,594.38 109.71,594.14 109.88,593.89 110.04,593.64 110.21,593.39 110.37,593.13 110.53,592.88 110.69,592.63 110.84,592.37 111.00,592.11 111.15,591.86 111.30,591.60 111.45,591.34 111.60,591.08 111.75,590.82 111.90,590.55 112.04,590.29 112.19,590.03 112.33,589.76 112.47,589.50 112.61,589.24 112.76,588.97 112.90,588.71 113.04,588.44 113.18,588.18 113.32,587.91 113.46,587.65 113.60,587.38 113.74,587.12 113.88,586.85 114.03,586.59 114.16,586.32 114.30,586.06 114.44,585.79 114.58,585.52 114.71,585.26 114.84,584.99 114.98,584.72 115.11,584.45 115.23,584.18 115.36,583.90 115.49,583.63 115.61,583.36 115.73,583.08 115.85,582.81 115.97,582.53 116.09,582.26 116.21,581.98 116.33,581.71 116.44,581.43 116.55,581.15 116.67,580.87 116.78,580.59 116.89,580.32 117.00,580.04 117.11,579.76 117.21,579.48 117.32,579.20 117.43,578.92 117.53,578.63 117.63,578.35 117.74,578.07 117.84,577.79 117.94,577.51 118.05,577.23 118.15,576.94 118.25,576.66 118.35,576.38 118.45,576.10 118.56,575.82 118.66,575.53 118.76,575.25 118.86,574.97 118.96,574.69 119.06,574.40 119.17,574.12 119.27,573.84 119.37,573.56 119.47,573.28 119.57,572.99 119.67,572.71 119.78,572.43 119.88,572.15 119.98,571.86 120.09,571.58 120.19,571.30 120.29,571.02 120.40,570.74 120.50,570.46 120.61,570.18 120.71,569.90 120.82,569.62 120.93,569.34 121.04,569.06 121.15,568.78 121.26,568.50 121.37,568.22 121.48,567.94 121.59,567.66 121.70,567.38 121.81,567.11 121.93,566.83 122.04,566.55 122.16,566.27 122.28,566.00 122.39,565.72 122.51,565.45 122.63,565.17 122.75,564.90 122.87,564.62 122.99,564.35 123.11,564.07 123.23,563.80 123.36,563.52 123.48,563.25 123.61,562.98 123.73,562.71 123.86,562.43 123.98,562.16 124.11,561.89 124.23,561.62 124.36,561.34 124.48,561.07 124.61,560.80 124.74,560.53 124.87,560.26 125.00,559.99 125.12,559.71 125.25,559.44 125.38,559.17 125.51,558.90 125.65,558.63 125.78,558.36 125.91,558.10 126.04,557.83 126.18,557.56 126.31,557.29 126.45,557.02 126.58,556.75 126.72,556.49 126.85,556.22 126.99,555.95 127.13,555.69 127.27,555.42 127.41,555.15 127.55,554.89 127.69,554.62 127.83,554.36 127.97,554.09 128.11,553.83 128.25,553.57 128.39,553.30 128.53,553.04 128.68,552.77 128.82,552.51 128.96,552.24 129.10,551.98 129.24,551.71 129.38,551.45 129.52,551.18 129.66,550.92 129.80,550.65 129.94,550.39 130.08,550.12 130.22,549.85 130.36,549.59 130.50,549.32 130.64,549.06 130.78,548.79 130.92,548.53 131.06,548.26 131.19,547.99 131.33,547.73 131.47,547.46 131.61,547.20 131.75,546.93 131.89,546.66 132.02,546.40 132.16,546.13 132.30,545.86 132.44,545.60 132.58,545.33 132.72,545.07 132.87,544.81 133.01,544.54 133.16,544.28 133.31,544.02 133.46,543.76 133.61,543.50 133.76,543.25 133.92,542.99 134.08,542.74 134.24,542.48 134.40,542.23 134.57,541.98 134.73,541.73 134.90,541.48 135.07,541.24 135.25,540.99 135.43,540.75 135.60,540.51 135.79,540.27 135.97,540.03 136.15,539.79 136.33,539.56 136.51,539.32 136.70,539.08 136.88,538.84 137.06,538.60 137.24,538.36 137.42,538.12 137.60,537.88 137.78,537.64 137.96,537.40 138.13,537.16 138.31,536.92 138.49,536.67 138.66,536.43 138.83,536.18 139.01,535.94 139.18,535.70 139.36,535.45 139.53,535.20 139.70,534.96 139.87,534.71 140.03,534.46 140.20,534.21 140.36,533.96 140.52,533.71 140.68,533.45 140.84,533.19 140.99,532.94 141.14,532.68 141.29,532.42 141.43,532.15 141.58,531.89 141.72,531.63 141.86,531.36 141.99,531.09 142.13,530.83 142.26,530.56 142.39,530.29 142.52,530.02 142.65,529.75 142.78,529.47 142.90,529.20 143.02,528.93 143.14,528.65 143.26,528.38 143.37,528.10 143.49,527.82 143.60,527.54 143.71,527.26 143.81,526.98 143.92,526.70 144.02,526.42 144.13,526.14 144.23,525.86 144.33,525.57 144.43,525.29 144.53,525.01 144.63,524.72 144.72,524.44 144.82,524.16 144.91,523.87 145.01,523.59 145.10,523.30 145.19,523.02 145.28,522.73 145.37,522.44 145.47,522.16 145.56,521.87 145.65,521.59 145.74,521.30 145.84,521.02 145.93,520.73 146.03,520.45 146.13,520.17 146.23,519.89 146.34,519.61 146.45,519.33 146.56,519.06 146.67,518.80 146.77,518.57 146.88,518.37 146.98,518.21 147.06,518.13 147.13,518.11 147.19,518.17 147.23,518.30 147.26,518.49 147.27,518.72 147.28,518.99 147.29,519.27 147.29,519.56 147.30,519.86 147.30,520.16 147.30,520.46 147.30,520.76 147.31,521.06 147.31,521.36 147.31,521.66 147.31,521.96 147.32,522.26 147.32,522.56 147.32,522.86 147.32,523.16 147.32,523.46 147.33,523.76 147.33,524.06 147.33,524.36 147.33,524.66 147.33,524.96 147.34,525.26 147.34,525.56 147.34,525.86 147.34,526.16 147.35,526.46 147.35,526.76 147.35,527.06 147.35,527.36 147.35,527.66 147.36,527.96 147.36,528.26 147.36,528.56 147.36,528.86 147.37,529.16 147.37,529.46 147.37,529.76 147.37,530.06 147.37,530.36 147.38,530.66 147.38,530.96 147.38,531.26 147.38,531.56 147.38,531.86 147.39,532.16 147.39,532.46 147.39,532.76 147.39,533.06 147.40,533.36 147.40,533.66 147.40,533.96 147.40,534.26 147.40,534.56 147.41,534.86 147.41,535.16 147.41,535.46 147.41,535.76 147.42,536.06 147.42,536.36 147.42,536.66 147.42,536.96 147.42,537.26 147.43,537.56 147.43,537.86 147.43,538.16 147.43,538.46 147.44,538.76 147.44,539.06 147.44,539.36 147.44,539.66 147.44,539.96 147.45,540.26 147.45,540.56 147.45,540.86 147.45,541.16 147.45,541.46 147.46,541.76 147.46,542.06 147.46,542.36 147.46,542.66 147.47,542.96 147.47,543.26 147.47,543.56 147.47,543.86 147.47,544.16 147.48,544.46 147.48,544.76 147.48,545.06 147.48,545.36 147.49,545.66 147.49,545.96 147.49,546.26 147.49,546.56 147.49,546.86 147.50,547.16 147.50,547.46 147.50,547.76 147.50,548.06 147.50,548.36 147.51,548.66 147.51,548.96 147.51,549.26 147.51,549.56 147.52,549.86 147.52,550.16 147.52,550.46 147.52,550.76 147.52,551.06 147.53,551.36 147.53,551.66 147.53,551.96 147.53,552.26 147.54,552.56 147.54,552.86 147.54,553.16 147.54,553.46 147.55,553.76 147.55,554.06 147.55,554.36 147.56,554.66 147.56,554.96 147.56,555.26 147.57,555.56 147.57,555.86 147.57,556.16 147.58,556.46 147.58,556.76 147.58,557.06 147.59,557.36 147.59,557.66 147.59,557.96 147.60,558.26 147.60,558.56 147.60,558.86 147.61,559.16 147.61,559.46 147.61,559.76 147.62,560.06 147.62,560.36 147.62,560.66 147.63,560.96 147.63,561.26 147.63,561.56 147.64,561.86 147.64,562.16 147.65,562.46 147.65,562.76 147.65,563.06 147.66,563.36 147.66,563.66 147.66,563.96 147.67,564.26 147.67,564.56 147.67,564.86 147.68,565.16 147.68,565.46 147.68,565.76 147.69,566.06 147.69,566.36 147.69,566.66 147.70,566.96 147.70,567.26 147.70,567.56 147.71,567.86 147.71,568.16 147.71,568.46 147.72,568.76 147.72,569.06 147.72,569.36 147.73,569.66 147.73,569.96 147.73,570.26 147.74,570.56 147.74,570.86 147.74,571.16 147.75,571.46 147.75,571.76 147.75,572.06 147.76,572.36 147.76,572.66 147.76,572.96 147.77,573.26 147.77,573.56 147.77,573.86 147.78,574.16 147.78,574.46 147.79,574.76 147.79,575.06 147.79,575.36 147.80,575.66 147.80,575.96 147.80,576.26 147.81,576.56 147.81,576.86 147.81,577.16 147.82,577.46 147.82,577.76 147.82,578.06 147.83,578.36 147.83,578.66 147.83,578.96 147.84,579.26 147.84,579.56 147.84,579.86 147.85,580.16 147.85,580.46 147.85,580.76 147.86,581.06 147.86,581.36 147.86,581.66 147.87,581.96 147.87,582.26 147.87,582.56 147.88,582.86 147.88,583.16 147.88,583.46 147.89,583.76 147.89,584.06 147.89,584.36 147.90,584.66 147.90,584.96 147.90,585.26 147.91,585.56 147.91,585.86 147.92,586.16 147.92,586.46 147.92,586.76 147.93,587.06 147.94,587.36 147.94,587.66 147.95,587.96 147.96,588.26 147.97,588.56 147.98,588.86 147.99,589.16 148.00,589.46 148.01,589.76 148.03,590.05 148.04,590.35 148.05,590.65 148.06,590.95 148.07,591.25 148.08,591.55 148.09,591.85 148.11,592.15 148.12,592.45 148.13,592.75 148.14,593.05 148.15,593.35 148.16,593.65 148.17,593.95 148.18,594.25 148.20,594.55 148.21,594.85 148.22,595.15 148.23,595.45 148.24,595.75 148.25,596.05 148.26,596.35 148.28,596.65 148.29,596.95 148.30,597.25 148.31,597.55 148.32,597.85 148.33,598.15 148.34,598.45 148.36,598.75 148.37,599.05 148.38,599.35 148.39,599.65 148.40,599.95 148.41,600.25 148.42,600.55 148.44,600.85 148.45,601.15 148.46,601.45 148.47,601.75 148.48,602.05 148.49,602.35 148.50,602.65 148.52,602.95 148.53,603.25 148.54,603.55 148.55,603.84 148.57,604.14 148.59,604.44 148.61,604.74 148.63,605.04 148.65,605.34 148.68,605.64 148.71,605.94 148.74,606.24 148.77,606.54 148.80,606.83 148.83,607.13 148.86,607.43 148.89,607.73 148.92,608.03 148.94,608.33 148.97,608.62 149.00,608.92 149.03,609.22 149.06,609.52 149.09,609.82 149.12,610.12 149.15,610.42 149.19,610.71 149.22,611.01 149.25,611.31 149.29,611.61 149.33,611.90 149.38,612.20 149.43,612.49 149.49,612.78 149.56,613.08 149.63,613.37 149.71,613.65 149.79,613.94 149.88,614.23 149.98,614.51 150.08,614.78 150.19,615.04 150.32,615.29 150.46,615.51 150.61,615.70 150.77,615.84 150.92,615.93 151.07,615.95 151.21,615.91 151.34,615.81 151.47,615.65 151.60,615.46 151.73,615.23 151.87,614.99 152.01,614.74 152.15,614.48 152.29,614.22 152.43,613.96 152.56,613.69 152.69,613.42 152.81,613.15 152.93,612.87 153.05,612.60 153.16,612.32 153.27,612.04 153.37,611.76 153.47,611.48 153.58,611.19 153.68,610.91 153.77,610.63 153.87,610.35 153.97,610.06 154.07,609.78 154.17,609.49 154.26,609.21 154.36,608.93 154.45,608.64 154.55,608.36 154.65,608.07 154.75,607.79 154.84,607.51 154.94,607.22 155.04,606.94 155.14,606.66 155.24,606.37 155.34,606.09 155.44,605.81 155.54,605.52 155.64,605.24 155.74,604.96 155.85,604.68 155.96,604.40 156.06,604.12 156.17,603.84 156.29,603.56 156.40,603.28 156.51,603.01 156.63,602.73 156.75,602.46 156.87,602.18 157.00,601.91 157.12,601.64 157.25,601.37 157.38,601.10 157.52,600.83 157.65,600.56 157.79,600.30 157.93,600.03 158.08,599.77 158.23,599.51 158.37,599.25 158.52,598.99 158.68,598.73 158.83,598.47 158.98,598.21 159.14,597.96 159.30,597.70 159.46,597.45 159.62,597.20 159.79,596.95 159.95,596.70 160.12,596.45 160.29,596.20 160.46,595.95 160.63,595.71 160.80,595.46 160.98,595.22 161.15,594.97 161.32,594.73 161.49,594.48 161.66,594.23 161.83,593.99 162.00,593.74 162.16,593.49 162.32,593.23 162.49,592.98 162.64,592.73 162.80,592.47 162.96,592.21 163.11,591.96 163.26,591.70 163.42,591.44 163.56,591.18 163.71,590.92 163.86,590.66 164.01,590.39 164.15,590.13 164.29,589.87 164.44,589.60 164.58,589.34 164.72,589.08 164.86,588.81 165.00,588.55 165.14,588.28 165.29,588.02 165.43,587.75 165.57,587.49 165.71,587.22 165.85,586.96 165.99,586.69 166.13,586.43 166.27,586.16 166.41,585.90 166.54,585.63 166.68,585.36 166.81,585.09 166.94,584.82 167.07,584.55 167.20,584.28 167.33,584.01 167.46,583.74 167.58,583.47 167.70,583.19 167.83,582.92 167.95,582.64 168.07,582.37 168.18,582.09 168.30,581.82 168.42,581.54 168.53,581.26 168.64,580.98 168.75,580.70 168.86,580.43 168.97,580.15 169.08,579.87 169.19,579.59 169.30,579.31 169.40,579.03 169.51,578.75 169.61,578.46 169.72,578.18 169.82,577.90 169.92,577.62 170.03,577.34 170.13,577.06 170.23,576.77 170.33,576.49 170.43,576.21 170.54,575.93 170.64,575.64 170.74,575.36 170.84,575.08 170.94,574.80 171.04,574.52 171.15,574.23 171.25,573.95 171.35,573.67 171.45,573.39 171.55,573.10 171.65,572.82 171.76,572.54 171.86,572.26 171.96,571.98 172.06,571.69 172.17,571.41 172.27,571.13 172.38,570.85 172.48,570.57 172.59,570.29 172.69,570.01 172.80,569.73 172.91,569.45 173.02,569.17 173.12,568.89 173.23,568.61 173.34,568.33 173.45,568.05 173.57,567.77 173.68,567.49 173.79,567.22 173.90,566.94 174.02,566.66 174.13,566.38 174.25,566.11 174.37,565.83 174.48,565.55 174.60,565.28 174.72,565.00 174.84,564.73 174.96,564.45 175.08,564.18 175.21,563.91 175.33,563.63 175.45,563.36 175.58,563.09 175.70,562.81 175.83,562.54 175.95,562.27 176.08,561.99 176.20,561.72 176.33,561.45 176.45,561.18 176.58,560.91 176.71,560.63 176.84,560.36 176.96,560.09 177.09,559.82 177.22,559.55 177.35,559.28 177.48,559.01 177.61,558.74 177.75,558.47 177.88,558.20 178.01,557.93 178.14,557.66 178.28,557.40 178.41,557.13 178.55,556.86 178.68,556.59 178.82,556.32 178.96,556.06 179.10,555.79 179.23,555.53 179.37,555.26 179.51,554.99 179.65,554.73 179.79,554.46 179.93,554.20 180.08,553.93 180.22,553.67 180.36,553.40 180.50,553.14 180.64,552.88 180.78,552.61 180.92,552.35 181.06,552.08 181.20,551.82 181.34,551.55 181.49,551.29 181.63,551.02 181.77,550.76 181.91,550.49 182.05,550.23 182.19,549.96 182.33,549.69 182.46,549.43 182.60,549.16 182.74,548.90 182.88,548.63 183.02,548.37 183.16,548.10 183.30,547.83 183.44,547.57 183.57,547.30 183.71,547.03 183.85,546.77 183.99,546.50 184.13,546.24 184.27,545.97 184.41,545.70 184.55,545.44 184.69,545.17 184.83,544.91 184.97,544.65 185.12,544.39 185.27,544.12 185.42,543.86 185.57,543.61 185.72,543.35 185.88,543.09 186.03,542.84 186.19,542.58 186.36,542.33 186.52,542.08 186.69,541.83 186.86,541.58 187.03,541.33 187.20,541.09 187.38,540.85 187.55,540.61 187.73,540.37 187.91,540.13 188.10,539.89 188.28,539.65 188.46,539.41 188.64,539.17 188.83,538.94 189.01,538.70 189.19,538.46 189.37,538.22 189.55,537.98 189.73,537.74 189.91,537.50 190.08,537.25 190.26,537.01 190.44,536.77 190.61,536.52 190.79,536.28 190.96,536.04 191.13,535.79 191.31,535.55 191.48,535.30 191.65,535.06 191.82,534.81 191.99,534.56 192.16,534.31 192.32,534.06 192.48,533.81 192.64,533.55 192.80,533.30 192.95,533.04 193.10,532.78 193.25,532.52 193.40,532.26 193.54,531.99 193.68,531.73 193.82,531.47 193.96,531.20 194.10,530.93 194.23,530.66 194.36,530.39 194.49,530.12 194.62,529.85 194.75,529.58 194.87,529.31 195.00,529.04 195.12,528.76 195.23,528.48 195.35,528.21 195.46,527.93 195.57,527.65 195.68,527.37 195.79,527.09 195.90,526.81 196.00,526.53 196.11,526.25 196.21,525.97 196.31,525.69 196.41,525.40 196.51,525.12 196.61,524.84 196.71,524.55 196.80,524.27 196.90,523.98 196.99,523.70 197.08,523.41 197.18,523.13 197.27,522.84 197.36,522.56 197.45,522.27 197.54,521.99 197.63,521.70 197.73,521.41 197.82,521.13 197.92,520.85 198.01,520.56 198.11,520.28 198.21,520.00 198.32,519.72 198.42,519.44 198.53,519.17 198.64,518.90 198.75,518.66 198.86,518.44 198.96,518.27 199.05,518.16 199.13,518.11 199.19,518.14 199.24,518.24 199.27,518.41 199.29,518.63 199.30,518.88 199.31,519.16 199.31,519.45 199.32,519.74 199.32,520.04 199.32,520.34 199.32,520.64 199.33,520.94 199.33,521.24 199.33,521.54 199.33,521.84 199.33,522.14 199.34,522.44 199.34,522.74 199.34,523.04 199.34,523.34 199.35,523.64 199.35,523.94 199.35,524.24 199.35,524.54 199.35,524.84 199.36,525.14 199.36,525.44 199.36,525.74 199.36,526.04 199.36,526.34 199.37,526.64 199.37,526.94 199.37,527.24 199.37,527.54 199.38,527.84 199.38,528.14 199.38,528.44 199.38,528.74 199.38,529.04 199.39,529.34 199.39,529.64 199.39,529.94 199.39,530.24 199.40,530.54 199.40,530.84 199.40,531.14 199.40,531.44 199.40,531.74 199.41,532.04 199.41,532.34 199.41,532.64 199.41,532.94 199.42,533.24 199.42,533.54 199.42,533.84 199.42,534.14 199.42,534.44 199.43,534.74 199.43,535.04 199.43,535.34 199.43,535.64 199.43,535.94 199.44,536.24 199.44,536.54 199.44,536.84 199.44,537.14 199.45,537.44 199.45,537.74 199.45,538.04 199.45,538.34 199.45,538.64 199.46,538.94 199.46,539.24 199.46,539.54 199.46,539.84 199.47,540.14 199.47,540.44 199.47,540.74 199.47,541.04 199.47,541.34 199.48,541.64 199.48,541.94 199.48,542.24 199.48,542.54 199.48,542.84 199.49,543.14 199.49,543.44 199.49,543.74 199.49,544.04 199.50,544.34 199.50,544.64 199.50,544.94 199.50,545.24 199.50,545.54 199.51,545.84 199.51,546.14 199.51,546.44 199.51,546.74 199.52,547.04 199.52,547.34 199.52,547.64 199.52,547.94 199.52,548.24 199.53,548.54 199.53,548.84 199.53,549.14 199.53,549.44 199.53,549.74 199.54,550.04 199.54,550.34 199.54,550.64 199.54,550.94 199.55,551.24 199.55,551.54 199.55,551.84 199.55,552.14 199.55,552.44 199.56,552.74 199.56,553.04 199.56,553.34 199.57,553.64 199.57,553.94 199.57,554.24 199.58,554.54 199.58,554.84 199.58,555.14 199.59,555.44 199.59,555.74 199.59,556.04 199.60,556.34 199.60,556.64 199.60,556.94 199.61,557.24 199.61,557.54 199.61,557.84 199.62,558.14 199.62,558.44 199.62,558.74 199.63,559.04 199.63,559.34 199.63,559.64 199.64,559.94 199.64,560.24 199.64,560.54 199.65,560.84 199.65,561.14 199.65,561.44 199.66,561.74 199.66,562.04 199.66,562.34 199.67,562.64 199.67,562.94 199.67,563.24 199.68,563.54 199.68,563.84 199.68,564.14 199.69,564.44 199.69,564.74 199.69,565.04 199.70,565.34 199.70,565.64 199.70,565.94 199.71,566.24 199.71,566.54 199.71,566.84 199.72,567.14 199.72,567.44 199.73,567.74 199.73,568.04 199.73,568.34 199.74,568.64 199.74,568.94 199.74,569.24 199.75,569.54 199.75,569.84 199.75,570.14 199.76,570.44 199.76,570.74 199.76,571.04 199.77,571.34 199.77,571.64 199.77,571.94 199.78,572.24 199.78,572.54 199.78,572.84 199.79,573.14 199.79,573.44 199.79,573.74 199.80,574.04 199.80,574.34 199.80,574.64 199.81,574.94 199.81,575.24 199.81,575.54 199.82,575.84 199.82,576.14 199.82,576.44 199.83,576.74 199.83,577.04 199.83,577.34 199.84,577.64 199.84,577.94 199.84,578.24 199.85,578.54 199.85,578.84 199.85,579.14 199.86,579.44 199.86,579.74 199.87,580.04 199.87,580.34 199.87,580.64 199.88,580.94 199.88,581.24 199.88,581.54 199.89,581.84 199.89,582.14 199.89,582.44 199.90,582.74 199.90,583.04 199.90,583.34 199.91,583.64 199.91,583.94 199.91,584.24 199.92,584.54 199.92,584.84 199.92,585.14 199.93,585.44 199.93,585.74 199.93,586.04 199.94,586.34 199.94,586.64 199.95,586.94 199.95,587.24 199.96,587.54 199.97,587.84 199.98,588.14 199.99,588.44 200.00,588.74 200.01,589.04 200.02,589.34 200.03,589.64 200.04,589.94 200.05,590.24 200.06,590.54 200.08,590.84 200.09,591.14 200.10,591.44 200.11,591.74 200.12,592.04 200.13,592.33 200.14,592.63 200.16,592.93 200.17,593.23 200.18,593.53 200.19,593.83 200.20,594.13 200.21,594.43 200.22,594.73 200.23,595.03 200.25,595.33 200.26,595.63 200.27,595.93 200.28,596.23 200.29,596.53 200.30,596.83 200.31,597.13 200.33,597.43 200.34,597.73 200.35,598.03 200.36,598.33 200.37,598.63 200.38,598.93 200.39,599.23 200.41,599.53 200.42,599.83 200.43,600.13 200.44,600.43 200.45,600.73 200.46,601.03 200.47,601.33 200.48,601.63 200.50,601.93 200.51,602.23 200.52,602.53 200.53,602.83 200.54,603.13 200.55,603.43 200.57,603.73 200.58,604.03 200.60,604.33 200.62,604.62 200.64,604.92 200.66,605.22 200.69,605.52 200.72,605.82 200.75,606.12 200.77,606.42 200.80,606.72 200.83,607.01 200.86,607.31 200.89,607.61 200.92,607.91 200.95,608.21 200.98,608.51 201.01,608.81 201.04,609.10 201.07,609.40 201.10,609.70 201.13,610.00 201.16,610.30 201.19,610.60 201.22,610.89 201.26,611.19 201.29,611.49 201.33,611.79 201.38,612.08 201.43,612.38 201.49,612.67 201.55,612.96 201.62,613.25 201.70,613.54 201.78,613.83 201.87,614.11 201.96,614.40 202.06,614.67 202.17,614.94 202.29,615.20 202.42,615.43 202.57,615.63 202.72,615.79 202.88,615.90 203.03,615.95 203.18,615.94 203.31,615.86 203.44,615.72 203.57,615.54 203.70,615.32 203.83,615.09 203.97,614.84 204.11,614.59 204.26,614.33 204.39,614.06 204.53,613.80 204.66,613.53 204.79,613.26 204.91,612.98 205.02,612.71 205.13,612.43 205.24,612.15 205.35,611.87 205.45,611.59 205.56,611.31 205.66,611.02 205.76,610.74 205.85,610.46 205.95,610.17 206.05,609.89 206.15,609.61 206.24,609.32 206.34,609.04 206.44,608.75 206.53,608.47 206.63,608.19 206.73,607.90 206.82,607.62 206.92,607.33 207.02,607.05 207.12,606.77 207.22,606.48 207.32,606.20 207.42,605.92 207.52,605.64 207.62,605.35 207.72,605.07 207.83,604.79 207.93,604.51 208.04,604.23 208.15,603.95 208.26,603.67 208.37,603.39 208.49,603.12 208.60,602.84 208.72,602.56 208.84,602.29 208.97,602.02 209.09,601.74 209.22,601.47 209.35,601.20 209.48,600.93 209.62,600.67 209.76,600.40 209.90,600.14 210.04,599.87 210.19,599.61 210.34,599.35 210.48,599.09 210.64,598.83 210.79,598.57 210.94,598.32 211.10,598.06 211.26,597.80 211.42,597.55 211.58,597.30 211.74,597.05 211.91,596.80 212.07,596.55 212.24,596.30 212.41,596.05 212.58,595.81 212.76,595.56 212.93,595.32 213.10,595.07 213.27,594.82 213.45,594.58 213.62,594.33 213.79,594.08 213.95,593.83 214.12,593.58 214.28,593.33 214.44,593.08 214.60,592.83 214.76,592.57 214.92,592.32 215.07,592.06 215.22,591.80 215.38,591.54 215.53,591.28 215.67,591.02 215.82,590.76 215.97,590.50 216.11,590.24 216.26,589.97 216.40,589.71 216.54,589.44 216.68,589.18 216.83,588.92 216.97,588.65 217.11,588.39 217.25,588.12 217.39,587.86 217.53,587.59 217.67,587.33 217.81,587.06 217.95,586.80 218.09,586.53 218.23,586.27 218.37,586.00 218.51,585.73 218.65,585.47 218.78,585.20 218.91,584.93 219.04,584.66 219.17,584.39 219.30,584.12 219.43,583.85 219.55,583.57 219.68,583.30 219.80,583.03 219.92,582.75 220.04,582.48 220.16,582.20 220.27,581.92 220.39,581.65 220.50,581.37 220.62,581.09 220.73,580.81 220.84,580.54 220.95,580.26 221.06,579.98 221.17,579.70 221.28,579.42 221.38,579.14 221.49,578.86 221.59,578.58 221.70,578.29 221.80,578.01 221.90,577.73 222.01,577.45 222.11,577.17 222.21,576.88 222.31,576.60 222.41,576.32 222.52,576.04 222.62,575.76 222.72,575.47 222.82,575.19 222.92,574.91 223.02,574.63 223.13,574.34 223.23,574.06 223.33,573.78 223.43,573.50 223.53,573.22 223.63,572.93 223.74,572.65 223.84,572.37 223.94,572.09 224.04,571.81 224.15,571.52 224.25,571.24 224.35,570.96 224.46,570.68 224.57,570.40 224.67,570.12 224.78,569.84 224.88,569.56 224.99,569.28 225.10,569.00 225.21,568.72 225.32,568.44 225.43,568.16 225.54,567.88 225.65,567.60 225.77,567.33 225.88,567.05 225.99,566.77 226.11,566.49 226.22,566.22 226.34,565.94 226.46,565.66 226.57,565.39 226.69,565.11 226.81,564.84 226.93,564.56 227.06,564.29 227.18,564.01 227.30,563.74 227.42,563.47 227.55,563.19 227.67,562.92 227.80,562.65 227.92,562.37 228.05,562.10 228.17,561.83 228.30,561.56 228.42,561.29 228.55,561.01 228.68,560.74 228.81,560.47 228.93,560.20 229.06,559.93 229.19,559.66 229.32,559.39 229.45,559.12 229.58,558.85 229.71,558.58 229.85,558.31 229.98,558.04 230.11,557.77 230.25,557.50 230.38,557.23 230.51,556.96 230.65,556.70 230.79,556.43 230.92,556.16 231.06,555.90 231.20,555.63 231.34,555.36 231.48,555.10 231.62,554.83 231.76,554.57 231.90,554.30 232.04,554.04 232.18,553.77 232.32,553.51 232.46,553.24 232.60,552.98 232.75,552.72 232.89,552.45 233.03,552.19 233.17,551.92 233.31,551.66 233.45,551.39 233.59,551.13 233.73,550.86 233.87,550.60 234.01,550.33 234.15,550.06 234.29,549.80 234.43,549.53 234.57,549.27 234.71,549.00 234.85,548.74 234.99,548.47 235.12,548.20 235.26,547.94 235.40,547.67 235.54,547.41 235.68,547.14 235.82,546.87 235.95,546.61 236.09,546.34 236.23,546.07 236.37,545.81 236.51,545.54 236.65,545.28 236.79,545.01 236.94,544.75 237.08,544.49 237.23,544.23 237.38,543.97 237.53,543.71 237.68,543.45 237.84,543.19 237.99,542.94 238.15,542.68 238.31,542.43 238.47,542.18 238.64,541.93 238.81,541.68 238.98,541.43 239.15,541.19 239.33,540.94 239.50,540.70 239.68,540.46 239.86,540.22 240.05,539.98 240.23,539.74 240.41,539.51 240.59,539.27 240.77,539.03 240.96,538.79 241.14,538.55 241.32,538.31 241.50,538.07 241.68,537.83 241.86,537.59 242.03,537.35 242.21,537.11 242.39,536.86 242.56,536.62 242.74,536.38 242.91,536.13 243.09,535.89 243.26,535.64 243.43,535.40 243.60,535.15 243.77,534.91 243.94,534.66 244.11,534.41 244.27,534.16 244.44,533.91 244.60,533.65 244.75,533.40 244.91,533.14 245.06,532.88 245.21,532.62 245.36,532.36 245.50,532.10 245.65,531.83 245.79,531.57 245.93,531.30 246.06,531.04 246.20,530.77 246.33,530.50 246.46,530.23 246.59,529.96 246.72,529.69 246.84,529.42 246.97,529.14 247.09,528.87 247.21,528.59 247.32,528.32 247.44,528.04 247.55,527.76 247.66,527.48 247.77,527.20 247.88,526.92 247.98,526.64 248.09,526.36 248.19,526.08 248.29,525.80 248.39,525.51 248.49,525.23 248.59,524.95 248.69,524.66 248.78,524.38 248.88,524.10 248.97,523.81 249.07,523.53 249.16,523.24 249.25,522.96 249.34,522.67 249.43,522.38 249.52,522.10 249.62,521.81 249.71,521.53 249.80,521.24 249.90,520.96 249.99,520.67 250.09,520.39 250.19,520.11 250.30,519.83 250.40,519.55 250.51,519.27 250.62,519.01 250.73,518.75 250.84,518.52 250.94,518.33 251.04,518.19 251.12,518.12 251.19,518.12 251.24,518.19 251.28,518.34 251.30,518.54 251.32,518.78 251.33,519.05 251.33,519.33 251.34,519.63 251.34,519.92 251.34,520.22 251.34,520.52 251.34,520.82 251.35,521.12 251.35,521.42 251.35,521.72 251.35,522.02 251.36,522.32 251.36,522.62 251.36,522.92 251.36,523.22 251.36,523.52 251.37,523.82 251.37,524.12 251.37,524.42 251.37,524.72 251.38,525.02 251.38,525.32 251.38,525.62 251.38,525.92 251.38,526.22 251.39,526.52 251.39,526.82 251.39,527.12 251.39,527.42 251.39,527.72 251.40,528.02 251.40,528.32 251.40,528.62 251.40,528.92 251.41,529.22 251.41,529.52 251.41,529.82 251.41,530.12 251.41,530.42 251.42,530.72 251.42,531.02 251.42,531.32 251.42,531.62 251.43,531.92 251.43,532.22 251.43,532.52 251.43,532.82 251.43,533.12 251.44,533.42 251.44,533.72 251.44,534.02 251.44,534.32 251.45,534.62 251.45,534.92 251.45,535.22 251.45,535.52 251.45,535.82 251.46,536.12 251.46,536.42 251.46,536.72 251.46,537.02 251.46,537.32 251.47,537.62 251.47,537.92 251.47,538.22 251.47,538.52 251.48,538.82 251.48,539.12 251.48,539.42 251.48,539.72 251.48,540.02 251.49,540.32 251.49,540.62 251.49,540.92 251.49,541.22 251.50,541.52 251.50,541.82 251.50,542.12 251.50,542.42 251.50,542.72 251.51,543.02 251.51,543.32 251.51,543.62 251.51,543.92 251.51,544.22 251.52,544.52 251.52,544.82 251.52,545.12 251.52,545.42 251.53,545.72 251.53,546.02 251.53,546.32 251.53,546.62 251.53,546.92 251.54,547.22 251.54,547.52 251.54,547.82 251.54,548.12 251.55,548.42 251.55,548.72 251.55,549.02 251.55,549.32 251.55,549.62 251.56,549.92 251.56,550.22 251.56,550.52 251.56,550.82 251.56,551.12 251.57,551.42 251.57,551.72 251.57,552.02 251.57,552.32 251.58,552.62 251.58,552.92 251.58,553.22 251.58,553.52 251.59,553.82 251.59,554.12 251.59,554.42 251.60,554.72 251.60,555.02 251.60,555.32 251.61,555.62 251.61,555.92 251.61,556.22 251.62,556.52 251.62,556.82 251.62,557.12 251.63,557.42 251.63,557.72 251.63,558.02 251.64,558.32 251.64,558.62 251.64,558.92 251.65,559.22 251.65,559.52 251.66,559.82 251.66,560.12 251.66,560.42 251.67,560.72 251.67,561.02 251.67,561.32 251.68,561.62 251.68,561.92 251.68,562.22 251.69,562.52 251.69,562.82 251.69,563.12 251.70,563.42 251.70,563.72 251.70,564.02 251.71,564.32 251.71,564.62 251.71,564.92 251.72,565.22 251.72,565.52 251.72,565.82 251.73,566.12 251.73,566.42 251.73,566.72 251.74,567.02 251.74,567.32 251.74,567.62 251.75,567.92 251.75,568.22 251.75,568.52 251.76,568.82 251.76,569.12 251.76,569.42 251.77,569.72 251.77,570.02 251.77,570.32 251.78,570.62 251.78,570.92 251.78,571.22 251.79,571.52 251.79,571.82 251.80,572.12 251.80,572.42 251.80,572.72 251.81,573.02 251.81,573.32 251.81,573.62 251.82,573.92 251.82,574.22 251.82,574.52 251.83,574.82 251.83,575.12 251.83,575.42 251.84,575.72 251.84,576.02 251.84,576.32 251.85,576.62 251.85,576.92 251.85,577.22 251.86,577.52 251.86,577.82 251.86,578.12 251.87,578.42 251.87,578.72 251.87,579.02 251.88,579.32 251.88,579.62 251.88,579.92 251.89,580.22 251.89,580.52 251.89,580.82 251.90,581.12 251.90,581.42 251.90,581.72 251.91,582.02 251.91,582.32 251.91,582.62 251.92,582.92 251.92,583.22 251.92,583.52 251.93,583.82 251.93,584.12 251.93,584.42 251.94,584.72 251.94,585.02 251.95,585.32 251.95,585.62 251.95,585.92 251.96,586.22 251.96,586.52 251.97,586.82 251.97,587.12 251.98,587.42 251.98,587.72 251.99,588.02 252.00,588.32 252.01,588.62 252.02,588.92 252.03,589.22 252.05,589.52 252.06,589.82 252.07,590.12 252.08,590.42 252.09,590.72 252.10,591.02 252.11,591.32 252.13,591.62 252.14,591.92 252.15,592.22 252.16,592.52 252.17,592.82 252.18,593.12 252.19,593.42 252.20,593.72 252.22,594.02 252.23,594.32 252.24,594.61 252.25,594.91 252.26,595.21 252.27,595.51 252.28,595.81 252.30,596.11 252.31,596.41 252.32,596.71 252.33,597.01 252.34,597.31 252.35,597.61 252.36,597.91 252.38,598.21 252.39,598.51 252.40,598.81 252.41,599.11 252.42,599.41 252.43,599.71 252.44,600.01 252.45,600.31 252.47,600.61 252.48,600.91 252.49,601.21 252.50,601.51 252.51,601.81 252.52,602.11 252.53,602.41 252.55,602.71 252.56,603.01 252.57,603.31 252.58,603.61 252.60,603.91 252.61,604.21 252.63,604.51 252.65,604.81 252.67,605.10 252.70,605.40 252.73,605.70 252.75,606.00 252.78,606.30 252.81,606.60 252.84,606.90 252.87,607.20 252.90,607.49 252.93,607.79 252.96,608.09 252.99,608.39 253.02,608.69 253.05,608.99 253.08,609.28 253.11,609.58 253.14,609.88 253.17,610.18 253.20,610.48 253.23,610.78 253.26,611.08 253.30,611.37 253.34,611.67 253.38,611.97 253.43,612.26 253.48,612.55 253.55,612.85 253.61,613.14 253.69,613.43 253.77,613.72 253.85,614.00 253.94,614.29 254.04,614.57 254.14,614.84 254.26,615.10 254.39,615.34 254.53,615.56 254.68,615.73 254.84,615.87 254.99,615.94 255.14,615.95 255.28,615.90 255.41,615.78 255.54,615.62 255.67,615.41 255.80,615.18 255.94,614.94 256.08,614.69 256.22,614.43 256.36,614.17 256.50,613.90 256.63,613.64 256.76,613.36 256.88,613.09 257.00,612.82 257.11,612.54 257.22,612.26 257.33,611.98 257.43,611.70 257.54,611.42 257.64,611.13 257.74,610.85 257.84,610.57 257.93,610.29 258.03,610.00 258.13,609.72 258.23,609.43 258.32,609.15 258.42,608.87 258.52,608.58 258.61,608.30 258.71,608.01 258.81,607.73 258.90,607.45 259.00,607.16 259.10,606.88 259.20,606.60 259.30,606.31 259.40,606.03 259.50,605.75 259.60,605.46 259.70,605.18 259.81,604.90 259.91,604.62 260.02,604.34 260.13,604.06 260.24,603.78 260.35,603.50 260.46,603.23 260.58,602.95 260.70,602.67 260.82,602.40 260.94,602.12 261.06,601.85 261.19,601.58 261.32,601.31 261.45,601.04 261.58,600.77 261.72,600.51 261.86,600.24 262.01,599.98 262.15,599.71 262.30,599.45 262.45,599.19 262.60,598.93 262.75,598.67 262.90,598.42 263.06,598.16 263.21,597.90 263.37,597.65 263.53,597.40 263.70,597.15 263.86,596.89 264.03,596.64 264.19,596.40 264.36,596.15 264.54,595.90 264.71,595.66 264.88,595.41 265.05,595.17 265.23,594.92 265.40,594.68 265.57,594.43 265.74,594.18 265.91,593.93 266.07,593.68 266.24,593.43 266.40,593.18 266.56,592.93 266.72,592.67 266.88,592.42 267.03,592.16 267.18,591.90 267.34,591.64 267.49,591.38 267.64,591.12 267.78,590.86 267.93,590.60 268.08,590.34 268.22,590.08 268.36,589.81 268.51,589.55 268.65,589.28 268.79,589.02 268.93,588.76 269.07,588.49 269.21,588.23 269.36,587.96 269.50,587.70 269.64,587.43 269.78,587.17 269.92,586.90 270.06,586.64 270.20,586.37 270.34,586.11 270.48,585.84 270.61,585.57 270.75,585.30 270.88,585.04 271.01,584.77 271.14,584.50 271.27,584.23 271.40,583.95 271.52,583.68 271.65,583.41 271.77,583.13 271.89,582.86 272.01,582.58 272.13,582.31 272.25,582.03 272.36,581.76 272.48,581.48 272.59,581.20 272.71,580.92 272.82,580.65 272.93,580.37 273.04,580.09 273.15,579.81 273.25,579.53 273.36,579.25 273.47,578.97 273.57,578.69 273.68,578.40 273.78,578.12 273.88,577.84 273.98,577.56 274.09,577.28 274.19,577.00 274.29,576.71 274.39,576.43 274.49,576.15 274.60,575.87 274.70,575.58 274.80,575.30 274.90,575.02 275.00,574.74 275.11,574.46 275.21,574.17 275.31,573.89 275.41,573.61 275.51,573.33 275.61,573.04 275.72,572.76 275.82,572.48 275.92,572.20 276.02,571.92 276.13,571.63 276.23,571.35 276.33,571.07 276.44,570.79 276.54,570.51 276.65,570.23 276.76,569.95 276.86,569.67 276.97,569.39 277.08,569.11 277.19,568.83 277.30,568.55 277.41,568.27 277.52,567.99 277.63,567.71 277.74,567.43 277.85,567.16 277.97,566.88 278.08,566.60 278.20,566.33 278.31,566.05 278.43,565.77 278.55,565.50 278.67,565.22 278.79,564.95 278.91,564.67 279.03,564.40 279.15,564.12 279.27,563.85 279.39,563.57 279.52,563.30 279.64,563.03 279.77,562.76 279.89,562.48 280.02,562.21 280.14,561.94 280.27,561.66 280.39,561.39 280.52,561.12 280.65,560.85 280.78,560.58 280.90,560.31 281.03,560.03 281.16,559.76 281.29,559.49 281.42,559.22 281.55,558.95 281.68,558.68 281.81,558.41 281.95,558.14 282.08,557.88 282.21,557.61 282.35,557.34 282.48,557.07 282.62,556.80 282.75,556.54 282.89,556.27 283.03,556.00 283.16,555.74 283.30,555.47 283.44,555.20 283.58,554.94 283.72,554.67 283.86,554.41 284.00,554.14 284.15,553.88 284.29,553.61 284.43,553.35 284.57,553.08 284.71,552.82 284.85,552.55 284.99,552.29 285.13,552.03 285.27,551.76 285.41,551.50 285.56,551.23 285.70,550.97 285.84,550.70 285.98,550.43 286.12,550.17 286.26,549.90 286.39,549.64 286.53,549.37 286.67,549.11 286.81,548.84 286.95,548.57 287.09,548.31 287.23,548.04 287.37,547.78 287.51,547.51 287.64,547.24 287.78,546.98 287.92,546.71 288.06,546.45 288.20,546.18 288.34,545.91 288.48,545.65 288.62,545.38 288.76,545.12 288.90,544.85 289.05,544.59 289.19,544.33 289.34,544.07 289.49,543.81 289.64,543.55 289.79,543.29 289.95,543.04 290.11,542.78 290.27,542.53 290.43,542.28 290.59,542.03 290.76,541.78 290.93,541.53 291.10,541.28 291.28,541.04 291.45,540.80 291.63,540.56 291.81,540.32 291.99,540.08 292.18,539.84 292.36,539.60 292.54,539.36 292.72,539.12 292.91,538.89 293.09,538.65 293.27,538.41 293.45,538.17 293.63,537.93 293.81,537.69 293.98,537.44 294.16,537.20 294.34,536.96 294.51,536.72 294.69,536.47 294.86,536.23 295.04,535.99 295.21,535.74 295.38,535.50 295.56,535.25 295.73,535.00 295.90,534.76 296.06,534.51 296.23,534.26 296.39,534.01 296.55,533.75 296.71,533.50 296.87,533.24 297.02,532.98 297.17,532.72 297.32,532.46 297.47,532.20 297.61,531.94 297.75,531.67 297.89,531.41 298.03,531.14 298.16,530.88 298.30,530.61 298.43,530.34 298.56,530.07 298.69,529.80 298.82,529.52 298.94,529.25 299.06,528.98 299.18,528.70 299.30,528.43 299.41,528.15 299.53,527.87 299.64,527.59 299.75,527.31 299.85,527.03 299.96,526.75 300.07,526.47 300.17,526.19 300.27,525.91 300.37,525.63 300.47,525.34 300.57,525.06 300.67,524.78 300.77,524.49 300.86,524.21 300.96,523.92 301.05,523.64 301.14,523.35 301.24,523.07 301.33,522.78 301.42,522.50 301.51,522.21 301.60,521.93 301.69,521.64 301.79,521.35 301.88,521.07 301.98,520.79 302.07,520.50 302.17,520.22 302.28,519.94 302.38,519.66 302.49,519.38 302.60,519.11 302.71,518.85 302.81,518.61 302.92,518.40 303.02,518.24 303.11,518.14 303.18,518.11 303.24,518.15 303.28,518.27 303.31,518.45 303.33,518.68 303.34,518.94 303.35,519.22 303.35,519.51 303.35,519.81 303.35,520.10 303.36,520.40 303.36,520.70 303.36,521.00 303.36,521.30 303.36,521.60 303.36,521.90 303.37,522.20 303.37,522.50 303.37,522.80 303.37,523.10 303.37,523.40 303.37,523.70 303.38,524.00 303.38,524.30 303.38,524.60 303.38,524.90 303.38,525.20 303.38,525.50 303.39,525.80 303.39,526.10 303.39,526.40 303.39,526.70 303.39,527.00 303.39,527.30 303.39,527.60 303.40,527.90 303.40,528.20 303.40,528.50 303.40,528.80 303.40,529.10 303.40,529.40 303.41,529.70 303.41,530.00 303.41,530.30 303.41,530.60 303.41,530.90 303.41,531.20 303.42,531.50 303.42,531.80 303.42,532.10 303.42,532.40 303.42,532.70 303.42,533.00 303.43,533.30 303.43,533.60 303.43,533.90 303.43,534.20 303.43,534.50 303.43,534.80 303.44,535.10 303.44,535.40 303.44,535.70 303.44,536.00 303.44,536.30 303.44,536.60 303.45,536.90 303.45,537.20 303.45,537.50 303.45,537.80 303.45,538.10 303.45,538.40 303.45,538.70 303.46,539.00 303.46,539.30 303.46,539.60 303.46,539.90 303.46,540.20 303.46,540.50 303.47,540.80 303.47,541.10 303.47,541.40 303.47,541.70 303.47,542.00 303.47,542.30 303.48,542.60 303.48,542.90 303.48,543.20 303.48,543.50 303.48,543.80 303.48,544.10 303.49,544.40 303.49,544.70 303.49,545.00 303.49,545.30 303.49,545.60 303.49,545.90 303.50,546.20 303.50,546.50 303.50,546.80 303.50,547.10 303.50,547.40 303.50,547.70 303.50,548.00 303.51,548.30 303.51,548.60 303.51,548.90 303.51,549.20 303.51,549.50 303.51,549.80 303.52,550.10 303.52,550.40 303.52,550.70 303.52,551.00 303.52,551.30 303.52,551.60 303.53,551.90 303.53,552.20 303.53,552.50 303.53,552.80 303.53,553.10 303.53,553.40 303.54,553.70 303.54,554.00 303.54,554.30 303.54,554.60 303.54,554.90 303.54,555.20 303.55,555.50 303.55,555.80 303.55,556.10 303.55,556.40 303.55,556.70 303.55,557.00 303.55,557.30 303.56,557.60 303.56,557.90 303.56,558.20 303.56,558.50 303.56,558.80 303.56,559.10 303.57,559.40 303.57,559.70 303.57,560.00 303.57,560.30 303.57,560.60 303.57,560.90 303.58,561.20 303.58,561.50 303.58,561.80 303.58,562.10 303.58,562.40 303.58,562.70 303.59,563.00 303.59,563.30 303.59,563.60 303.59,563.90 303.59,564.20 303.59,564.50 303.60,564.80 303.60,565.10 303.60,565.40 303.61,565.70 303.61,566.00 303.61,566.30 303.62,566.60 303.63,566.90 303.63,567.20 303.64,567.50 303.64,567.80 303.65,568.10 303.66,568.40 303.66,568.70 303.67,569.00 303.68,569.30 303.68,569.60 303.69,569.90 303.69,570.20 303.70,570.50 303.71,570.80 303.71,571.10 303.72,571.40 303.73,571.70 303.73,572.00 303.74,572.30 303.74,572.60 303.75,572.90 303.76,573.20 303.76,573.50 303.77,573.80 303.78,574.10 303.78,574.40 303.79,574.70 303.79,575.00 303.80,575.30 303.81,575.60 303.81,575.90 303.82,576.20 303.83,576.50 303.83,576.80 303.84,577.10 303.84,577.40 303.85,577.70 303.86,578.00 303.86,578.30 303.87,578.60 303.88,578.90 303.88,579.20 303.89,579.50 303.89,579.80 303.90,580.10 303.91,580.40 303.91,580.70 303.92,581.00 303.93,581.30 303.93,581.60 303.94,581.90 303.94,582.20 303.95,582.50 303.96,582.80 303.96,583.10 303.97,583.40 303.98,583.70 303.98,584.00 303.99,584.30 303.99,584.60 304.00,584.90 304.01,585.20 304.01,585.50 304.02,585.80 304.03,586.10 304.03,586.40 304.04,586.70 304.04,587.00 304.05,587.30 304.06,587.60 304.06,587.90 304.07,588.20 304.08,588.50 304.08,588.80 304.09,589.10 304.09,589.40 304.10,589.70 304.11,590.00 304.11,590.30 304.12,590.60 304.13,590.90 304.13,591.20 304.14,591.50 304.14,591.80 304.15,592.10 304.16,592.40 304.16,592.70 304.17,593.00 304.18,593.30 304.18,593.60 304.19,593.90 304.19,594.20 304.20,594.50 304.21,594.80 304.21,595.10 304.22,595.40 304.23,595.70 304.24,596.00 304.25,596.30 304.26,596.60 304.27,596.90 304.29,597.20 304.31,597.50 304.33,597.79 304.35,598.09 304.37,598.39 304.39,598.69 304.42,598.99 304.44,599.29 304.47,599.59 304.49,599.89 304.51,600.19 304.54,600.49 304.56,600.79 304.59,601.08 304.61,601.38 304.63,601.68 304.66,601.98 304.68,602.28 304.70,602.58 304.73,602.88 304.75,603.18 304.78,603.48 304.80,603.78 304.82,604.07 304.85,604.37 304.87,604.67 304.90,604.97 304.92,605.27 304.94,605.57 304.97,605.87 304.99,606.17 305.02,606.47 305.04,606.77 305.06,607.07 305.09,607.36 305.11,607.66 305.13,607.96 305.16,608.26 305.18,608.56 305.21,608.86 305.23,609.16 305.25,609.45 305.28,609.74 305.30,610.02 305.32,610.28 305.34,610.52 305.36,610.73 305.37,610.90" fill="none" stroke="#7ab2dc" stroke-width="1.0" stroke-linejoin="round" opacity="1.0"/>
<polyline points="47.40,621.84 47.61,621.45 47.82,621.06 48.03,620.67 48.24,620.28 48.45,618.70 48.66,621.39 48.86,619.77 49.07,619.52 49.28,618.75 49.49,618.90 49.70,620.26 49.91,620.53 50.12,616.13 50.33,615.19 50.54,616.47 50.75,614.36 50.95,613.62 51.16,614.69 51.37,615.41 51.58,614.39 51.79,610.71 52.00,608.44 52.21,606.85 52.42,604.67 52.63,602.42 52.84,604.28 53.04,602.42 53.25,602.21 53.46,602.83 53.67,602.19 53.88,601.17 54.09,600.69 54.30,601.97 54.51,601.34 54.72,597.47 54.93,599.30 55.13,601.20 55.34,599.76 55.55,598.55 55.76,598.05 55.97,599.96 56.18,598.24 56.39,599.70 56.60,601.10 56.81,601.26 57.02,600.71 57.22,599.29 57.43,598.61 57.64,599.13 57.85,598.17 58.06,598.80 58.27,598.11 58.48,600.77 58.69,602.54 58.90,600.36 59.11,602.00 59.31,601.46 59.52,600.83 59.73,600.97 59.94,600.98 60.15,598.42 60.36,602.25 60.57,600.35 60.78,597.60 60.99,599.31 61.20,600.63 61.40,600.65 61.61,599.38 61.82,602.26 62.03,601.57 62.24,601.23 62.45,599.71 62.66,599.04 62.87,597.65 63.08,597.69 63.28,595.99 63.49,595.28 63.70,594.16 63.91,592.09 64.12,590.17 64.33,589.74 64.54,585.04 64.75,583.88 64.96,584.21 65.17,580.31 65.37,579.83 65.58,577.14 65.79,575.55 66.00,573.65 66.21,569.34 66.42,573.77 66.63,584.93 66.84,572.85 67.05,578.50 67.26,573.44 67.46,573.10 67.67,574.22 67.88,572.55 68.09,566.30 68.30,572.62 68.51,567.87 68.72,568.39 68.93,569.59 69.14,569.41 69.35,569.91 69.55,566.17 69.76,567.12 69.97,568.09 70.18,566.58 70.39,564.90 70.60,565.14 70.81,567.57 71.02,565.62 71.23,565.87 71.44,567.75 71.64,569.25 71.85,569.28 72.06,569.52 72.27,566.11 72.48,563.33 72.69,567.17 72.90,561.58 73.11,560.61 73.32,556.77 73.53,559.24 73.73,556.69 73.94,560.88 74.15,566.62 74.36,565.47 74.57,562.19 74.78,556.44 74.99,557.73 75.20,555.86 75.41,559.62 75.62,558.54 75.82,562.67 76.03,559.91 76.24,561.95 76.45,557.50 76.66,555.31 76.87,557.47 77.08,554.39 77.29,555.47 77.50,556.34 77.71,554.20 77.91,549.72 78.12,549.69 78.33,563.84 78.54,553.21 78.75,552.10 78.96,548.27 79.17,549.30 79.38,551.86 79.59,549.80 79.80,551.72 80.00,552.82 80.21,554.46 80.42,547.96 80.63,547.93 80.84,549.03 81.05,551.11 81.26,547.95 81.47,548.18 81.68,547.95 81.88,545.12 82.09,543.55 82.30,545.30 82.51,550.57 82.72,547.01 82.93,544.10 83.14,541.12 83.35,540.79 83.56,545.63 83.77,542.03 83.97,544.32 84.18,550.74 84.39,545.14 84.60,542.31 84.81,543.59 85.02,545.43 85.23,543.67 85.44,541.48 85.65,541.91 85.86,538.29 86.06,537.22 86.27,537.62 86.48,539.06 86.69,538.47 86.90,538.65 87.11,535.59 87.32,538.18 87.53,538.40 87.74,537.52 87.95,539.66 88.15,535.98 88.36,536.67 88.57,533.08 88.78,531.37 88.99,532.32 89.20,533.71 89.41,530.38 89.62,533.17 89.83,534.71 90.04,531.73 90.24,529.94 90.45,529.91 90.66,532.43 90.87,529.44 91.08,527.74 91.29,525.82 91.50,525.28 91.71,523.20 91.92,522.12 92.13,518.80 92.33,517.84 92.54,516.94 92.75,517.02 92.96,518.29 93.17,516.82 93.38,516.96 93.59,514.34 93.80,513.86 94.01,510.99 94.22,510.30 94.42,502.75 94.63,495.96 94.84,496.57 95.05,504.38 95.26,511.95 95.65,615.60 96.43,621.11 96.84,619.65 97.25,620.91 97.66,620.68 98.07,620.96 98.47,622.15 98.88,621.94 99.29,622.21 99.42,621.21 99.63,622.16 99.84,623.19 100.05,622.02 100.26,620.91 100.47,623.36 100.68,620.09 100.88,620.39 101.09,620.74 101.30,619.34 101.51,619.80 101.72,619.92 101.93,615.70 102.14,617.21 102.35,616.32 102.56,614.04 102.77,614.85 102.97,613.56 103.18,611.59 103.39,607.11 103.60,608.44 103.81,607.58 104.02,605.59 104.23,604.69 104.44,605.41 104.65,603.13 104.86,601.68 105.06,599.84 105.27,597.97 105.48,597.20 105.69,597.51 105.90,597.76 106.11,599.78 106.32,599.61 106.53,598.96 106.74,599.36 106.95,598.85 107.15,599.75 107.36,597.16 107.57,594.86 107.78,597.00 107.99,597.25 108.20,598.31 108.41,596.93 108.62,597.28 108.83,598.03 109.04,598.93 109.24,599.03 109.45,600.68 109.66,599.41 109.87,600.60 110.08,599.64 110.29,599.66 110.50,598.27 110.71,598.91 110.92,597.84 111.13,599.84 111.33,598.92 111.54,599.48 111.75,599.22 111.96,599.21 112.17,597.99 112.38,601.29 112.59,600.54 112.80,602.91 113.01,600.88 113.22,604.25 113.42,605.19 113.63,606.92 113.84,602.90 114.05,603.84 114.26,602.18 114.47,601.78 114.68,602.97 114.89,601.38 115.10,598.44 115.30,596.76 115.51,593.53 115.72,592.70 115.93,591.01 116.14,589.85 116.35,587.47 116.56,583.23 116.77,582.11 116.98,580.98 117.19,580.74 117.39,580.10 117.60,575.98 117.81,576.37 118.02,576.85 118.23,576.53 118.44,578.53 118.65,583.34 118.86,574.31 119.07,573.63 119.28,571.69 119.48,573.17 119.69,574.63 119.90,573.93 120.11,571.00 120.32,571.80 120.53,573.82 120.74,571.38 120.95,569.70 121.16,572.65 121.37,575.47 121.57,573.31 121.78,570.12 121.99,579.33 122.20,570.88 122.41,565.99 122.62,569.41 122.83,569.05 123.04,565.97 123.25,566.87 123.46,568.96 123.66,564.38 123.87,565.55 124.08,568.05 124.29,560.88 124.50,563.82 124.71,565.35 124.92,565.84 125.13,563.98 125.34,563.22 125.55,561.04 125.75,562.53 125.96,565.09 126.17,561.84 126.38,560.02 126.59,559.79 126.80,562.24 127.01,560.39 127.22,559.86 127.43,557.22 127.64,559.18 127.84,555.09 128.05,553.58 128.26,556.86 128.47,557.70 128.68,556.77 128.89,553.30 129.10,558.95 129.31,558.61 129.52,561.79 129.73,557.86 129.93,552.99 130.14,553.34 130.35,554.35 130.56,553.64 130.77,549.81 130.98,556.53 131.19,548.28 131.40,553.65 131.61,554.74 131.82,553.13 132.02,553.79 132.23,555.02 132.44,551.34 132.65,552.62 132.86,547.69 133.07,547.55 133.28,547.71 133.49,548.58 133.70,547.30 133.90,547.66 134.11,544.68 134.32,544.99 134.53,544.40 134.74,544.53 134.95,544.55 135.16,548.74 135.37,541.91 135.58,543.87 135.79,551.88 135.99,547.46 136.20,548.29 136.41,546.92 136.62,546.47 136.83,542.08 137.04,543.17 137.25,545.04 137.46,540.83 137.67,544.24 137.88,537.55 138.08,541.41 138.29,542.87 138.50,536.43 138.71,534.51 138.92,538.81 139.13,535.23 139.34,538.75 139.55,535.32 139.76,536.58 139.97,540.48 140.17,536.18 140.38,532.29 140.59,528.41 140.80,530.98 141.01,533.37 141.22,536.64 141.43,534.58 141.64,532.85 141.85,542.45 142.06,532.17 142.26,536.50 142.47,531.00 142.68,528.78 142.89,523.97 143.10,524.02 143.31,524.67 143.52,522.57 143.73,524.24 143.94,525.67 144.15,523.57 144.35,521.31 144.56,520.11 144.77,519.21 144.98,518.62 145.19,515.91 145.40,515.32 145.61,514.49 145.82,515.24 146.03,514.96 146.24,513.46 146.44,507.18 146.65,500.66 146.86,500.13 147.07,505.76 147.28,513.79 147.67,615.60 148.45,620.42 148.86,621.97 149.27,621.70 149.68,620.78 150.09,619.75 150.49,621.93 150.90,622.30 151.31,619.47 151.44,621.21 151.65,619.70 151.86,619.93 152.07,619.18 152.28,617.53 152.49,617.98 152.70,618.11 152.90,620.51 153.11,621.62 153.32,620.44 153.53,618.45 153.74,616.38 153.95,613.41 154.16,613.93 154.37,613.94 154.58,612.39 154.79,612.37 154.99,612.01 155.20,612.63 155.41,609.67 155.62,610.22 155.83,607.88 156.04,608.62 156.25,605.12 156.46,605.43 156.67,602.54 156.88,603.65 157.08,602.24 157.29,599.35 157.50,600.52 157.71,599.97 157.92,600.32 158.13,602.98 158.34,600.92 158.55,599.46 158.76,600.63 158.97,598.96 159.17,599.77 159.38,600.66 159.59,599.90 159.80,600.43 160.01,596.71 160.22,599.80 160.43,598.54 160.64,597.49 160.85,600.97 161.06,602.77 161.26,600.73 161.47,600.99 161.68,600.00 161.89,598.41 162.10,599.57 162.31,601.26 162.52,604.47 162.73,602.33 162.94,602.57 163.15,600.98 163.35,600.12 163.56,601.79 163.77,598.51 163.98,597.39 164.19,597.02 164.40,599.56 164.61,600.50 164.82,601.59 165.03,602.31 165.24,603.95 165.44,603.04 165.65,603.01 165.86,602.31 166.07,602.41 166.28,599.71 166.49,599.30 166.70,602.77 166.91,601.67 167.12,599.60 167.32,595.89 167.53,594.71 167.74,593.25 167.95,592.26 168.16,589.16 168.37,588.14 168.58,587.06 168.79,585.92 169.00,582.77 169.21,581.70 169.41,581.93 169.62,578.24 169.83,577.16 170.04,571.59 170.25,573.26 170.46,571.97 170.67,572.86 170.88,571.90 171.09,577.12 171.30,576.46 171.50,568.73 171.71,571.71 171.92,570.44 172.13,570.70 172.34,576.14 172.55,572.24 172.76,570.36 172.97,571.05 173.18,570.94 173.39,571.31 173.59,569.97 173.80,572.44 174.01,567.48 174.22,568.56 174.43,570.47 174.64,571.77 174.85,566.46 175.06,566.02 175.27,571.03 175.48,572.23 175.68,569.89 175.89,565.65 176.10,569.24 176.31,574.57 176.52,567.82 176.73,563.64 176.94,562.98 177.15,561.77 177.36,563.88 177.57,559.49 177.77,558.37 177.98,571.10 178.19,563.79 178.40,567.15 178.61,558.07 178.82,558.81 179.03,557.54 179.24,557.65 179.45,560.01 179.66,558.26 179.86,555.83 180.07,555.35 180.28,554.47 180.49,549.79 180.70,555.47 180.91,556.84 181.12,554.10 181.33,554.24 181.54,564.51 181.75,556.31 181.95,554.74 182.16,554.73 182.37,553.36 182.58,556.07 182.79,554.78 183.00,554.47 183.21,552.82 183.42,552.97 183.63,549.75 183.84,546.86 184.04,547.25 184.25,548.79 184.46,545.83 184.67,548.44 184.88,549.59 185.09,550.67 185.30,552.92 185.51,549.98 185.72,547.18 185.92,547.92 186.13,546.43 186.34,545.78 186.55,543.74 186.76,545.91 186.97,543.01 187.18,545.60 187.39,545.86 187.60,544.53 187.81,544.17 188.01,547.62 188.22,545.53 188.43,544.21 188.64,543.57 188.85,541.86 189.06,538.03 189.27,537.54 189.48,537.20 189.69,539.70 189.90,542.52 190.10,543.50 190.31,542.16 190.52,537.36 190.73,538.95 190.94,536.39 191.15,538.51 191.36,537.03 191.57,535.64 191.78,534.64 191.99,542.59 192.19,538.17 192.40,537.94 192.61,536.41 192.82,531.22 193.03,533.05 193.24,533.48 193.45,530.39 193.66,534.06 193.87,534.64 194.08,530.56 194.28,532.21 194.49,528.74 194.70,525.46 194.91,525.46 195.12,523.01 195.33,524.13 195.54,526.34 195.75,524.34 195.96,524.40 196.17,523.05 196.37,519.97 196.58,520.08 196.79,517.40 197.00,517.51 197.21,514.18 197.42,512.40 197.63,513.55 197.84,513.63 198.05,514.28 198.26,513.01 198.46,503.95 198.67,498.98 198.88,497.41 199.09,507.60 199.30,516.33 199.69,615.60 200.47,619.24 200.88,621.30 201.29,621.96 201.70,620.55 202.11,622.13 202.51,620.00 202.92,621.56 203.33,619.70 203.46,621.21 203.67,623.97 203.88,622.42 204.09,622.84 204.30,624.05 204.51,623.68 204.72,622.90 204.92,620.70 205.13,622.87 205.34,620.64 205.55,617.91 205.76,617.14 205.97,616.30 206.18,616.11 206.39,617.14 206.60,614.96 206.81,613.41 207.01,611.55 207.22,607.39 207.43,606.89 207.64,606.50 207.85,604.21 208.06,606.32 208.27,606.81 208.48,605.54 208.69,604.67 208.90,601.79 209.10,600.96 209.31,597.81 209.52,596.41 209.73,596.53 209.94,598.13 210.15,597.65 210.36,597.04 210.57,599.18 210.78,598.46 210.99,597.48 211.19,597.50 211.40,595.76 211.61,595.30 211.82,597.87 212.03,598.15 212.24,599.67 212.45,598.69 212.66,600.12 212.87,598.57 213.08,598.41 213.28,597.56 213.49,598.63 213.70,601.10 213.91,598.21 214.12,599.18 214.33,597.67 214.54,597.99 214.75,597.79 214.96,596.06 215.17,597.04 215.37,596.15 215.58,599.55 215.79,598.33 216.00,599.10 216.21,599.39 216.42,599.35 216.63,599.34 216.84,597.87 217.05,602.05 217.26,602.19 217.46,603.56 217.67,602.04 217.88,602.81 218.09,601.39 218.30,601.41 218.51,599.67 218.72,597.84 218.93,598.38 219.14,597.48 219.34,597.89 219.55,595.08 219.76,591.96 219.97,591.34 220.18,587.98 220.39,589.67 220.60,589.69 220.81,588.38 221.02,585.68 221.23,582.68 221.43,580.33 221.64,578.23 221.85,575.19 222.06,574.80 222.27,577.39 222.48,577.06 222.69,571.22 222.90,574.71 223.11,575.96 223.32,575.35 223.52,573.37 223.73,574.50 223.94,571.86 224.15,572.37 224.36,571.23 224.57,571.60 224.78,572.11 224.99,571.98 225.20,567.33 225.41,565.49 225.61,568.34 225.82,571.45 226.03,572.48 226.24,567.52 226.45,567.33 226.66,567.25 226.87,565.40 227.08,567.54 227.29,566.42 227.50,566.63 227.70,563.98 227.91,564.70 228.12,566.21 228.33,567.86 228.54,569.21 228.75,569.53 228.96,564.59 229.17,563.82 229.38,563.89 229.59,563.82 229.79,573.93 230.00,564.05 230.21,564.59 230.42,562.54 230.63,557.48 230.84,571.61 231.05,560.05 231.26,556.31 231.47,558.07 231.68,556.92 231.88,561.05 232.09,561.49 232.30,567.03 232.51,560.81 232.72,555.77 232.93,553.37 233.14,554.34 233.35,554.18 233.56,553.64 233.77,553.64 233.97,555.27 234.18,553.00 234.39,555.62 234.60,556.56 234.81,548.68 235.02,553.23 235.23,560.68 235.44,552.67 235.65,556.00 235.86,552.57 236.06,553.90 236.27,554.29 236.48,555.97 236.69,553.05 236.90,552.07 237.11,552.21 237.32,547.89 237.53,546.53 237.74,550.80 237.94,545.96 238.15,546.98 238.36,548.75 238.57,543.52 238.78,545.89 238.99,547.54 239.20,547.45 239.41,546.78 239.62,547.64 239.83,547.65 240.03,549.54 240.24,547.48 240.45,546.50 240.66,542.65 240.87,541.07 241.08,544.38 241.29,544.80 241.50,546.08 241.71,543.12 241.92,542.10 242.12,540.57 242.33,541.25 242.54,540.75 242.75,538.42 242.96,536.00 243.17,535.68 243.38,540.42 243.59,539.03 243.80,538.69 244.01,536.20 244.21,535.39 244.42,534.17 244.63,534.04 244.84,532.37 245.05,536.95 245.26,537.38 245.47,533.48 245.68,531.97 245.89,534.55 246.10,534.08 246.30,531.77 246.51,529.60 246.72,527.40 246.93,526.95 247.14,529.33 247.35,534.77 247.56,525.47 247.77,525.60 247.98,525.09 248.19,521.95 248.39,521.24 248.60,519.16 248.81,519.63 249.02,517.84 249.23,518.79 249.44,517.68 249.65,516.82 249.86,514.56 250.07,513.50 250.28,513.11 250.48,504.49 250.69,497.12 250.90,496.87 251.11,504.46 251.32,513.42 251.71,615.60 252.49,621.66 252.90,619.48 253.31,618.59 253.72,622.15 254.13,620.61 254.53,621.41 254.94,620.33 255.35,620.57 255.48,621.21 255.69,620.45 255.90,620.80 256.11,619.45 256.32,620.54 256.53,621.31 256.74,618.19 256.94,620.50 257.15,621.41 257.36,621.22 257.57,622.56 257.78,623.72 257.99,619.63 258.20,619.24 258.41,618.23 258.62,616.94 258.83,616.55 259.03,615.99 259.24,613.44 259.45,608.31 259.66,607.00 259.87,605.71 260.08,607.52 260.29,606.07 260.50,606.29 260.71,603.24 260.92,602.28 261.12,600.84 261.33,600.33 261.54,600.89 261.75,602.45 261.96,600.44 262.17,601.86 262.38,602.38 262.59,601.41 262.80,601.33 263.01,599.89 263.21,597.94 263.42,597.92 263.63,598.07 263.84,598.45 264.05,597.57 264.26,600.79 264.47,599.73 264.68,600.92 264.89,602.09 265.10,601.13 265.30,601.14 265.51,599.85 265.72,598.41 265.93,602.29 266.14,601.57 266.35,598.39 266.56,597.90 266.77,596.76 266.98,597.90 267.19,600.66 267.39,601.87 267.60,600.05 267.81,598.59 268.02,600.01 268.23,600.20 268.44,599.57 268.65,602.43 268.86,602.56 269.07,600.18 269.28,598.21 269.48,600.42 269.69,599.32 269.90,601.40 270.11,602.36 270.32,604.60 270.53,601.26 270.74,600.78 270.95,596.47 271.16,596.03 271.36,594.89 271.57,596.26 271.78,591.86 271.99,591.09 272.20,589.67 272.41,590.94 272.62,586.72 272.83,583.42 273.04,582.95 273.25,581.02 273.45,578.77 273.66,575.95 273.87,574.76 274.08,573.19 274.29,573.24 274.50,577.37 274.71,576.07 274.92,575.98 275.13,574.69 275.34,574.76 275.54,574.62 275.75,572.68 275.96,569.97 276.17,577.88 276.38,576.64 276.59,573.61 276.80,570.11 277.01,584.54 277.22,570.84 277.43,569.59 277.63,566.72 277.84,567.85 278.05,571.85 278.26,574.47 278.47,569.56 278.68,568.53 278.89,570.66 279.10,569.54 279.31,571.46 279.52,569.15 279.72,578.01 279.93,568.57 280.14,569.81 280.35,567.18 280.56,563.56 280.77,561.38 280.98,562.80 281.19,561.65 281.40,559.79 281.61,563.85 281.81,567.97 282.02,563.45 282.23,562.18 282.44,564.93 282.65,560.67 282.86,563.64 283.07,559.79 283.28,559.41 283.49,561.21 283.70,560.54 283.90,563.14 284.11,561.23 284.32,556.23 284.53,556.13 284.74,555.89 284.95,557.12 285.16,556.30 285.37,555.57 285.58,559.70 285.79,558.06 285.99,560.36 286.20,559.21 286.41,553.86 286.62,554.96 286.83,557.99 287.04,558.98 287.25,552.20 287.46,553.55 287.67,554.03 287.88,552.88 288.08,550.39 288.29,548.89 288.50,548.03 288.71,552.90 288.92,549.71 289.13,548.64 289.34,550.00 289.55,548.36 289.76,545.71 289.96,549.57 290.17,544.87 290.38,544.67 290.59,546.05 290.80,551.72 291.01,545.23 291.22,542.37 291.43,543.52 291.64,544.32 291.85,541.99 292.05,541.31 292.26,541.78 292.47,542.46 292.68,543.55 292.89,546.37 293.10,542.34 293.31,540.85 293.52,538.62 293.73,542.96 293.94,540.88 294.14,541.93 294.35,542.76 294.56,541.93 294.77,542.83 294.98,541.06 295.19,539.23 295.40,541.60 295.61,536.71 295.82,536.73 296.03,534.30 296.23,536.67 296.44,536.09 296.65,535.62 296.86,531.53 297.07,531.88 297.28,535.07 297.49,537.04 297.70,532.13 297.91,526.79 298.12,533.28 298.32,530.02 298.53,526.02 298.74,529.42 298.95,527.40 299.16,523.79 299.37,522.47 299.58,523.84 299.79,517.06 300.00,517.56 300.21,518.29 300.41,519.82 300.62,517.47 300.83,519.38 301.04,518.94 301.25,516.65 301.46,517.42 301.67,513.86 301.88,512.09 302.09,513.06 302.30,513.38 302.50,507.63 302.71,501.19 302.92,499.45 303.13,506.21 303.34,513.90 303.73,615.60 304.51,621.84 305.29,612.48 305.81,618.72" fill="none" stroke="#f0aa72" stroke-width="0.85" stroke-linejoin="round" opacity="1.0"/>
<rect x="36.0" y="489.0" width="50.0" height="20.3" rx="0.8" fill="#fff" fill-opacity="0.82" stroke="#b9b9b9" stroke-width="0.75"/>
<line x1="37.8" y1="494.89" x2="50.2" y2="494.89" stroke="#98b9e2" stroke-width="1.5"/>
<line x1="37.8" y1="504.02" x2="50.2" y2="504.02" stroke="#f3b485" stroke-width="1.5"/>
<text x="53.70" y="497.09" font-size="5.4" font-weight="400" fill="#222" text-anchor="start" >Ground Truth</text>
<text x="53.70" y="505.92" font-size="5.4" font-weight="400" fill="#222" text-anchor="start" >Predictions</text>
<text x="30.20" y="493.85" font-size="8.2" font-weight="400" fill="#262626" text-anchor="end" >29</text>
<text x="30.20" y="525.05" font-size="8.2" font-weight="400" fill="#262626" text-anchor="end" >28</text>
<text x="30.20" y="556.25" font-size="8.2" font-weight="400" fill="#262626" text-anchor="end" >27</text>
<text x="30.20" y="587.35" font-size="8.2" font-weight="400" fill="#262626" text-anchor="end" >26</text>
<text x="30.20" y="618.55" font-size="8.2" font-weight="400" fill="#262626" text-anchor="end" >25</text>
<line x1="32.1" y1="490.9" x2="33.5" y2="490.9" stroke="#999" stroke-width="0.6"/>
<line x1="32.1" y1="522.1" x2="33.5" y2="522.1" stroke="#999" stroke-width="0.6"/>
<line x1="32.1" y1="553.3" x2="33.5" y2="553.3" stroke="#999" stroke-width="0.6"/>
<line x1="32.1" y1="584.4" x2="33.5" y2="584.4" stroke="#999" stroke-width="0.6"/>
<line x1="32.1" y1="615.6" x2="33.5" y2="615.6" stroke="#999" stroke-width="0.6"/>
<text x="48.00" y="639.15" font-size="8.2" font-weight="400" fill="#262626" text-anchor="middle" >0</text>
<text x="99.60" y="639.15" font-size="8.2" font-weight="400" fill="#262626" text-anchor="middle" >20</text>
<text x="151.80" y="639.15" font-size="8.2" font-weight="400" fill="#262626" text-anchor="middle" >40</text>
<text x="204.10" y="639.15" font-size="8.2" font-weight="400" fill="#262626" text-anchor="middle" >60</text>
<text x="256.80" y="639.15" font-size="8.2" font-weight="400" fill="#262626" text-anchor="middle" >80</text>
<text x="308.10" y="639.15" font-size="8.2" font-weight="400" fill="#262626" text-anchor="middle" >100</text>
<line x1="48.0" y1="628.2" x2="48.0" y2="629.6" stroke="#999" stroke-width="0.6"/>
<line x1="99.6" y1="628.2" x2="99.6" y2="629.6" stroke="#999" stroke-width="0.6"/>
<line x1="151.8" y1="628.2" x2="151.8" y2="629.6" stroke="#999" stroke-width="0.6"/>
<line x1="204.1" y1="628.2" x2="204.1" y2="629.6" stroke="#999" stroke-width="0.6"/>
<line x1="256.8" y1="628.2" x2="256.8" y2="629.6" stroke="#999" stroke-width="0.6"/>
<line x1="308.1" y1="628.2" x2="308.1" y2="629.6" stroke="#999" stroke-width="0.6"/>
<text x="172.40" y="655.00" font-size="10.5" font-weight="400" fill="#1a1a1a" text-anchor="middle" >Time/s</text>
<text x="0" y="0" font-size="10.5" fill="#1a1a1a" text-anchor="middle" transform="translate(13.60,554.00) rotate(-90)" font-family="Liberation Sans, sans-serif">Shear Force/KN</text>
<rect x="359.6" y="485.5" width="321.79999999999995" height="140.0" fill="none" stroke="#a3a3a3" stroke-width="1"/>
<polyline points="373.20,531.06 374.00,563.14 375.30,607.05 375.62,600.95 375.93,594.98 376.25,589.18 376.57,583.54 376.88,578.09 377.20,572.83 377.52,567.79 377.83,562.98 378.15,558.41 378.47,554.09 378.78,550.04 379.10,546.27 379.41,542.78 379.73,539.60 380.05,536.73 380.36,534.17 380.68,531.94 381.00,530.04 381.31,528.48 381.63,527.26 381.95,526.38 382.26,525.86 382.58,525.68 382.81,527.28 383.04,531.86 383.26,538.89 383.49,547.51 383.72,556.68 383.95,565.30 384.18,572.32 384.40,576.91 384.63,578.50 384.88,575.42 385.12,572.40 385.36,569.47 385.61,566.62 385.85,563.86 386.09,561.20 386.33,558.65 386.58,556.22 386.82,553.91 387.06,551.72 387.31,549.68 387.55,547.77 387.79,546.01 388.04,544.40 388.28,542.95 388.52,541.65 388.77,540.52 389.01,539.56 389.25,538.77 389.50,538.16 389.74,537.72 389.98,537.45 390.23,537.36 390.40,539.44 390.58,545.41 390.75,554.57 390.93,565.81 391.10,577.76 391.28,589.00 391.45,598.15 391.63,604.13 391.80,606.21 392.12,600.44 392.44,594.81 392.76,589.32 393.08,583.99 393.40,578.83 393.72,573.87 394.04,569.10 394.35,564.55 394.67,560.23 394.99,556.15 395.31,552.32 395.63,548.75 395.95,545.46 396.27,542.45 396.59,539.74 396.91,537.32 397.23,535.21 397.54,533.42 397.86,531.94 398.18,530.79 398.50,529.96 398.82,529.46 399.14,529.30 399.37,530.86 399.60,535.34 399.83,542.22 400.06,550.65 400.29,559.62 400.52,568.05 400.75,574.93 400.98,579.42 401.21,580.97 401.49,577.79 401.77,574.67 402.06,571.64 402.34,568.69 402.62,565.85 402.91,563.10 403.19,560.47 403.47,557.95 403.75,555.57 404.04,553.31 404.32,551.20 404.60,549.22 404.89,547.41 405.17,545.74 405.45,544.24 405.73,542.91 406.02,541.74 406.30,540.75 406.58,539.93 406.87,539.29 407.15,538.84 407.43,538.56 407.71,538.47 407.92,540.47 408.12,546.22 408.33,555.04 408.53,565.85 408.73,577.36 408.94,588.17 409.14,596.99 409.35,602.74 409.55,604.74 409.86,599.27 410.17,593.93 410.49,588.73 410.80,583.68 411.11,578.80 411.42,574.09 411.73,569.58 412.05,565.27 412.36,561.17 412.67,557.30 412.98,553.68 413.30,550.30 413.61,547.18 413.92,544.33 414.23,541.75 414.54,539.46 414.86,537.46 415.17,535.76 415.48,534.36 415.79,533.27 416.10,532.49 416.42,532.02 416.73,531.86 416.95,533.00 417.18,536.28 417.40,541.30 417.63,547.46 417.85,554.02 418.08,560.18 418.30,565.20 418.53,568.48 418.75,569.62 419.00,567.33 419.24,565.10 419.48,562.92 419.72,560.80 419.96,558.76 420.21,556.79 420.45,554.90 420.69,553.09 420.93,551.38 421.17,549.76 421.42,548.24 421.66,546.82 421.90,545.51 422.14,544.32 422.39,543.24 422.63,542.28 422.87,541.45 423.11,540.73 423.35,540.15 423.60,539.69 423.84,539.36 424.08,539.16 424.32,539.10 424.50,541.11 424.67,546.89 424.85,555.74 425.02,566.61 425.19,578.17 425.37,589.03 425.54,597.89 425.72,603.67 425.89,605.67 426.20,599.84 426.52,594.14 426.83,588.59 427.14,583.21 427.45,577.99 427.76,572.97 428.07,568.15 428.38,563.55 428.70,559.18 429.01,555.06 429.32,551.19 429.63,547.58 429.94,544.25 430.25,541.21 430.56,538.46 430.88,536.02 431.19,533.89 431.50,532.07 431.81,530.58 432.12,529.41 432.43,528.57 432.75,528.07 433.06,527.91 433.28,529.39 433.51,533.68 433.73,540.25 433.95,548.31 434.18,556.88 434.40,564.94 434.63,571.51 434.85,575.80 435.08,577.29 435.34,573.66 435.60,570.12 435.87,566.66 436.13,563.31 436.39,560.07 436.66,556.94 436.92,553.95 437.18,551.08 437.44,548.37 437.71,545.80 437.97,543.39 438.23,541.15 438.50,539.08 438.76,537.18 439.02,535.47 439.29,533.95 439.55,532.63 439.81,531.50 440.08,530.57 440.34,529.84 440.60,529.32 440.86,529.01 441.13,528.91 441.32,531.29 441.51,538.14 441.70,548.65 441.89,561.53 442.08,575.25 442.26,588.13 442.45,598.63 442.64,605.49 442.83,607.87 443.15,602.15 443.46,596.57 443.77,591.13 444.09,585.84 444.40,580.73 444.71,575.81 445.03,571.08 445.34,566.57 445.66,562.29 445.97,558.24 446.28,554.45 446.60,550.91 446.91,547.65 447.22,544.66 447.54,541.97 447.85,539.57 448.16,537.48 448.48,535.70 448.79,534.24 449.10,533.09 449.42,532.28 449.73,531.78 450.05,531.62 450.27,533.09 450.50,537.34 450.72,543.85 450.95,551.84 451.18,560.34 451.40,568.33 451.63,574.84 451.85,579.09 452.08,580.56 452.35,577.09 452.63,573.70 452.90,570.40 453.18,567.20 453.45,564.10 453.72,561.11 454.00,558.24 454.27,555.51 454.55,552.91 454.82,550.45 455.10,548.15 455.37,546.00 455.64,544.02 455.92,542.21 456.19,540.58 456.47,539.13 456.74,537.86 457.02,536.78 457.29,535.89 457.56,535.20 457.84,534.70 458.11,534.40 458.39,534.30 458.59,536.50 458.78,542.82 458.98,552.50 459.18,564.39 459.38,577.03 459.57,588.91 459.77,598.60 459.97,604.92 460.17,607.11 460.48,601.19 460.78,595.39 461.09,589.75 461.40,584.27 461.71,578.96 462.02,573.86 462.32,568.96 462.63,564.28 462.94,559.84 463.25,555.64 463.56,551.70 463.86,548.04 464.17,544.65 464.48,541.56 464.79,538.76 465.10,536.28 465.40,534.11 465.71,532.26 466.02,530.74 466.33,529.56 466.64,528.71 466.94,528.20 467.25,528.03 467.47,529.76 467.70,534.74 467.92,542.37 468.14,551.73 468.36,561.69 468.58,571.05 468.81,578.68 469.03,583.66 469.25,585.39 469.51,581.77 469.78,578.23 470.04,574.78 470.31,571.43 470.57,568.19 470.84,565.06 471.10,562.07 471.36,559.21 471.63,556.49 471.89,553.93 472.16,551.52 472.42,549.28 472.69,547.21 472.95,545.32 473.21,543.61 473.48,542.09 473.74,540.77 474.01,539.64 474.27,538.71 474.53,537.99 474.80,537.47 475.06,537.15 475.33,537.05 475.52,539.25 475.71,545.58 475.90,555.28 476.09,567.18 476.28,579.84 476.47,591.74 476.66,601.44 476.85,607.77 477.04,609.97 477.36,604.03 477.68,598.23 477.99,592.58 478.31,587.09 478.63,581.78 478.94,576.66 479.26,571.76 479.58,567.07 479.89,562.62 480.21,558.42 480.53,554.48 480.84,550.80 481.16,547.41 481.48,544.32 481.79,541.52 482.11,539.03 482.43,536.86 482.74,535.01 483.06,533.49 483.38,532.30 483.69,531.45 484.01,530.94 484.33,530.77 484.56,532.28 484.78,536.62 485.01,543.28 485.24,551.45 485.47,560.14 485.70,568.30 485.93,574.96 486.15,579.31 486.38,580.82 486.67,577.28 486.95,573.83 487.24,570.46 487.53,567.20 487.81,564.04 488.10,561.00 488.38,558.08 488.67,555.29 488.96,552.64 489.24,550.14 489.53,547.79 489.81,545.61 490.10,543.59 490.39,541.74 490.67,540.08 490.96,538.60 491.25,537.31 491.53,536.21 491.82,535.30 492.10,534.59 492.39,534.09 492.68,533.78 492.96,533.68 493.17,535.77 493.37,541.80 493.58,551.02 493.79,562.34 493.99,574.39 494.20,585.71 494.40,594.93 494.61,600.96 494.82,603.05 495.13,597.38 495.45,591.84 495.76,586.45 496.08,581.21 496.40,576.14 496.71,571.26 497.03,566.57 497.34,562.10 497.66,557.86 497.97,553.84 498.29,550.08 498.61,546.58 498.92,543.34 499.24,540.38 499.55,537.71 499.87,535.34 500.19,533.26 500.50,531.50 500.82,530.05 501.13,528.91 501.45,528.10 501.76,527.61 502.08,527.45 502.31,528.82 502.53,532.75 502.76,538.78 502.99,546.17 503.22,554.04 503.45,561.44 503.67,567.47 503.90,571.40 504.13,572.77 504.41,569.42 504.69,566.16 504.97,562.97 505.25,559.88 505.53,556.90 505.81,554.02 506.09,551.25 506.37,548.61 506.65,546.11 506.93,543.74 507.21,541.52 507.49,539.46 507.77,537.55 508.05,535.80 508.33,534.23 508.61,532.83 508.89,531.60 509.17,530.56 509.45,529.70 509.73,529.04 510.01,528.56 510.29,528.27 510.57,528.17 510.77,530.58 510.97,537.49 511.18,548.09 511.38,561.10 511.58,574.93 511.78,587.93 511.98,598.53 512.19,605.45 512.39,607.85 512.71,601.98 513.02,596.24 513.34,590.65 513.66,585.22 513.98,579.97 514.30,574.91 514.61,570.05 514.93,565.42 515.25,561.01 515.57,556.86 515.89,552.96 516.20,549.32 516.52,545.97 516.84,542.91 517.16,540.14 517.47,537.68 517.79,535.53 518.11,533.70 518.43,532.19 518.75,531.02 519.06,530.18 519.38,529.67 519.70,529.50 519.93,531.46 520.16,537.11 520.39,545.76 520.62,556.36 520.85,567.65 521.07,578.26 521.30,586.91 521.53,592.56 521.76,594.52 522.02,590.14 522.27,585.86 522.52,581.69 522.78,577.64 523.03,573.72 523.28,569.95 523.54,566.33 523.79,562.88 524.04,559.59 524.30,556.49 524.55,553.59 524.81,550.88 525.06,548.38 525.31,546.09 525.57,544.03 525.82,542.19 526.07,540.59 526.33,539.23 526.58,538.10 526.83,537.23 527.09,536.60 527.34,536.22 527.60,536.10 527.78,538.17 527.96,544.15 528.14,553.31 528.33,564.54 528.51,576.49 528.69,587.73 528.87,596.88 529.06,602.86 529.24,604.94 529.55,599.10 529.86,593.40 530.17,587.84 530.48,582.45 530.79,577.23 531.10,572.20 531.41,567.38 531.72,562.77 532.03,558.40 532.33,554.27 532.64,550.39 532.95,546.78 533.26,543.45 533.57,540.41 533.88,537.66 534.19,535.21 534.50,533.08 534.81,531.26 535.12,529.76 535.43,528.60 535.74,527.76 536.05,527.26 536.36,527.09 536.58,528.39 536.80,532.13 537.03,537.86 537.25,544.90 537.47,552.38 537.70,559.41 537.92,565.14 538.14,568.89 538.36,570.19 538.63,567.27 538.89,564.43 539.16,561.66 539.42,558.96 539.68,556.36 539.95,553.85 540.21,551.44 540.47,549.15 540.74,546.96 541.00,544.90 541.26,542.97 541.53,541.17 541.79,539.51 542.06,537.99 542.32,536.61 542.58,535.39 542.85,534.33 543.11,533.42 543.37,532.68 543.64,532.09 543.90,531.68 544.16,531.42 544.43,531.34 544.62,533.45 544.81,539.51 545.00,548.79 545.19,560.18 545.38,572.31 545.57,583.70 545.76,592.98 545.95,599.04 546.14,601.15 546.46,595.92 546.78,590.81 547.10,585.83 547.42,580.99 547.74,576.31 548.06,571.81 548.38,567.49 548.70,563.36 549.02,559.44 549.34,555.74 549.66,552.26 549.98,549.03 550.30,546.04 550.62,543.31 550.94,540.85 551.26,538.65 551.58,536.74 551.90,535.11 552.22,533.77 552.54,532.72 552.86,531.97 553.18,531.52 553.50,531.37 553.73,532.52 553.96,535.80 554.19,540.84 554.42,547.02 554.65,553.59 554.88,559.77 555.12,564.81 555.35,568.09 555.58,569.24 555.84,566.85 556.11,564.52 556.38,562.25 556.64,560.04 556.91,557.91 557.17,555.86 557.44,553.88 557.71,552.00 557.97,550.21 558.24,548.53 558.50,546.94 558.77,545.47 559.04,544.10 559.30,542.86 559.57,541.74 559.84,540.74 560.10,539.86 560.37,539.12 560.63,538.51 560.90,538.03 561.17,537.69 561.43,537.48 561.70,537.42 561.89,539.50 562.08,545.52 562.27,554.73 562.47,566.03 562.66,578.05 562.85,589.35 563.04,598.56 563.23,604.57 563.43,606.66 563.74,600.71 564.05,594.88 564.36,589.21 564.67,583.71 564.98,578.38 565.29,573.25 565.60,568.33 565.91,563.63 566.22,559.16 566.53,554.95 566.84,550.99 567.15,547.31 567.45,543.91 567.76,540.80 568.07,537.99 568.38,535.50 568.69,533.32 569.00,531.46 569.31,529.94 569.62,528.74 569.93,527.89 570.24,527.38 570.55,527.21 570.78,528.58 571.00,532.53 571.22,538.59 571.45,546.01 571.67,553.92 571.89,561.34 572.12,567.40 572.34,571.35 572.56,572.72 572.84,569.83 573.12,567.01 573.41,564.26 573.69,561.58 573.97,559.00 574.25,556.51 574.53,554.12 574.81,551.84 575.09,549.68 575.37,547.63 575.65,545.71 575.93,543.92 576.21,542.27 576.49,540.76 576.77,539.40 577.05,538.19 577.33,537.13 577.61,536.23 577.89,535.49 578.17,534.92 578.45,534.50 578.73,534.25 579.01,534.17 579.21,536.45 579.42,543.01 579.62,553.06 579.82,565.39 580.02,578.51 580.22,590.84 580.43,600.89 580.63,607.45 580.83,609.73 581.14,603.57 581.46,597.55 581.77,591.69 582.08,586.00 582.40,580.50 582.71,575.19 583.03,570.11 583.34,565.25 583.65,560.63 583.97,556.28 584.28,552.19 584.59,548.38 584.91,544.86 585.22,541.65 585.54,538.75 585.85,536.17 586.16,533.92 586.48,532.00 586.79,530.42 587.10,529.19 587.42,528.31 587.73,527.78 588.05,527.60 588.27,529.14 588.50,533.58 588.72,540.38 588.95,548.72 589.18,557.60 589.40,565.94 589.63,572.74 589.86,577.17 590.08,578.71 590.38,575.58 590.68,572.52 590.97,569.54 591.27,566.65 591.57,563.85 591.87,561.15 592.17,558.56 592.46,556.09 592.76,553.75 593.06,551.53 593.36,549.45 593.65,547.51 593.95,545.73 594.25,544.09 594.55,542.62 594.84,541.30 595.14,540.16 595.44,539.18 595.74,538.38 596.03,537.76 596.33,537.31 596.63,537.04 596.93,536.95 597.14,539.12 597.36,545.38 597.57,554.97 597.79,566.73 598.00,579.24 598.21,591.01 598.43,600.59 598.64,606.85 598.86,609.03 599.18,602.94 599.51,596.99 599.84,591.20 600.17,585.58 600.49,580.14 600.82,574.89 601.15,569.87 601.47,565.07 601.80,560.50 602.13,556.20 602.46,552.16 602.78,548.39 603.11,544.92 603.44,541.74 603.76,538.88 604.09,536.33 604.42,534.10 604.75,532.21 605.07,530.65 605.40,529.43 605.73,528.56 606.05,528.03 606.38,527.86 606.62,529.34 606.85,533.58 607.09,540.09 607.32,548.08 607.56,556.58 607.80,564.56 608.03,571.07 608.27,575.32 608.50,576.79 608.77,573.64 609.03,570.55 609.30,567.55 609.56,564.63 609.83,561.81 610.10,559.09 610.36,556.48 610.63,553.99 610.89,551.62 611.16,549.39 611.42,547.29 611.69,545.34 611.95,543.54 612.22,541.89 612.49,540.40 612.75,539.08 613.02,537.93 613.28,536.94 613.55,536.13 613.81,535.50 614.08,535.05 614.34,534.78 614.61,534.69 614.80,536.79 614.99,542.82 615.18,552.07 615.38,563.42 615.57,575.49 615.76,586.84 615.95,596.09 616.14,602.13 616.33,604.22 616.66,598.66 616.98,593.22 617.30,587.92 617.63,582.78 617.95,577.80 618.27,573.01 618.60,568.41 618.92,564.02 619.24,559.84 619.56,555.91 619.89,552.21 620.21,548.77 620.53,545.59 620.86,542.69 621.18,540.06 621.50,537.73 621.83,535.69 622.15,533.96 622.47,532.54 622.80,531.42 623.12,530.63 623.44,530.15 623.77,529.99 624.00,531.33 624.23,535.19 624.46,541.11 624.70,548.36 624.93,556.09 625.16,563.35 625.40,569.26 625.63,573.12 625.86,574.47 626.14,571.40 626.42,568.40 626.69,565.48 626.97,562.64 627.24,559.90 627.52,557.26 627.80,554.72 628.07,552.30 628.35,550.00 628.63,547.83 628.90,545.80 629.18,543.90 629.46,542.15 629.73,540.55 630.01,539.10 630.29,537.81 630.56,536.69 630.84,535.74 631.12,534.95 631.39,534.34 631.67,533.90 631.95,533.63 632.22,533.55 632.42,536.08 632.62,543.36 632.82,554.53 633.02,568.22 633.22,582.79 633.42,596.49 633.62,607.65 633.82,614.94 634.02,617.47 634.32,610.98 634.63,604.64 634.93,598.47 635.24,592.47 635.55,586.67 635.85,581.08 636.16,575.72 636.47,570.61 636.77,565.75 637.08,561.15 637.38,556.85 637.69,552.84 638.00,549.13 638.30,545.75 638.61,542.69 638.92,539.97 639.22,537.60 639.53,535.58 639.84,533.92 640.14,532.62 640.45,531.69 640.75,531.13 641.06,530.95 641.28,532.36 641.50,536.43 641.72,542.67 641.94,550.31 642.16,558.45 642.39,566.10 642.61,572.34 642.83,576.41 643.05,577.82 643.32,574.46 643.59,571.18 643.86,567.98 644.13,564.88 644.40,561.87 644.67,558.98 644.94,556.20 645.21,553.55 645.48,551.04 645.75,548.66 646.02,546.43 646.29,544.35 646.55,542.43 646.82,540.68 647.09,539.10 647.36,537.69 647.63,536.46 647.90,535.42 648.17,534.56 648.44,533.88 648.71,533.40 648.98,533.11 649.25,533.02 649.45,535.19 649.64,541.43 649.84,551.00 650.03,562.74 650.22,575.24 650.42,586.97 650.61,596.54 650.81,602.79 651.00,604.96 651.32,599.29 651.63,593.75 651.94,588.35 652.26,583.11 652.57,578.04 652.89,573.16 653.20,568.47 653.51,564.00 653.83,559.75 654.14,555.73 654.46,551.97 654.77,548.46 655.09,545.23 655.40,542.27 655.71,539.59 656.03,537.22 656.34,535.14 656.66,533.38 656.97,531.93 657.28,530.79 657.60,529.98 657.91,529.49 658.23,529.33 658.45,530.49 658.68,533.82 658.91,538.93 659.13,545.20 659.36,551.87 659.58,558.14 659.81,563.25 660.04,566.58 660.26,567.74 660.53,565.29 660.79,562.90 661.05,560.57 661.31,558.31 661.57,556.12 661.83,554.02 662.10,551.99 662.36,550.06 662.62,548.23 662.88,546.50 663.14,544.87 663.40,543.36 663.67,541.96 663.93,540.68 664.19,539.53 664.45,538.51 664.71,537.61 664.97,536.85 665.24,536.22 665.50,535.73 665.76,535.38 666.02,535.17 666.28,535.10 666.47,537.11 666.66,542.90 666.85,551.77 667.04,562.64 667.23,574.22 667.41,585.09 667.60,593.96 667.79,599.75 667.98,601.76" fill="none" stroke="#7ab2dc" stroke-width="1.0" stroke-linejoin="round" opacity="1.0"/>
<polyline points="373.00,522.62 373.80,517.56 374.10,607.05 374.40,611.41 375.70,610.06 376.30,593.38 377.10,590.00 377.75,578.19 378.41,564.41 379.06,555.33 379.72,548.25 380.37,539.47 381.03,536.39 381.68,535.71 382.13,509.50 382.48,532.54 382.93,608.03 383.23,611.50 384.53,610.15 385.13,584.07 385.93,580.69 386.41,571.48 386.90,564.77 387.38,557.58 387.87,545.88 388.36,544.10 388.84,540.62 389.33,539.81 389.78,508.82 390.13,536.16 390.58,608.12 390.88,612.06 392.18,610.71 392.78,585.00 393.58,581.63 394.24,569.92 394.91,563.88 395.57,552.01 396.24,551.01 396.91,544.01 397.57,536.58 398.24,537.79 398.69,505.55 399.04,534.11 399.49,608.69 399.79,610.75 401.09,609.40 401.69,583.58 402.49,580.20 403.11,576.43 403.72,565.02 404.34,558.39 404.96,550.11 405.58,545.01 406.20,545.77 406.81,539.85 407.26,512.44 407.61,539.74 408.06,607.37 408.36,610.91 409.66,609.56 410.26,593.43 411.06,590.05 411.74,581.29 412.43,573.93 413.11,566.51 413.79,560.85 414.47,551.11 415.15,551.05 415.83,546.24 416.28,498.61 416.63,546.49 417.08,607.53 417.38,611.71 418.68,610.36 419.28,594.62 420.08,591.24 420.56,578.88 421.03,563.03 421.51,555.80 421.99,543.77 422.47,539.26 422.94,536.51 423.42,532.51 423.87,509.68 424.22,530.16 424.67,608.33 424.97,610.89 426.27,609.54 426.87,580.12 427.67,576.74 428.31,565.76 428.95,556.60 429.59,550.00 430.23,540.69 430.88,537.75 431.52,532.80 432.16,534.88 432.61,512.57 432.96,529.58 433.41,607.52 433.71,611.90 435.01,610.55 435.61,583.41 436.41,580.03 436.95,572.60 437.50,561.97 438.04,557.65 438.59,549.25 439.14,542.50 439.68,542.04 440.23,545.07 440.68,509.25 441.03,538.43 441.48,608.53 441.78,611.85 443.08,610.50 443.68,580.85 444.48,577.48 445.14,567.70 445.81,560.02 446.48,554.15 447.14,548.60 447.81,543.53 448.48,540.05 449.15,538.16 449.60,502.62 449.95,535.86 450.40,608.47 450.70,611.24 452.00,609.89 452.60,586.28 453.40,582.90 453.98,576.05 454.56,564.71 455.15,556.15 455.73,547.74 456.32,542.47 456.90,539.07 457.49,539.18 457.94,509.40 458.29,534.06 458.74,607.86 459.04,610.72 460.34,609.37 460.94,583.91 461.74,580.54 462.40,575.12 463.06,562.10 463.72,559.94 464.37,554.36 465.03,549.28 465.69,547.31 466.35,546.15 466.80,512.91 467.15,542.69 467.60,607.34 467.90,608.94 469.20,607.59 469.80,584.11 470.60,580.74 471.15,572.17 471.70,556.79 472.24,549.86 472.79,541.83 473.33,539.90 473.88,533.00 474.43,532.63 474.88,502.35 475.23,530.13 475.68,605.57 475.98,611.06 477.28,609.71 477.88,575.77 478.68,572.39 479.36,563.61 480.03,554.22 480.71,546.66 481.39,541.83 482.07,536.07 482.75,532.78 483.43,537.32 483.88,511.07 484.23,531.48 484.68,607.68 484.98,611.17 486.28,609.82 486.88,588.82 487.68,585.45 488.30,573.35 488.93,566.60 489.56,555.94 490.18,545.62 490.81,543.04 491.44,538.59 492.06,536.57 492.51,499.33 492.86,533.85 493.31,607.79 493.61,608.46 494.91,607.11 495.51,581.86 496.31,578.48 497.01,570.96 497.70,561.56 498.40,553.15 499.09,544.71 499.79,540.01 500.48,536.75 501.18,532.31 501.63,507.60 501.98,532.61 502.43,605.08 502.73,609.43 504.03,608.08 504.63,587.93 505.43,584.55 506.04,575.47 506.64,562.83 507.25,554.13 507.85,551.58 508.46,545.84 509.07,541.91 509.67,542.74 510.12,496.75 510.47,537.65 510.92,606.05 511.22,610.17 512.52,608.82 513.12,586.64 513.92,583.26 514.62,572.54 515.31,562.53 516.01,554.90 516.71,541.23 517.41,543.04 518.10,535.93 518.80,532.22 519.25,509.12 519.60,530.02 520.05,606.79 520.35,609.32 521.65,607.97 522.25,582.56 523.05,579.19 523.57,568.08 524.09,560.65 524.61,548.31 525.13,541.59 525.65,535.63 526.17,529.76 526.70,530.38 527.15,505.23 527.50,528.00 527.95,605.95 528.25,609.34 529.55,607.99 530.15,582.45 530.95,579.07 531.59,570.19 532.23,566.65 532.88,554.34 533.52,551.31 534.17,546.50 534.81,546.46 535.46,543.61 535.91,510.51 536.26,540.42 536.71,605.97 537.01,611.46 538.31,610.11 538.91,586.34 539.71,582.96 540.25,570.01 540.80,565.37 541.35,558.88 541.89,549.18 542.44,543.49 542.98,537.32 543.53,539.12 543.98,493.31 544.33,533.93 544.78,608.09 545.08,611.50 546.38,610.15 546.98,588.91 547.78,585.53 548.47,568.40 549.16,561.96 549.85,547.37 550.53,541.31 551.22,531.18 551.91,526.61 552.60,529.74 553.05,507.83 553.40,523.17 553.85,608.12 554.15,609.84 555.45,608.49 556.05,589.75 556.85,586.38 557.41,579.16 557.98,571.47 558.54,560.57 559.11,553.16 559.67,552.05 560.24,547.48 560.80,545.30 561.25,506.41 561.60,541.97 562.05,606.47 562.35,611.67 563.65,610.32 564.25,587.88 565.05,584.50 565.71,571.78 566.36,562.83 567.02,548.74 567.68,541.19 568.34,539.47 569.00,535.14 569.65,531.21 570.10,505.03 570.45,530.27 570.90,608.29 571.20,610.51 572.50,609.16 573.10,583.44 573.90,580.06 574.50,571.04 575.11,564.77 575.71,554.62 576.31,550.83 576.91,537.10 577.51,535.52 578.11,535.02 578.56,506.62 578.91,534.15 579.36,607.14 579.66,611.48 580.96,610.13 581.56,581.01 582.36,577.64 583.04,565.46 583.73,559.38 584.41,547.88 585.10,542.50 585.78,538.29 586.46,534.79 587.15,530.45 587.60,503.48 587.95,527.95 588.40,608.10 588.70,609.97 590.00,608.62 590.60,590.62 591.40,587.24 592.06,575.03 592.72,562.88 593.38,551.04 594.04,539.67 594.70,535.49 595.37,532.65 596.03,528.25 596.48,499.23 596.83,525.57 597.28,606.59 597.58,607.93 598.88,606.58 599.48,584.52 600.28,581.14 601.02,568.61 601.76,558.79 602.51,548.99 603.25,542.38 603.99,538.49 604.74,533.63 605.48,532.09 605.93,510.26 606.28,528.56 606.73,604.55 607.03,609.56 608.33,608.21 608.93,578.51 609.73,575.13 610.30,567.83 610.87,558.40 611.44,547.72 612.00,543.61 612.57,539.70 613.14,538.23 613.71,533.90 614.16,506.05 614.51,532.31 614.96,606.18 615.26,611.53 616.56,610.17 617.16,585.30 617.96,581.92 618.66,572.32 619.36,559.14 620.06,551.58 620.76,546.92 621.46,539.92 622.17,538.66 622.87,538.97 623.32,497.22 623.67,533.92 624.12,608.15 624.42,611.57 625.72,610.22 626.32,588.77 627.12,585.39 627.72,573.08 628.32,561.95 628.92,560.44 629.52,545.54 630.12,543.85 630.72,536.15 631.32,537.00 631.77,513.03 632.12,531.85 632.57,608.19 632.87,611.90 634.17,610.55 634.77,579.56 635.57,576.19 636.23,569.73 636.88,567.13 637.54,556.34 638.19,552.88 638.85,550.44 639.51,548.68 640.16,539.96 640.61,511.36 640.96,543.09 641.41,608.52 641.71,611.31 643.01,609.96 643.61,592.39 644.41,589.01 644.97,579.45 645.54,569.01 646.10,562.15 646.66,551.58 647.23,548.12 647.79,546.46 648.35,544.19 648.80,509.70 649.15,539.16 649.60,607.94 649.90,611.33 651.20,609.98 651.80,581.66 652.60,578.28 653.28,568.69 653.95,559.22 654.63,547.39 655.30,545.98 655.98,538.67 656.65,534.97 657.33,537.29 657.78,509.97 658.13,531.99 658.58,607.96 658.88,611.73 660.18,610.38 660.78,584.43 661.58,581.06 662.12,569.88 662.66,561.04 663.21,555.97 663.75,548.73 664.29,539.48 664.84,543.46 665.38,539.75 665.83,507.80 666.18,536.82 666.63,608.35" fill="none" stroke="#f0aa72" stroke-width="1.0" stroke-linejoin="round" opacity="1.0"/>
<rect x="362.2" y="487.4" width="50.4" height="20.9" rx="0.8" fill="#fff" fill-opacity="0.82" stroke="#b9b9b9" stroke-width="0.75"/>
<line x1="364.0" y1="493.46" x2="376.4" y2="493.46" stroke="#98b9e2" stroke-width="1.5"/>
<line x1="364.0" y1="502.87" x2="376.4" y2="502.87" stroke="#f3b485" stroke-width="1.5"/>
<text x="379.00" y="495.66" font-size="5.4" font-weight="400" fill="#222" text-anchor="start" >Ground Truth</text>
<text x="379.00" y="504.77" font-size="5.4" font-weight="400" fill="#222" text-anchor="start" >Predictions</text>
<text x="356.30" y="498.55" font-size="8.2" font-weight="400" fill="#262626" text-anchor="end" >5.20</text>
<text x="356.30" y="515.55" font-size="8.2" font-weight="400" fill="#262626" text-anchor="end" >5.15</text>
<text x="356.30" y="532.35" font-size="8.2" font-weight="400" fill="#262626" text-anchor="end" >5.10</text>
<text x="356.30" y="549.15" font-size="8.2" font-weight="400" fill="#262626" text-anchor="end" >5.05</text>
<text x="356.30" y="565.95" font-size="8.2" font-weight="400" fill="#262626" text-anchor="end" >5.00</text>
<text x="356.30" y="582.75" font-size="8.2" font-weight="400" fill="#262626" text-anchor="end" >4.95</text>
<text x="356.30" y="599.65" font-size="8.2" font-weight="400" fill="#262626" text-anchor="end" >4.90</text>
<text x="356.30" y="616.75" font-size="8.2" font-weight="400" fill="#262626" text-anchor="end" >4.85</text>
<line x1="358.2" y1="495.6" x2="359.6" y2="495.6" stroke="#999" stroke-width="0.6"/>
<line x1="358.2" y1="512.6" x2="359.6" y2="512.6" stroke="#999" stroke-width="0.6"/>
<line x1="358.2" y1="529.4" x2="359.6" y2="529.4" stroke="#999" stroke-width="0.6"/>
<line x1="358.2" y1="546.2" x2="359.6" y2="546.2" stroke="#999" stroke-width="0.6"/>
<line x1="358.2" y1="563.0" x2="359.6" y2="563.0" stroke="#999" stroke-width="0.6"/>
<line x1="358.2" y1="579.8" x2="359.6" y2="579.8" stroke="#999" stroke-width="0.6"/>
<line x1="358.2" y1="596.7" x2="359.6" y2="596.7" stroke="#999" stroke-width="0.6"/>
<line x1="358.2" y1="613.8" x2="359.6" y2="613.8" stroke="#999" stroke-width="0.6"/>
<text x="373.00" y="635.65" font-size="8.2" font-weight="400" fill="#262626" text-anchor="middle" >0</text>
<text x="422.20" y="635.65" font-size="8.2" font-weight="400" fill="#262626" text-anchor="middle" >33</text>
<text x="469.40" y="635.65" font-size="8.2" font-weight="400" fill="#262626" text-anchor="middle" >67</text>
<text x="519.00" y="635.65" font-size="8.2" font-weight="400" fill="#262626" text-anchor="middle" >100</text>
<text x="568.30" y="635.65" font-size="8.2" font-weight="400" fill="#262626" text-anchor="middle" >133</text>
<text x="616.20" y="635.65" font-size="8.2" font-weight="400" fill="#262626" text-anchor="middle" >167</text>
<text x="664.30" y="635.65" font-size="8.2" font-weight="400" fill="#262626" text-anchor="middle" >200</text>
<line x1="373.0" y1="625.5" x2="373.0" y2="626.9" stroke="#999" stroke-width="0.6"/>
<line x1="422.2" y1="625.5" x2="422.2" y2="626.9" stroke="#999" stroke-width="0.6"/>
<line x1="469.4" y1="625.5" x2="469.4" y2="626.9" stroke="#999" stroke-width="0.6"/>
<line x1="519.0" y1="625.5" x2="519.0" y2="626.9" stroke="#999" stroke-width="0.6"/>
<line x1="568.3" y1="625.5" x2="568.3" y2="626.9" stroke="#999" stroke-width="0.6"/>
<line x1="616.2" y1="625.5" x2="616.2" y2="626.9" stroke="#999" stroke-width="0.6"/>
<line x1="664.3" y1="625.5" x2="664.3" y2="626.9" stroke="#999" stroke-width="0.6"/>
<text x="514.80" y="645.00" font-size="10.5" font-weight="400" fill="#1a1a1a" text-anchor="middle" >Time/s</text>
<text x="0" y="0" font-size="10.8" fill="#1a1a1a" text-anchor="middle" transform="translate(336.60,547.80) rotate(-90)" font-family="Liberation Sans, sans-serif">Shear Stress/MPa</text>
</svg>
</body></html>
